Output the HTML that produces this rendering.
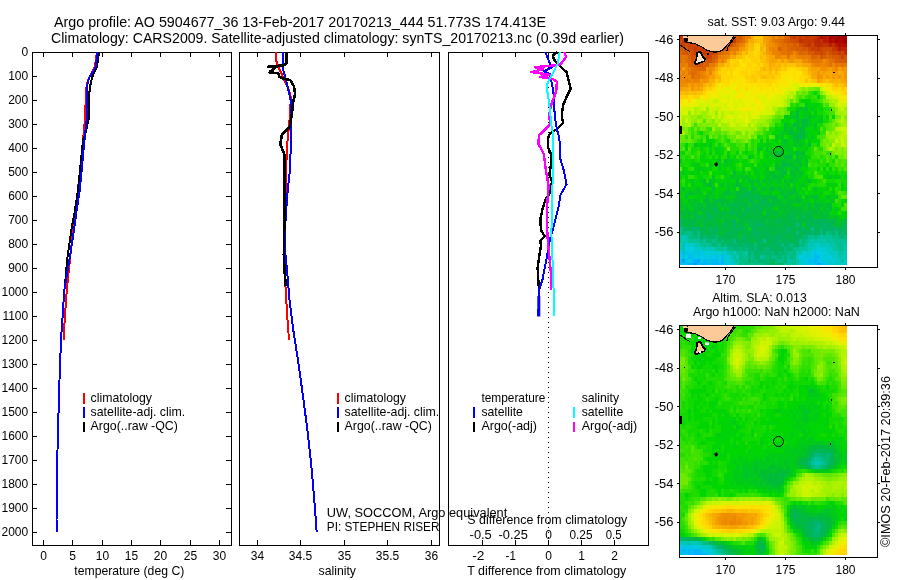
<!DOCTYPE html>
<html><head><meta charset="utf-8"><title>Argo profile AO 5904677_36</title>
<style>
html,body{margin:0;padding:0;background:#fff;}
svg{display:block;font-family:'Liberation Sans', Arial, Helvetica, sans-serif;}
text{fill:#000;}
</style></head><body>
<svg width="900" height="580" viewBox="0 0 900 580">
<rect x="0" y="0" width="900" height="580" fill="#fff"/>
<text x="54" y="26.8" font-size="14.2" text-anchor="start" textLength="492" lengthAdjust="spacingAndGlyphs">Argo profile: AO 5904677_36 13-Feb-2017 20170213_444 51.773S 174.413E</text>
<text x="51" y="43" font-size="14.2" text-anchor="start" textLength="573" lengthAdjust="spacingAndGlyphs">Climatology: CARS2009. Satellite-adjusted climatology: synTS_20170213.nc (0.39d earlier)</text>
<rect x="32.5" y="52.5" width="199" height="493" fill="none" stroke="#000" stroke-width="1"/>
<line x1="33" y1="52.5" x2="37" y2="52.5" stroke="#000" stroke-width="1"/>
<line x1="226" y1="52.5" x2="231" y2="52.5" stroke="#000" stroke-width="1"/>
<text x="28.2" y="56.3" font-size="12" text-anchor="end">0</text>
<line x1="33" y1="76.5" x2="37" y2="76.5" stroke="#000" stroke-width="1"/>
<line x1="226" y1="76.5" x2="231" y2="76.5" stroke="#000" stroke-width="1"/>
<text x="28.2" y="80.3" font-size="12" text-anchor="end">100</text>
<line x1="33" y1="100.5" x2="37" y2="100.5" stroke="#000" stroke-width="1"/>
<line x1="226" y1="100.5" x2="231" y2="100.5" stroke="#000" stroke-width="1"/>
<text x="28.2" y="104.3" font-size="12" text-anchor="end">200</text>
<line x1="33" y1="124.5" x2="37" y2="124.5" stroke="#000" stroke-width="1"/>
<line x1="226" y1="124.5" x2="231" y2="124.5" stroke="#000" stroke-width="1"/>
<text x="28.2" y="128.3" font-size="12" text-anchor="end">300</text>
<line x1="33" y1="148.5" x2="37" y2="148.5" stroke="#000" stroke-width="1"/>
<line x1="226" y1="148.5" x2="231" y2="148.5" stroke="#000" stroke-width="1"/>
<text x="28.2" y="152.3" font-size="12" text-anchor="end">400</text>
<line x1="33" y1="172.5" x2="37" y2="172.5" stroke="#000" stroke-width="1"/>
<line x1="226" y1="172.5" x2="231" y2="172.5" stroke="#000" stroke-width="1"/>
<text x="28.2" y="176.3" font-size="12" text-anchor="end">500</text>
<line x1="33" y1="196.5" x2="37" y2="196.5" stroke="#000" stroke-width="1"/>
<line x1="226" y1="196.5" x2="231" y2="196.5" stroke="#000" stroke-width="1"/>
<text x="28.2" y="200.3" font-size="12" text-anchor="end">600</text>
<line x1="33" y1="220.5" x2="37" y2="220.5" stroke="#000" stroke-width="1"/>
<line x1="226" y1="220.5" x2="231" y2="220.5" stroke="#000" stroke-width="1"/>
<text x="28.2" y="224.3" font-size="12" text-anchor="end">700</text>
<line x1="33" y1="244.5" x2="37" y2="244.5" stroke="#000" stroke-width="1"/>
<line x1="226" y1="244.5" x2="231" y2="244.5" stroke="#000" stroke-width="1"/>
<text x="28.2" y="248.3" font-size="12" text-anchor="end">800</text>
<line x1="33" y1="268.5" x2="37" y2="268.5" stroke="#000" stroke-width="1"/>
<line x1="226" y1="268.5" x2="231" y2="268.5" stroke="#000" stroke-width="1"/>
<text x="28.2" y="272.3" font-size="12" text-anchor="end">900</text>
<line x1="33" y1="292.5" x2="37" y2="292.5" stroke="#000" stroke-width="1"/>
<line x1="226" y1="292.5" x2="231" y2="292.5" stroke="#000" stroke-width="1"/>
<text x="28.2" y="296.3" font-size="12" text-anchor="end">1000</text>
<line x1="33" y1="316.5" x2="37" y2="316.5" stroke="#000" stroke-width="1"/>
<line x1="226" y1="316.5" x2="231" y2="316.5" stroke="#000" stroke-width="1"/>
<text x="28.2" y="320.3" font-size="12" text-anchor="end">1100</text>
<line x1="33" y1="340.5" x2="37" y2="340.5" stroke="#000" stroke-width="1"/>
<line x1="226" y1="340.5" x2="231" y2="340.5" stroke="#000" stroke-width="1"/>
<text x="28.2" y="344.3" font-size="12" text-anchor="end">1200</text>
<line x1="33" y1="364.5" x2="37" y2="364.5" stroke="#000" stroke-width="1"/>
<line x1="226" y1="364.5" x2="231" y2="364.5" stroke="#000" stroke-width="1"/>
<text x="28.2" y="368.3" font-size="12" text-anchor="end">1300</text>
<line x1="33" y1="388.5" x2="37" y2="388.5" stroke="#000" stroke-width="1"/>
<line x1="226" y1="388.5" x2="231" y2="388.5" stroke="#000" stroke-width="1"/>
<text x="28.2" y="392.3" font-size="12" text-anchor="end">1400</text>
<line x1="33" y1="412.5" x2="37" y2="412.5" stroke="#000" stroke-width="1"/>
<line x1="226" y1="412.5" x2="231" y2="412.5" stroke="#000" stroke-width="1"/>
<text x="28.2" y="416.3" font-size="12" text-anchor="end">1500</text>
<line x1="33" y1="436.5" x2="37" y2="436.5" stroke="#000" stroke-width="1"/>
<line x1="226" y1="436.5" x2="231" y2="436.5" stroke="#000" stroke-width="1"/>
<text x="28.2" y="440.3" font-size="12" text-anchor="end">1600</text>
<line x1="33" y1="460.5" x2="37" y2="460.5" stroke="#000" stroke-width="1"/>
<line x1="226" y1="460.5" x2="231" y2="460.5" stroke="#000" stroke-width="1"/>
<text x="28.2" y="464.3" font-size="12" text-anchor="end">1700</text>
<line x1="33" y1="484.5" x2="37" y2="484.5" stroke="#000" stroke-width="1"/>
<line x1="226" y1="484.5" x2="231" y2="484.5" stroke="#000" stroke-width="1"/>
<text x="28.2" y="488.3" font-size="12" text-anchor="end">1800</text>
<line x1="33" y1="508.5" x2="37" y2="508.5" stroke="#000" stroke-width="1"/>
<line x1="226" y1="508.5" x2="231" y2="508.5" stroke="#000" stroke-width="1"/>
<text x="28.2" y="512.3" font-size="12" text-anchor="end">1900</text>
<line x1="33" y1="532.5" x2="37" y2="532.5" stroke="#000" stroke-width="1"/>
<line x1="226" y1="532.5" x2="231" y2="532.5" stroke="#000" stroke-width="1"/>
<text x="28.2" y="536.3" font-size="12" text-anchor="end">2000</text>
<line x1="43.5" y1="545" x2="43.5" y2="540" stroke="#000" stroke-width="1"/>
<line x1="43.5" y1="53" x2="43.5" y2="57" stroke="#000" stroke-width="1"/>
<text x="43.5" y="560.3" font-size="12" text-anchor="middle">0</text>
<line x1="72.5" y1="545" x2="72.5" y2="540" stroke="#000" stroke-width="1"/>
<line x1="72.5" y1="53" x2="72.5" y2="57" stroke="#000" stroke-width="1"/>
<text x="72.5" y="560.3" font-size="12" text-anchor="middle">5</text>
<line x1="102.5" y1="545" x2="102.5" y2="540" stroke="#000" stroke-width="1"/>
<line x1="102.5" y1="53" x2="102.5" y2="57" stroke="#000" stroke-width="1"/>
<text x="102.5" y="560.3" font-size="12" text-anchor="middle">10</text>
<line x1="131.5" y1="545" x2="131.5" y2="540" stroke="#000" stroke-width="1"/>
<line x1="131.5" y1="53" x2="131.5" y2="57" stroke="#000" stroke-width="1"/>
<text x="131.5" y="560.3" font-size="12" text-anchor="middle">15</text>
<line x1="160.5" y1="545" x2="160.5" y2="540" stroke="#000" stroke-width="1"/>
<line x1="160.5" y1="53" x2="160.5" y2="57" stroke="#000" stroke-width="1"/>
<text x="160.5" y="560.3" font-size="12" text-anchor="middle">20</text>
<line x1="190.5" y1="545" x2="190.5" y2="540" stroke="#000" stroke-width="1"/>
<line x1="190.5" y1="53" x2="190.5" y2="57" stroke="#000" stroke-width="1"/>
<text x="190.5" y="560.3" font-size="12" text-anchor="middle">25</text>
<line x1="219.5" y1="545" x2="219.5" y2="540" stroke="#000" stroke-width="1"/>
<line x1="219.5" y1="53" x2="219.5" y2="57" stroke="#000" stroke-width="1"/>
<text x="219.5" y="560.3" font-size="12" text-anchor="middle">30</text>
<text x="74.3" y="574.8" font-size="12.2" text-anchor="start" textLength="110" lengthAdjust="spacingAndGlyphs">temperature (deg C)</text>
<rect x="239.5" y="52.5" width="200" height="493" fill="none" stroke="#000" stroke-width="1"/>
<line x1="257.5" y1="545" x2="257.5" y2="540" stroke="#000" stroke-width="1"/>
<line x1="257.5" y1="53" x2="257.5" y2="57" stroke="#000" stroke-width="1"/>
<text x="257.5" y="560.3" font-size="12" text-anchor="middle">34</text>
<line x1="300.5" y1="545" x2="300.5" y2="540" stroke="#000" stroke-width="1"/>
<line x1="300.5" y1="53" x2="300.5" y2="57" stroke="#000" stroke-width="1"/>
<text x="300.5" y="560.3" font-size="12" text-anchor="middle">34.5</text>
<line x1="344.5" y1="545" x2="344.5" y2="540" stroke="#000" stroke-width="1"/>
<line x1="344.5" y1="53" x2="344.5" y2="57" stroke="#000" stroke-width="1"/>
<text x="344.5" y="560.3" font-size="12" text-anchor="middle">35</text>
<line x1="387.5" y1="545" x2="387.5" y2="540" stroke="#000" stroke-width="1"/>
<line x1="387.5" y1="53" x2="387.5" y2="57" stroke="#000" stroke-width="1"/>
<text x="387.5" y="560.3" font-size="12" text-anchor="middle">35.5</text>
<line x1="431.5" y1="545" x2="431.5" y2="540" stroke="#000" stroke-width="1"/>
<line x1="431.5" y1="53" x2="431.5" y2="57" stroke="#000" stroke-width="1"/>
<text x="431.5" y="560.3" font-size="12" text-anchor="middle">36</text>
<text x="337.3" y="574.8" font-size="12.2" text-anchor="middle" textLength="37.4" lengthAdjust="spacingAndGlyphs">salinity</text>
<rect x="448.5" y="52.5" width="200" height="493" fill="none" stroke="#000" stroke-width="1"/>
<line x1="482.5" y1="545" x2="482.5" y2="540" stroke="#000" stroke-width="1"/>
<line x1="482.5" y1="53" x2="482.5" y2="57" stroke="#000" stroke-width="1"/>
<line x1="515.5" y1="545" x2="515.5" y2="540" stroke="#000" stroke-width="1"/>
<line x1="515.5" y1="53" x2="515.5" y2="57" stroke="#000" stroke-width="1"/>
<line x1="548.5" y1="545" x2="548.5" y2="540" stroke="#000" stroke-width="1"/>
<line x1="548.5" y1="53" x2="548.5" y2="57" stroke="#000" stroke-width="1"/>
<line x1="581.5" y1="545" x2="581.5" y2="540" stroke="#000" stroke-width="1"/>
<line x1="581.5" y1="53" x2="581.5" y2="57" stroke="#000" stroke-width="1"/>
<line x1="614.5" y1="545" x2="614.5" y2="540" stroke="#000" stroke-width="1"/>
<line x1="614.5" y1="53" x2="614.5" y2="57" stroke="#000" stroke-width="1"/>
<text x="472.3" y="559.8" font-size="12" text-anchor="start" textLength="12.2" lengthAdjust="spacingAndGlyphs">-2</text>
<text x="505.6" y="559.8" font-size="12" text-anchor="start" textLength="10.2" lengthAdjust="spacingAndGlyphs">-1</text>
<text x="548.5" y="559.8" font-size="12" text-anchor="middle">0</text>
<text x="581.5" y="559.8" font-size="12" text-anchor="middle">1</text>
<text x="614.5" y="559.8" font-size="12" text-anchor="middle">2</text>
<text x="469.6" y="538.5" font-size="12" text-anchor="start" textLength="22.2" lengthAdjust="spacingAndGlyphs">-0.5</text>
<text x="498.6" y="538.5" font-size="12" text-anchor="start" textLength="29.2" lengthAdjust="spacingAndGlyphs">-0.25</text>
<text x="548.5" y="538.5" font-size="12" text-anchor="middle">0</text>
<text x="569.5" y="538.5" font-size="12" text-anchor="start" textLength="23" lengthAdjust="spacingAndGlyphs">0.25</text>
<text x="605.8" y="538.5" font-size="12" text-anchor="start" textLength="15.8" lengthAdjust="spacingAndGlyphs">0.5</text>
<text x="467.3" y="574.8" font-size="12.2" text-anchor="start" textLength="159" lengthAdjust="spacingAndGlyphs">T difference from climatology</text>
<text x="467.3" y="524.4" font-size="12.2" text-anchor="start" textLength="160" lengthAdjust="spacingAndGlyphs">S difference from climatology</text>
<line x1="548.5" y1="52" x2="548.5" y2="545" stroke="#000" stroke-width="1" stroke-dasharray="1 4"/>
<polyline points="97.0,52.0 95.5,62.0 94.5,67.0 90.0,76.0 87.5,82.0 86.0,90.0 85.5,105.0 85.0,119.0 82.5,146.0 79.0,180.0 75.5,212.0 72.0,240.0 69.9,260.0 66.8,290.0 65.0,315.0 63.5,340.0" fill="none" stroke="#f00" stroke-width="2" stroke-linejoin="round" stroke-linecap="butt" shape-rendering="crispEdges"/>
<polyline points="99.0,52.0 98.0,60.0 97.0,67.0 94.0,73.0 92.0,77.6 90.5,84.5 89.0,95.0 88.6,119.0 86.0,132.0 83.0,140.0 81.0,160.0 78.0,190.0 75.0,210.0 71.7,228.0 67.1,260.0 65.0,285.0" fill="none" stroke="#000" stroke-width="2" stroke-linejoin="round" stroke-linecap="butt" shape-rendering="crispEdges"/>
<polyline points="97.5,52.0 96.5,60.0 95.5,67.0 93.0,72.0 89.0,77.6 87.5,84.0 86.7,100.0 86.7,119.0 84.5,140.0 82.6,160.0 79.8,190.0 76.7,210.0 74.3,228.0 69.4,260.0 64.3,290.0 62.7,315.0 61.0,340.0 59.5,380.0 58.3,420.0 57.5,450.0 57.0,480.0 57.0,500.0 56.5,520.0 56.5,532.0" fill="none" stroke="#00f" stroke-width="2" stroke-linejoin="round" stroke-linecap="butt" shape-rendering="crispEdges"/>
<polyline points="275.8,52.0 275.8,58.6 277.1,63.8 279.2,69.0 281.4,73.3 284.4,80.2 287.9,87.1 290.4,95.0 290.9,98.3 289.3,123.0 287.6,139.8 286.5,160.0 286.0,174.5 285.6,217.6 284.5,240.0 283.8,250.0 284.5,270.0 286.0,295.0 287.5,320.0 289.0,340.0" fill="none" stroke="#f00" stroke-width="2" stroke-linejoin="round" stroke-linecap="butt" shape-rendering="crispEdges"/>
<polyline points="282.7,52.0 282.7,64.7 283.6,71.6 285.3,76.7 287.0,84.5 289.2,93.1 290.6,100.0 291.0,130.0 290.4,160.0 289.5,174.5 287.6,191.7 285.6,217.6 285.0,240.0 285.5,255.0 287.0,270.0 289.5,300.0 293.3,330.0 298.7,365.0 303.5,400.0 307.4,430.0 311.3,465.0 314.3,500.0 316.7,532.0" fill="none" stroke="#00f" stroke-width="2" stroke-linejoin="round" stroke-linecap="butt" shape-rendering="crispEdges"/>
<polyline points="286.6,52.0 286.6,62.9 284.8,65.1 268.5,66.8 277.5,66.0 270.6,71.1 269.8,72.4 278.4,73.3 279.2,76.7 282.7,78.4 287.0,79.3 290.4,80.2 293.9,86.2 294.8,91.4 294.9,95.0 293.2,101.7 292.1,111.8 289.9,126.4 282.0,134.2 280.3,144.3 284.3,154.4 284.8,160.0 284.5,174.5 284.5,191.7 284.5,217.6 284.0,240.0 283.8,255.0 284.5,270.0 285.8,286.0" fill="none" stroke="#000" stroke-width="2.6" stroke-linejoin="round" stroke-linecap="butt" shape-rendering="crispEdges"/>
<polyline points="557.6,52.0 552.8,55.5 554.1,59.7 557.6,63.8 561.7,67.9 566.6,72.0 568.0,77.6 570.7,88.6 566.6,96.9 563.1,105.2 561.7,116.2 563.1,123.0 556.9,129.1 550.0,133.3 547.9,138.8 547.9,147.0 551.4,155.3 550.7,166.4 549.3,174.7 552.1,181.6 550.0,192.6 545.2,200.0 542.4,209.7 540.3,219.3 541.0,230.3 544.5,235.9 540.3,241.4 541.0,245.5 539.0,258.0 537.6,267.6 538.3,280.0 539.0,290.2" fill="none" stroke="#000" stroke-width="2.4" stroke-linejoin="round" stroke-linecap="butt" shape-rendering="crispEdges"/>
<polyline points="545.2,52.0 550.0,63.8 552.0,67.2 543.8,71.4 550.0,74.0 551.4,81.7 553.4,91.4 554.1,105.0 554.8,116.0 556.9,130.0 558.3,133.3 560.3,145.7 559.7,156.7 563.8,170.5 566.6,184.3 560.3,195.3 559.0,205.0 553.4,227.6 550.0,238.6 547.2,255.2 542.4,280.0 539.0,290.2 538.3,316.4" fill="none" stroke="#00f" stroke-width="2" stroke-linejoin="round" stroke-linecap="butt" shape-rendering="crispEdges"/>
<polyline points="564.5,52.0 565.9,56.9 561.0,63.8 556.9,65.2 534.8,67.2 543.0,69.3 531.4,72.0 550.0,74.8 539.7,76.9 552.8,79.0 556.9,81.7 556.2,91.4 552.0,102.4 549.3,113.4 550.0,124.5 539.0,135.3 538.3,143.6 543.8,154.0 545.9,170.5 548.6,185.7 547.2,205.0 547.0,227.6 547.9,241.4 551.1,275.0 551.1,289.5" fill="none" stroke="#f0f" stroke-width="2.4" stroke-linejoin="round" stroke-linecap="butt" shape-rendering="crispEdges"/>
<polyline points="559.7,52.0 557.6,63.8 552.8,73.4 548.0,81.7 546.6,87.2 548.0,95.5 550.0,110.7 551.4,125.0 553.4,136.0 553.0,170.0 552.0,200.0 551.4,234.5 553.4,280.0 553.9,316.4" fill="none" stroke="#0ff" stroke-width="2" stroke-linejoin="round" stroke-linecap="butt" shape-rendering="crispEdges"/>
<line x1="538.8" y1="296" x2="538.8" y2="316.5" stroke="#00f" stroke-width="3"/>
<rect x="83" y="393" width="2" height="11" fill="#f00"/>
<text x="90.6" y="401.6" font-size="12.2" text-anchor="start" textLength="61.4" lengthAdjust="spacingAndGlyphs">climatology</text>
<rect x="83" y="407" width="2" height="11" fill="#00f"/>
<text x="90.6" y="415.9" font-size="12.2" text-anchor="start" textLength="94.6" lengthAdjust="spacingAndGlyphs">satellite-adj. clim.</text>
<rect x="83" y="422" width="2" height="10" fill="#000"/>
<text x="90.6" y="430.2" font-size="12.2" text-anchor="start" textLength="87.2" lengthAdjust="spacingAndGlyphs">Argo(..raw -QC)</text>
<rect x="337" y="393" width="2" height="11" fill="#f00"/>
<text x="344.6" y="401.6" font-size="12.2" text-anchor="start" textLength="61.4" lengthAdjust="spacingAndGlyphs">climatology</text>
<rect x="337" y="407" width="2" height="11" fill="#00f"/>
<text x="344.6" y="415.9" font-size="12.2" text-anchor="start" textLength="94.6" lengthAdjust="spacingAndGlyphs">satellite-adj. clim.</text>
<rect x="337" y="422" width="2" height="10" fill="#000"/>
<text x="344.6" y="430.2" font-size="12.2" text-anchor="start" textLength="87.2" lengthAdjust="spacingAndGlyphs">Argo(..raw -QC)</text>
<text x="481.4" y="401.6" font-size="12.2" text-anchor="start" textLength="64" lengthAdjust="spacingAndGlyphs">temperature</text>
<rect x="473" y="407" width="2" height="11" fill="#00f"/>
<text x="481.4" y="415.9" font-size="12.2" text-anchor="start" textLength="41.5" lengthAdjust="spacingAndGlyphs">satellite</text>
<rect x="473" y="422" width="2" height="10" fill="#000"/>
<text x="481.4" y="430.2" font-size="12.2" text-anchor="start" textLength="55.6" lengthAdjust="spacingAndGlyphs">Argo(-adj)</text>
<text x="581.7" y="401.6" font-size="12.2" text-anchor="start" textLength="37.3" lengthAdjust="spacingAndGlyphs">salinity</text>
<rect x="573" y="407" width="2" height="11" fill="#0ff"/>
<text x="581.7" y="415.9" font-size="12.2" text-anchor="start" textLength="41.5" lengthAdjust="spacingAndGlyphs">satellite</text>
<rect x="573" y="422" width="2" height="10" fill="#f0f"/>
<text x="581.7" y="430.2" font-size="12.2" text-anchor="start" textLength="55.6" lengthAdjust="spacingAndGlyphs">Argo(-adj)</text>
<text x="326.8" y="516.5" font-size="12" text-anchor="start" textLength="180.5" lengthAdjust="spacingAndGlyphs">UW, SOCCOM, Argo equivalent</text>
<text x="326.8" y="531" font-size="12" text-anchor="start" textLength="112.6" lengthAdjust="spacingAndGlyphs">PI: STEPHEN RISER</text>
<path fill="#c23000" d="M679 35h3v4h-3zM700 39h3v4h-3zM799 39h3v4h-3zM820 39h3v4h-3zM700 43h3v4h-3zM814 43h3v4h-3zM826 43h3v4h-3zM832 43h3v4h-3zM835 47h3v4h-3z"/>
<path fill="#ca4100" d="M682 35h3v4h-3zM691 35h3v4h-3zM709 35h3v4h-3zM733 35h3v4h-3zM790 35h3v4h-3zM802 35h3v4h-3zM685 39h3v4h-3zM691 39h3v4h-3zM703 39h3v4h-3zM715 39h3v4h-3zM724 39h3v4h-3zM727 39h3v4h-3zM679 43h3v4h-3zM682 43h3v4h-3zM688 43h3v4h-3zM691 43h3v4h-3zM694 43h3v4h-3zM697 43h3v4h-3zM703 43h3v4h-3zM712 43h3v4h-3zM718 43h3v4h-3zM814 47h3v4h-3zM694 51h3v4h-3zM706 51h3v4h-3zM709 51h3v4h-3zM712 51h3v4h-3zM841 55h3v4h-3z"/>
<path fill="#c83c00" d="M685 35h3v4h-3zM694 35h3v4h-3zM697 35h3v4h-3zM712 35h3v4h-3zM718 35h3v4h-3zM721 35h3v4h-3zM730 35h3v4h-3zM811 35h3v4h-3zM682 39h3v4h-3zM697 39h3v4h-3zM733 39h3v4h-3zM805 39h3v4h-3zM805 43h3v4h-3zM700 47h3v4h-3zM712 47h3v4h-3zM811 47h3v4h-3zM838 51h3v4h-3zM706 55h3v4h-3z"/>
<path fill="#c63800" d="M688 35h3v4h-3zM706 35h3v4h-3zM715 35h3v4h-3zM727 35h3v4h-3zM793 35h3v4h-3zM799 35h3v4h-3zM808 35h3v4h-3zM814 35h3v4h-3zM802 39h3v4h-3zM808 39h3v4h-3zM811 39h3v4h-3zM709 43h3v4h-3zM823 43h3v4h-3zM694 47h3v4h-3zM706 47h3v4h-3zM817 47h3v4h-3zM832 47h3v4h-3zM703 51h3v4h-3z"/>
<path fill="#ce4b00" d="M700 35h3v4h-3zM724 35h3v4h-3zM679 39h3v4h-3zM694 39h3v4h-3zM718 39h3v4h-3zM724 43h3v4h-3zM709 47h3v4h-3zM718 47h3v4h-3zM808 47h3v4h-3zM823 47h3v4h-3zM826 47h3v4h-3zM829 47h3v4h-3zM691 51h3v4h-3zM814 51h3v4h-3zM817 51h3v4h-3z"/>
<path fill="#c43400" d="M703 35h3v4h-3zM805 35h3v4h-3zM688 39h3v4h-3zM721 39h3v4h-3zM730 39h3v4h-3zM808 43h3v4h-3zM703 47h3v4h-3z"/>
<path fill="#d85f00" d="M736 35h3v4h-3zM784 39h3v4h-3zM727 47h3v4h-3zM778 47h3v4h-3zM799 47h3v4h-3zM826 51h3v4h-3zM688 55h3v4h-3zM715 55h3v4h-3zM823 55h3v4h-3zM712 59h3v4h-3zM835 59h3v4h-3zM838 59h3v4h-3zM706 63h3v4h-3z"/>
<path fill="#d25500" d="M739 35h3v4h-3zM685 47h3v4h-3zM721 47h3v4h-3zM802 47h3v4h-3zM685 51h3v4h-3zM700 55h3v4h-3zM703 55h3v4h-3zM820 55h3v4h-3zM838 55h3v4h-3zM844 55h3v4h-3zM706 59h3v4h-3zM844 59h3v4h-3zM700 63h3v4h-3z"/>
<path fill="#e16e00" d="M742 35h3v4h-3zM742 39h3v4h-3zM781 43h3v4h-3zM784 43h3v4h-3zM781 47h3v4h-3zM721 51h3v4h-3zM787 51h3v4h-3zM679 55h3v4h-3zM817 55h3v4h-3zM679 59h3v4h-3zM685 59h3v4h-3zM715 59h3v4h-3zM832 59h3v4h-3zM691 67h3v4h-3zM694 71h3v4h-3z"/>
<path fill="#eb8200" d="M745 35h3v4h-3zM748 35h3v4h-3zM775 43h3v4h-3zM772 47h3v4h-3zM775 47h3v4h-3zM733 51h3v4h-3zM772 51h3v4h-3zM775 51h3v4h-3zM721 55h3v4h-3zM796 55h3v4h-3zM721 59h3v4h-3zM808 59h3v4h-3zM685 63h3v4h-3zM814 63h3v4h-3zM685 67h3v4h-3zM700 71h3v4h-3zM709 71h3v4h-3zM685 75h3v4h-3zM703 75h3v4h-3zM688 79h3v4h-3zM697 79h3v4h-3z"/>
<path fill="#f8aa00" d="M751 35h3v4h-3zM748 39h3v4h-3zM751 39h3v4h-3zM730 55h3v4h-3zM775 59h3v4h-3zM769 63h3v4h-3zM802 63h3v4h-3zM715 67h3v4h-3zM811 71h3v4h-3zM826 71h3v4h-3zM829 71h3v4h-3zM811 75h3v4h-3zM814 75h3v4h-3zM823 75h3v4h-3zM829 75h3v4h-3zM841 79h3v4h-3zM700 87h3v4h-3z"/>
<path fill="#ffcd00" d="M754 35h3v4h-3zM748 51h3v4h-3zM751 51h3v4h-3zM748 55h3v4h-3zM751 55h3v4h-3zM754 59h3v4h-3zM733 63h3v4h-3zM736 63h3v4h-3zM757 63h3v4h-3zM727 67h3v4h-3zM781 67h3v4h-3zM718 71h3v4h-3zM763 71h3v4h-3zM802 71h3v4h-3zM745 75h3v4h-3zM754 75h3v4h-3zM715 79h3v4h-3zM766 79h3v4h-3zM709 87h3v4h-3zM679 95h3v4h-3zM685 95h3v4h-3z"/>
<path fill="#fec800" d="M757 35h3v4h-3zM760 35h3v4h-3zM742 55h3v4h-3zM784 67h3v4h-3zM802 67h3v4h-3zM805 67h3v4h-3zM757 71h3v4h-3zM760 71h3v4h-3zM766 71h3v4h-3zM805 71h3v4h-3zM751 75h3v4h-3zM769 75h3v4h-3zM808 75h3v4h-3zM754 79h3v4h-3zM811 79h3v4h-3zM712 83h3v4h-3zM832 83h3v4h-3zM838 83h3v4h-3zM841 87h3v4h-3z"/>
<path fill="#f59b00" d="M763 35h3v4h-3zM766 39h3v4h-3zM742 47h3v4h-3zM766 47h3v4h-3zM736 51h3v4h-3zM781 59h3v4h-3zM682 67h3v4h-3zM832 71h3v4h-3zM835 71h3v4h-3zM826 75h3v4h-3zM832 75h3v4h-3zM700 79h3v4h-3zM694 83h3v4h-3zM700 83h3v4h-3zM679 87h3v4h-3z"/>
<path fill="#f39600" d="M766 35h3v4h-3zM766 43h3v4h-3zM739 47h3v4h-3zM769 51h3v4h-3zM724 59h3v4h-3zM826 67h3v4h-3zM844 67h3v4h-3zM706 71h3v4h-3zM817 71h3v4h-3zM844 71h3v4h-3zM820 75h3v4h-3zM838 75h3v4h-3zM844 75h3v4h-3zM706 79h3v4h-3zM697 83h3v4h-3zM691 87h3v4h-3z"/>
<path fill="#f19100" d="M769 35h3v4h-3zM769 43h3v4h-3zM730 51h3v4h-3zM781 55h3v4h-3zM784 55h3v4h-3zM790 55h3v4h-3zM793 55h3v4h-3zM718 59h3v4h-3zM790 59h3v4h-3zM706 67h3v4h-3zM712 67h3v4h-3zM820 67h3v4h-3zM832 67h3v4h-3zM841 67h3v4h-3zM817 75h3v4h-3zM703 79h3v4h-3zM685 83h3v4h-3zM691 83h3v4h-3z"/>
<path fill="#e77a00" d="M772 35h3v4h-3zM772 39h3v4h-3zM733 47h3v4h-3zM736 47h3v4h-3zM727 51h3v4h-3zM802 55h3v4h-3zM808 55h3v4h-3zM682 59h3v4h-3zM820 59h3v4h-3zM682 63h3v4h-3zM709 63h3v4h-3zM712 63h3v4h-3zM838 63h3v4h-3zM679 67h3v4h-3zM688 67h3v4h-3zM679 75h3v4h-3z"/>
<path fill="#ef8c00" d="M775 35h3v4h-3zM769 39h3v4h-3zM772 43h3v4h-3zM727 55h3v4h-3zM802 59h3v4h-3zM805 59h3v4h-3zM823 59h3v4h-3zM715 63h3v4h-3zM811 63h3v4h-3zM823 67h3v4h-3zM679 71h3v4h-3zM685 71h3v4h-3zM688 75h3v4h-3zM706 75h3v4h-3zM679 83h3v4h-3zM682 83h3v4h-3z"/>
<path fill="#e57600" d="M778 35h3v4h-3zM778 43h3v4h-3zM730 47h3v4h-3zM682 55h3v4h-3zM787 55h3v4h-3zM811 59h3v4h-3zM814 59h3v4h-3zM817 59h3v4h-3zM835 63h3v4h-3zM844 63h3v4h-3zM688 71h3v4h-3zM697 71h3v4h-3zM694 75h3v4h-3zM697 75h3v4h-3z"/>
<path fill="#e97e00" d="M781 35h3v4h-3zM739 43h3v4h-3zM778 51h3v4h-3zM718 55h3v4h-3zM799 55h3v4h-3zM805 55h3v4h-3zM826 59h3v4h-3zM679 63h3v4h-3zM817 63h3v4h-3zM826 63h3v4h-3zM682 71h3v4h-3zM700 75h3v4h-3zM685 79h3v4h-3zM694 79h3v4h-3z"/>
<path fill="#de6900" d="M784 35h3v4h-3zM781 39h3v4h-3zM790 43h3v4h-3zM787 47h3v4h-3zM802 51h3v4h-3zM805 51h3v4h-3zM826 55h3v4h-3zM688 59h3v4h-3zM694 67h3v4h-3zM697 67h3v4h-3zM691 71h3v4h-3zM691 75h3v4h-3z"/>
<path fill="#db6400" d="M787 35h3v4h-3zM739 39h3v4h-3zM733 43h3v4h-3zM787 43h3v4h-3zM796 43h3v4h-3zM790 47h3v4h-3zM793 47h3v4h-3zM679 51h3v4h-3zM718 51h3v4h-3zM799 51h3v4h-3zM811 55h3v4h-3zM814 55h3v4h-3zM829 55h3v4h-3zM694 59h3v4h-3zM697 59h3v4h-3zM688 63h3v4h-3zM691 63h3v4h-3zM703 63h3v4h-3zM700 67h3v4h-3zM703 67h3v4h-3z"/>
<path fill="#cc4600" d="M796 35h3v4h-3zM706 39h3v4h-3zM709 39h3v4h-3zM712 39h3v4h-3zM796 39h3v4h-3zM706 43h3v4h-3zM715 43h3v4h-3zM721 43h3v4h-3zM727 43h3v4h-3zM802 43h3v4h-3zM811 43h3v4h-3zM688 47h3v4h-3zM691 47h3v4h-3zM697 47h3v4h-3zM820 47h3v4h-3zM697 51h3v4h-3zM700 51h3v4h-3zM820 51h3v4h-3zM832 51h3v4h-3zM835 51h3v4h-3zM841 51h3v4h-3zM697 55h3v4h-3zM709 55h3v4h-3z"/>
<path fill="#bc2300" d="M817 35h3v4h-3zM817 39h3v4h-3zM841 47h3v4h-3zM844 47h3v4h-3z"/>
<path fill="#b10c00" d="M820 35h3v4h-3zM832 39h3v4h-3zM838 43h3v4h-3zM844 43h3v4h-3z"/>
<path fill="#b61400" d="M823 35h3v4h-3zM841 43h3v4h-3z"/>
<path fill="#b81900" d="M826 35h3v4h-3zM823 39h3v4h-3zM835 43h3v4h-3zM838 47h3v4h-3z"/>
<path fill="#a80300" d="M829 35h3v4h-3zM844 35h3v4h-3z"/>
<path fill="#ae0900" d="M832 35h3v4h-3zM829 39h3v4h-3zM838 39h3v4h-3z"/>
<path fill="#ab0600" d="M835 35h3v4h-3zM841 39h3v4h-3z"/>
<path fill="#a50000" d="M838 35h3v4h-3zM841 35h3v4h-3zM835 39h3v4h-3zM844 39h3v4h-3z"/>
<path fill="#d55a00" d="M736 39h3v4h-3zM787 39h3v4h-3zM793 43h3v4h-3zM679 47h3v4h-3zM682 47h3v4h-3zM796 47h3v4h-3zM805 47h3v4h-3zM682 51h3v4h-3zM688 51h3v4h-3zM808 51h3v4h-3zM811 51h3v4h-3zM712 55h3v4h-3zM832 55h3v4h-3zM835 55h3v4h-3zM700 59h3v4h-3zM703 59h3v4h-3zM841 59h3v4h-3zM694 63h3v4h-3z"/>
<path fill="#ed8700" d="M745 39h3v4h-3zM742 43h3v4h-3zM769 47h3v4h-3zM793 51h3v4h-3zM724 55h3v4h-3zM775 55h3v4h-3zM778 55h3v4h-3zM820 63h3v4h-3zM823 63h3v4h-3zM832 63h3v4h-3zM709 67h3v4h-3zM835 67h3v4h-3zM703 71h3v4h-3zM682 75h3v4h-3zM679 79h3v4h-3zM682 79h3v4h-3zM691 79h3v4h-3z"/>
<path fill="#fbb900" d="M754 39h3v4h-3zM748 43h3v4h-3zM751 43h3v4h-3zM760 43h3v4h-3zM760 55h3v4h-3zM727 59h3v4h-3zM775 63h3v4h-3zM784 63h3v4h-3zM715 71h3v4h-3zM808 71h3v4h-3zM718 75h3v4h-3zM763 75h3v4h-3zM823 79h3v4h-3zM835 83h3v4h-3zM679 91h3v4h-3zM694 91h3v4h-3z"/>
<path fill="#fdc300" d="M757 39h3v4h-3zM748 47h3v4h-3zM763 47h3v4h-3zM742 51h3v4h-3zM760 51h3v4h-3zM763 55h3v4h-3zM760 59h3v4h-3zM724 63h3v4h-3zM763 63h3v4h-3zM781 63h3v4h-3zM787 63h3v4h-3zM790 63h3v4h-3zM793 63h3v4h-3zM766 67h3v4h-3zM772 67h3v4h-3zM760 75h3v4h-3zM766 75h3v4h-3zM772 75h3v4h-3zM805 79h3v4h-3zM826 79h3v4h-3zM703 87h3v4h-3zM697 91h3v4h-3zM700 91h3v4h-3z"/>
<path fill="#fcbe00" d="M760 39h3v4h-3zM751 47h3v4h-3zM736 55h3v4h-3zM739 55h3v4h-3zM763 59h3v4h-3zM727 63h3v4h-3zM766 63h3v4h-3zM718 67h3v4h-3zM760 67h3v4h-3zM778 67h3v4h-3zM769 71h3v4h-3zM775 71h3v4h-3zM718 79h3v4h-3zM814 79h3v4h-3zM706 83h3v4h-3zM841 83h3v4h-3zM682 91h3v4h-3zM688 91h3v4h-3zM691 91h3v4h-3z"/>
<path fill="#f7a500" d="M763 39h3v4h-3zM745 43h3v4h-3zM739 51h3v4h-3zM733 55h3v4h-3zM769 55h3v4h-3zM772 55h3v4h-3zM769 59h3v4h-3zM796 59h3v4h-3zM799 59h3v4h-3zM721 63h3v4h-3zM805 63h3v4h-3zM808 63h3v4h-3zM817 67h3v4h-3zM838 67h3v4h-3zM712 71h3v4h-3zM814 71h3v4h-3zM820 71h3v4h-3zM841 71h3v4h-3zM835 75h3v4h-3zM841 75h3v4h-3zM682 87h3v4h-3zM685 87h3v4h-3zM694 87h3v4h-3z"/>
<path fill="#e37200" d="M775 39h3v4h-3zM778 39h3v4h-3zM736 43h3v4h-3zM784 47h3v4h-3zM724 51h3v4h-3zM781 51h3v4h-3zM784 51h3v4h-3zM790 51h3v4h-3zM796 51h3v4h-3zM685 55h3v4h-3zM829 59h3v4h-3zM829 63h3v4h-3zM841 63h3v4h-3z"/>
<path fill="#d05000" d="M790 39h3v4h-3zM793 39h3v4h-3zM685 43h3v4h-3zM730 43h3v4h-3zM799 43h3v4h-3zM715 47h3v4h-3zM724 47h3v4h-3zM715 51h3v4h-3zM823 51h3v4h-3zM829 51h3v4h-3zM691 55h3v4h-3zM694 55h3v4h-3zM691 59h3v4h-3zM709 59h3v4h-3zM697 63h3v4h-3z"/>
<path fill="#be2800" d="M814 39h3v4h-3zM817 43h3v4h-3z"/>
<path fill="#ba1e00" d="M826 39h3v4h-3zM829 43h3v4h-3z"/>
<path fill="#ffd500" d="M754 43h3v4h-3zM754 47h3v4h-3zM754 55h3v4h-3zM742 59h3v4h-3zM757 59h3v4h-3zM730 63h3v4h-3zM724 67h3v4h-3zM745 67h3v4h-3zM757 67h3v4h-3zM796 67h3v4h-3zM721 71h3v4h-3zM724 71h3v4h-3zM721 75h3v4h-3zM727 75h3v4h-3zM730 75h3v4h-3zM775 75h3v4h-3zM805 75h3v4h-3zM721 79h3v4h-3zM727 79h3v4h-3zM760 79h3v4h-3zM763 79h3v4h-3zM772 79h3v4h-3zM715 83h3v4h-3zM769 83h3v4h-3zM832 87h3v4h-3zM844 87h3v4h-3zM703 91h3v4h-3z"/>
<path fill="#ffd900" d="M757 43h3v4h-3zM745 55h3v4h-3zM730 59h3v4h-3zM745 59h3v4h-3zM745 63h3v4h-3zM751 63h3v4h-3zM754 63h3v4h-3zM760 63h3v4h-3zM733 67h3v4h-3zM748 67h3v4h-3zM751 67h3v4h-3zM787 67h3v4h-3zM739 71h3v4h-3zM748 71h3v4h-3zM724 75h3v4h-3zM799 75h3v4h-3zM802 75h3v4h-3zM724 79h3v4h-3zM745 79h3v4h-3zM757 79h3v4h-3zM775 79h3v4h-3zM808 79h3v4h-3zM757 83h3v4h-3zM766 83h3v4h-3zM820 83h3v4h-3zM826 83h3v4h-3zM712 87h3v4h-3zM745 87h3v4h-3zM835 87h3v4h-3zM838 87h3v4h-3zM688 95h3v4h-3zM691 95h3v4h-3zM688 99h3v4h-3z"/>
<path fill="#f9af00" d="M763 43h3v4h-3zM745 47h3v4h-3zM760 47h3v4h-3zM784 59h3v4h-3zM718 63h3v4h-3zM796 63h3v4h-3zM769 67h3v4h-3zM808 67h3v4h-3zM838 71h3v4h-3zM709 79h3v4h-3zM712 79h3v4h-3zM820 79h3v4h-3zM832 79h3v4h-3zM835 79h3v4h-3zM703 83h3v4h-3zM844 83h3v4h-3zM688 87h3v4h-3z"/>
<path fill="#c02c00" d="M820 43h3v4h-3zM844 51h3v4h-3z"/>
<path fill="#ffdd00" d="M757 47h3v4h-3zM754 51h3v4h-3zM748 59h3v4h-3zM739 63h3v4h-3zM739 67h3v4h-3zM742 67h3v4h-3zM790 67h3v4h-3zM793 67h3v4h-3zM781 71h3v4h-3zM784 71h3v4h-3zM793 71h3v4h-3zM733 75h3v4h-3zM739 75h3v4h-3zM742 75h3v4h-3zM793 75h3v4h-3zM733 79h3v4h-3zM799 79h3v4h-3zM802 79h3v4h-3zM724 83h3v4h-3zM727 83h3v4h-3zM739 83h3v4h-3zM751 83h3v4h-3zM760 83h3v4h-3zM763 83h3v4h-3zM775 83h3v4h-3zM829 83h3v4h-3zM736 87h3v4h-3zM760 87h3v4h-3zM772 87h3v4h-3zM841 91h3v4h-3zM679 99h3v4h-3z"/>
<path fill="#fab400" d="M745 51h3v4h-3zM763 51h3v4h-3zM766 55h3v4h-3zM766 59h3v4h-3zM778 59h3v4h-3zM772 63h3v4h-3zM778 63h3v4h-3zM799 63h3v4h-3zM763 67h3v4h-3zM775 67h3v4h-3zM715 75h3v4h-3zM829 79h3v4h-3zM838 79h3v4h-3zM709 83h3v4h-3zM685 91h3v4h-3z"/>
<path fill="#ffd100" d="M757 51h3v4h-3zM757 55h3v4h-3zM733 59h3v4h-3zM736 59h3v4h-3zM751 59h3v4h-3zM748 63h3v4h-3zM721 67h3v4h-3zM730 67h3v4h-3zM754 67h3v4h-3zM799 67h3v4h-3zM730 71h3v4h-3zM742 71h3v4h-3zM745 71h3v4h-3zM751 71h3v4h-3zM754 71h3v4h-3zM772 71h3v4h-3zM778 71h3v4h-3zM748 75h3v4h-3zM757 75h3v4h-3zM778 75h3v4h-3zM748 79h3v4h-3zM751 79h3v4h-3zM769 79h3v4h-3zM706 87h3v4h-3zM844 91h3v4h-3zM682 95h3v4h-3zM694 95h3v4h-3zM697 95h3v4h-3z"/>
<path fill="#f6a000" d="M766 51h3v4h-3zM772 59h3v4h-3zM787 59h3v4h-3zM793 59h3v4h-3zM811 67h3v4h-3zM814 67h3v4h-3zM829 67h3v4h-3zM823 71h3v4h-3zM709 75h3v4h-3zM712 75h3v4h-3zM817 79h3v4h-3zM844 79h3v4h-3zM688 83h3v4h-3zM697 87h3v4h-3z"/>
<path fill="#fbe400" d="M739 59h3v4h-3zM742 63h3v4h-3zM733 71h3v4h-3zM787 71h3v4h-3zM790 71h3v4h-3zM799 71h3v4h-3zM787 75h3v4h-3zM796 75h3v4h-3zM742 79h3v4h-3zM781 79h3v4h-3zM793 79h3v4h-3zM748 83h3v4h-3zM754 83h3v4h-3zM778 83h3v4h-3zM784 83h3v4h-3zM748 87h3v4h-3zM703 95h3v4h-3zM739 95h3v4h-3z"/>
<path fill="#ffe100" d="M736 67h3v4h-3zM727 71h3v4h-3zM736 71h3v4h-3zM736 75h3v4h-3zM781 75h3v4h-3zM730 79h3v4h-3zM739 79h3v4h-3zM778 79h3v4h-3zM784 79h3v4h-3zM721 83h3v4h-3zM745 83h3v4h-3zM715 87h3v4h-3zM829 87h3v4h-3zM706 91h3v4h-3zM835 91h3v4h-3zM706 95h3v4h-3z"/>
<path fill="#f7e700" d="M796 71h3v4h-3zM784 75h3v4h-3zM790 75h3v4h-3zM736 79h3v4h-3zM796 79h3v4h-3zM736 83h3v4h-3zM742 83h3v4h-3zM802 83h3v4h-3zM823 83h3v4h-3zM721 87h3v4h-3zM751 87h3v4h-3zM763 87h3v4h-3zM766 87h3v4h-3zM778 87h3v4h-3zM709 91h3v4h-3zM715 91h3v4h-3zM754 91h3v4h-3zM766 91h3v4h-3zM838 91h3v4h-3zM754 95h3v4h-3zM838 95h3v4h-3zM754 99h3v4h-3zM682 103h3v4h-3zM757 107h3v4h-3z"/>
<path fill="#ebf000" d="M787 79h3v4h-3zM805 83h3v4h-3zM811 83h3v4h-3zM718 87h3v4h-3zM724 87h3v4h-3zM730 87h3v4h-3zM784 87h3v4h-3zM718 91h3v4h-3zM727 91h3v4h-3zM772 91h3v4h-3zM712 95h3v4h-3zM730 95h3v4h-3zM745 95h3v4h-3zM694 99h3v4h-3zM721 99h3v4h-3zM724 99h3v4h-3zM730 99h3v4h-3zM745 99h3v4h-3zM748 99h3v4h-3zM679 103h3v4h-3zM730 103h3v4h-3zM745 103h3v4h-3zM748 103h3v4h-3zM754 103h3v4h-3zM730 107h3v4h-3zM739 107h3v4h-3zM751 107h3v4h-3zM760 107h3v4h-3zM754 111h3v4h-3zM745 119h3v4h-3z"/>
<path fill="#efed00" d="M790 79h3v4h-3zM718 83h3v4h-3zM787 83h3v4h-3zM790 83h3v4h-3zM799 83h3v4h-3zM742 87h3v4h-3zM775 87h3v4h-3zM781 87h3v4h-3zM745 91h3v4h-3zM748 91h3v4h-3zM763 91h3v4h-3zM781 91h3v4h-3zM832 91h3v4h-3zM700 95h3v4h-3zM751 95h3v4h-3zM769 95h3v4h-3zM844 95h3v4h-3zM685 99h3v4h-3zM691 99h3v4h-3zM751 99h3v4h-3zM685 103h3v4h-3zM691 103h3v4h-3zM757 103h3v4h-3zM760 103h3v4h-3zM763 103h3v4h-3zM742 107h3v4h-3z"/>
<path fill="#f3ea00" d="M730 83h3v4h-3zM733 83h3v4h-3zM772 83h3v4h-3zM781 83h3v4h-3zM808 83h3v4h-3zM817 83h3v4h-3zM733 87h3v4h-3zM739 87h3v4h-3zM754 87h3v4h-3zM757 87h3v4h-3zM769 87h3v4h-3zM826 87h3v4h-3zM712 91h3v4h-3zM724 91h3v4h-3zM736 91h3v4h-3zM739 91h3v4h-3zM742 91h3v4h-3zM751 91h3v4h-3zM757 91h3v4h-3zM760 91h3v4h-3zM769 91h3v4h-3zM775 91h3v4h-3zM778 91h3v4h-3zM715 95h3v4h-3zM736 95h3v4h-3zM742 95h3v4h-3zM748 95h3v4h-3zM766 95h3v4h-3zM841 95h3v4h-3zM682 99h3v4h-3zM757 99h3v4h-3zM841 99h3v4h-3zM745 107h3v4h-3zM748 107h3v4h-3z"/>
<path fill="#d6f300" d="M793 83h3v4h-3zM796 83h3v4h-3zM787 87h3v4h-3zM784 91h3v4h-3zM826 91h3v4h-3zM763 95h3v4h-3zM718 99h3v4h-3zM739 99h3v4h-3zM778 99h3v4h-3zM703 103h3v4h-3zM709 103h3v4h-3zM718 103h3v4h-3zM736 103h3v4h-3zM742 103h3v4h-3zM769 103h3v4h-3zM724 107h3v4h-3zM682 111h3v4h-3zM685 111h3v4h-3zM718 111h3v4h-3zM739 111h3v4h-3zM760 111h3v4h-3zM763 111h3v4h-3zM766 111h3v4h-3zM742 115h3v4h-3zM730 123h3v4h-3z"/>
<path fill="#e4f100" d="M814 83h3v4h-3zM790 87h3v4h-3zM793 87h3v4h-3zM721 91h3v4h-3zM730 91h3v4h-3zM829 91h3v4h-3zM709 95h3v4h-3zM721 95h3v4h-3zM724 95h3v4h-3zM733 95h3v4h-3zM760 95h3v4h-3zM772 95h3v4h-3zM700 99h3v4h-3zM703 99h3v4h-3zM736 99h3v4h-3zM742 99h3v4h-3zM760 99h3v4h-3zM766 99h3v4h-3zM688 103h3v4h-3zM694 103h3v4h-3zM727 103h3v4h-3zM739 103h3v4h-3zM679 107h3v4h-3zM736 107h3v4h-3zM754 107h3v4h-3zM763 107h3v4h-3zM757 111h3v4h-3zM730 115h3v4h-3zM739 115h3v4h-3zM745 115h3v4h-3zM751 115h3v4h-3z"/>
<path fill="#ddf200" d="M727 87h3v4h-3zM823 87h3v4h-3zM733 91h3v4h-3zM718 95h3v4h-3zM757 95h3v4h-3zM775 95h3v4h-3zM778 95h3v4h-3zM835 95h3v4h-3zM697 99h3v4h-3zM706 99h3v4h-3zM709 99h3v4h-3zM727 99h3v4h-3zM733 99h3v4h-3zM763 99h3v4h-3zM769 99h3v4h-3zM772 99h3v4h-3zM775 99h3v4h-3zM838 99h3v4h-3zM844 99h3v4h-3zM697 103h3v4h-3zM712 103h3v4h-3zM715 103h3v4h-3zM721 103h3v4h-3zM733 103h3v4h-3zM751 103h3v4h-3zM766 103h3v4h-3zM778 103h3v4h-3zM838 103h3v4h-3zM721 107h3v4h-3zM727 107h3v4h-3zM733 107h3v4h-3zM769 107h3v4h-3zM742 111h3v4h-3zM745 111h3v4h-3zM751 111h3v4h-3zM727 115h3v4h-3zM754 115h3v4h-3z"/>
<path fill="#c8f500" d="M796 87h3v4h-3zM820 87h3v4h-3zM784 95h3v4h-3zM781 99h3v4h-3zM700 103h3v4h-3zM781 103h3v4h-3zM841 103h3v4h-3zM844 103h3v4h-3zM700 107h3v4h-3zM841 107h3v4h-3zM679 111h3v4h-3zM691 111h3v4h-3zM709 111h3v4h-3zM724 111h3v4h-3zM727 111h3v4h-3zM733 111h3v4h-3zM772 111h3v4h-3zM718 115h3v4h-3zM748 115h3v4h-3zM724 119h3v4h-3zM739 119h3v4h-3zM733 123h3v4h-3zM742 123h3v4h-3zM751 123h3v4h-3zM841 127h3v4h-3zM844 127h3v4h-3zM844 131h3v4h-3zM835 139h3v4h-3zM841 139h3v4h-3zM841 143h3v4h-3z"/>
<path fill="#a0f100" d="M799 87h3v4h-3zM829 99h3v4h-3zM844 107h3v4h-3zM700 111h3v4h-3zM841 111h3v4h-3zM694 115h3v4h-3zM703 115h3v4h-3zM706 115h3v4h-3zM769 115h3v4h-3zM706 119h3v4h-3zM718 119h3v4h-3zM763 119h3v4h-3zM838 119h3v4h-3zM682 123h3v4h-3zM685 123h3v4h-3zM721 123h3v4h-3zM724 123h3v4h-3zM748 123h3v4h-3zM841 123h3v4h-3zM712 127h3v4h-3zM721 127h3v4h-3zM730 127h3v4h-3zM751 127h3v4h-3zM682 131h3v4h-3zM748 131h3v4h-3zM826 131h3v4h-3zM832 131h3v4h-3zM838 131h3v4h-3zM748 135h3v4h-3zM829 135h3v4h-3zM832 135h3v4h-3zM835 135h3v4h-3zM835 143h3v4h-3zM838 143h3v4h-3zM832 147h3v4h-3z"/>
<path fill="#88ee00" d="M802 87h3v4h-3zM820 91h3v4h-3zM793 99h3v4h-3zM826 99h3v4h-3zM778 107h3v4h-3zM781 107h3v4h-3zM835 107h3v4h-3zM775 111h3v4h-3zM781 111h3v4h-3zM700 115h3v4h-3zM844 115h3v4h-3zM694 119h3v4h-3zM766 119h3v4h-3zM835 119h3v4h-3zM703 123h3v4h-3zM709 123h3v4h-3zM712 123h3v4h-3zM715 123h3v4h-3zM760 123h3v4h-3zM838 123h3v4h-3zM685 127h3v4h-3zM733 131h3v4h-3zM835 131h3v4h-3zM739 135h3v4h-3zM742 135h3v4h-3zM826 135h3v4h-3zM745 139h3v4h-3zM829 139h3v4h-3zM832 139h3v4h-3zM826 143h3v4h-3zM826 147h3v4h-3zM835 151h3v4h-3zM838 151h3v4h-3zM844 151h3v4h-3zM844 155h3v4h-3z"/>
<path fill="#96f000" d="M805 87h3v4h-3zM793 95h3v4h-3zM787 99h3v4h-3zM787 103h3v4h-3zM829 103h3v4h-3zM832 103h3v4h-3zM706 107h3v4h-3zM688 111h3v4h-3zM703 111h3v4h-3zM715 111h3v4h-3zM835 111h3v4h-3zM691 115h3v4h-3zM682 119h3v4h-3zM691 119h3v4h-3zM700 119h3v4h-3zM709 119h3v4h-3zM844 119h3v4h-3zM757 123h3v4h-3zM763 123h3v4h-3zM766 123h3v4h-3zM724 127h3v4h-3zM727 127h3v4h-3zM679 131h3v4h-3zM730 131h3v4h-3zM751 131h3v4h-3zM736 135h3v4h-3zM838 147h3v4h-3zM844 147h3v4h-3z"/>
<path fill="#7aec00" d="M808 87h3v4h-3zM811 87h3v4h-3zM799 91h3v4h-3zM823 99h3v4h-3zM778 111h3v4h-3zM697 115h3v4h-3zM772 115h3v4h-3zM838 115h3v4h-3zM712 119h3v4h-3zM769 119h3v4h-3zM691 123h3v4h-3zM697 123h3v4h-3zM700 123h3v4h-3zM706 123h3v4h-3zM832 123h3v4h-3zM757 127h3v4h-3zM685 131h3v4h-3zM727 131h3v4h-3zM739 131h3v4h-3zM745 131h3v4h-3zM829 131h3v4h-3zM745 135h3v4h-3zM754 135h3v4h-3zM823 139h3v4h-3zM727 147h3v4h-3zM835 147h3v4h-3zM841 147h3v4h-3zM841 151h3v4h-3z"/>
<path fill="#6cea00" d="M814 87h3v4h-3zM796 91h3v4h-3zM805 91h3v4h-3zM784 107h3v4h-3zM832 107h3v4h-3zM784 111h3v4h-3zM835 115h3v4h-3zM682 127h3v4h-3zM694 127h3v4h-3zM700 127h3v4h-3zM703 127h3v4h-3zM715 127h3v4h-3zM718 127h3v4h-3zM760 127h3v4h-3zM766 127h3v4h-3zM832 127h3v4h-3zM712 131h3v4h-3zM721 131h3v4h-3zM736 131h3v4h-3zM754 131h3v4h-3zM679 135h3v4h-3zM682 135h3v4h-3zM688 135h3v4h-3zM709 135h3v4h-3zM730 135h3v4h-3zM733 135h3v4h-3zM679 139h3v4h-3zM688 139h3v4h-3zM733 139h3v4h-3zM742 139h3v4h-3zM826 139h3v4h-3zM823 143h3v4h-3zM829 143h3v4h-3zM832 151h3v4h-3zM838 155h3v4h-3zM841 155h3v4h-3zM679 167h3v4h-3z"/>
<path fill="#5ee800" d="M817 87h3v4h-3zM802 91h3v4h-3zM796 95h3v4h-3zM802 95h3v4h-3zM823 95h3v4h-3zM790 99h3v4h-3zM796 99h3v4h-3zM787 111h3v4h-3zM775 115h3v4h-3zM781 115h3v4h-3zM832 119h3v4h-3zM769 123h3v4h-3zM829 123h3v4h-3zM835 123h3v4h-3zM829 127h3v4h-3zM688 131h3v4h-3zM709 131h3v4h-3zM724 131h3v4h-3zM760 131h3v4h-3zM715 135h3v4h-3zM727 135h3v4h-3zM751 135h3v4h-3zM769 135h3v4h-3zM682 139h3v4h-3zM685 139h3v4h-3zM739 139h3v4h-3zM820 143h3v4h-3zM814 147h3v4h-3zM823 147h3v4h-3zM835 159h3v4h-3zM841 163h3v4h-3zM841 195h3v4h-3zM844 195h3v4h-3z"/>
<path fill="#cff400" d="M787 91h3v4h-3zM727 95h3v4h-3zM781 95h3v4h-3zM832 95h3v4h-3zM712 99h3v4h-3zM706 103h3v4h-3zM724 103h3v4h-3zM772 103h3v4h-3zM775 103h3v4h-3zM682 107h3v4h-3zM685 107h3v4h-3zM688 107h3v4h-3zM691 107h3v4h-3zM703 107h3v4h-3zM709 107h3v4h-3zM712 107h3v4h-3zM766 107h3v4h-3zM736 111h3v4h-3zM748 111h3v4h-3zM769 111h3v4h-3zM679 115h3v4h-3zM712 115h3v4h-3zM724 115h3v4h-3zM733 115h3v4h-3zM736 115h3v4h-3zM757 115h3v4h-3zM679 119h3v4h-3zM685 119h3v4h-3zM730 119h3v4h-3zM736 119h3v4h-3zM742 119h3v4h-3zM748 119h3v4h-3zM745 123h3v4h-3z"/>
<path fill="#b4f300" d="M790 91h3v4h-3zM823 91h3v4h-3zM826 95h3v4h-3zM784 99h3v4h-3zM832 99h3v4h-3zM784 103h3v4h-3zM697 107h3v4h-3zM772 107h3v4h-3zM838 107h3v4h-3zM721 111h3v4h-3zM844 111h3v4h-3zM685 115h3v4h-3zM721 115h3v4h-3zM760 115h3v4h-3zM763 115h3v4h-3zM841 115h3v4h-3zM715 119h3v4h-3zM751 119h3v4h-3zM841 119h3v4h-3zM679 123h3v4h-3zM688 123h3v4h-3zM736 123h3v4h-3zM739 127h3v4h-3zM835 127h3v4h-3zM742 131h3v4h-3zM841 131h3v4h-3zM838 135h3v4h-3zM844 135h3v4h-3zM844 143h3v4h-3zM829 147h3v4h-3z"/>
<path fill="#bef400" d="M793 91h3v4h-3zM790 95h3v4h-3zM829 95h3v4h-3zM715 99h3v4h-3zM835 103h3v4h-3zM715 107h3v4h-3zM718 107h3v4h-3zM697 111h3v4h-3zM712 111h3v4h-3zM730 111h3v4h-3zM721 119h3v4h-3zM727 119h3v4h-3zM733 119h3v4h-3zM754 119h3v4h-3zM718 123h3v4h-3zM739 123h3v4h-3zM838 127h3v4h-3zM841 135h3v4h-3zM832 143h3v4h-3z"/>
<path fill="#40e300" d="M808 91h3v4h-3zM799 95h3v4h-3zM814 95h3v4h-3zM820 95h3v4h-3zM826 103h3v4h-3zM829 111h3v4h-3zM832 111h3v4h-3zM775 119h3v4h-3zM778 119h3v4h-3zM829 119h3v4h-3zM694 123h3v4h-3zM823 123h3v4h-3zM697 127h3v4h-3zM706 127h3v4h-3zM763 127h3v4h-3zM706 131h3v4h-3zM703 135h3v4h-3zM712 135h3v4h-3zM817 135h3v4h-3zM820 135h3v4h-3zM694 139h3v4h-3zM679 143h3v4h-3zM736 143h3v4h-3zM739 143h3v4h-3zM679 147h3v4h-3zM739 147h3v4h-3zM742 147h3v4h-3zM748 147h3v4h-3zM685 151h3v4h-3zM697 151h3v4h-3zM739 151h3v4h-3zM814 151h3v4h-3zM817 151h3v4h-3zM820 151h3v4h-3zM817 155h3v4h-3zM751 159h3v4h-3zM820 159h3v4h-3zM838 159h3v4h-3zM808 163h3v4h-3zM838 163h3v4h-3zM844 163h3v4h-3zM745 167h3v4h-3zM838 167h3v4h-3zM709 171h3v4h-3zM814 175h3v4h-3zM823 179h3v4h-3zM841 191h3v4h-3zM835 199h3v4h-3zM841 207h3v4h-3zM844 207h3v4h-3z"/>
<path fill="#20dd00" d="M811 91h3v4h-3zM808 95h3v4h-3zM811 99h3v4h-3zM814 99h3v4h-3zM790 103h3v4h-3zM787 107h3v4h-3zM823 107h3v4h-3zM826 107h3v4h-3zM823 111h3v4h-3zM823 115h3v4h-3zM778 123h3v4h-3zM772 127h3v4h-3zM823 127h3v4h-3zM697 131h3v4h-3zM766 131h3v4h-3zM769 131h3v4h-3zM691 135h3v4h-3zM760 135h3v4h-3zM697 139h3v4h-3zM715 139h3v4h-3zM751 139h3v4h-3zM721 143h3v4h-3zM730 143h3v4h-3zM733 143h3v4h-3zM751 143h3v4h-3zM811 143h3v4h-3zM814 143h3v4h-3zM697 147h3v4h-3zM706 147h3v4h-3zM724 147h3v4h-3zM730 147h3v4h-3zM733 147h3v4h-3zM736 147h3v4h-3zM751 147h3v4h-3zM793 147h3v4h-3zM811 147h3v4h-3zM820 147h3v4h-3zM694 151h3v4h-3zM706 151h3v4h-3zM712 151h3v4h-3zM730 151h3v4h-3zM733 151h3v4h-3zM811 151h3v4h-3zM679 155h3v4h-3zM688 155h3v4h-3zM694 155h3v4h-3zM709 155h3v4h-3zM715 155h3v4h-3zM721 155h3v4h-3zM724 155h3v4h-3zM754 155h3v4h-3zM820 155h3v4h-3zM682 159h3v4h-3zM697 159h3v4h-3zM721 159h3v4h-3zM748 159h3v4h-3zM754 159h3v4h-3zM808 159h3v4h-3zM811 159h3v4h-3zM814 159h3v4h-3zM823 159h3v4h-3zM685 163h3v4h-3zM736 163h3v4h-3zM811 163h3v4h-3zM817 163h3v4h-3zM820 163h3v4h-3zM823 163h3v4h-3zM688 167h3v4h-3zM739 167h3v4h-3zM772 167h3v4h-3zM811 167h3v4h-3zM814 167h3v4h-3zM808 171h3v4h-3zM817 171h3v4h-3zM838 171h3v4h-3zM709 175h3v4h-3zM706 179h3v4h-3zM820 179h3v4h-3zM835 179h3v4h-3zM838 179h3v4h-3zM682 183h3v4h-3zM688 183h3v4h-3zM811 183h3v4h-3zM817 183h3v4h-3zM820 183h3v4h-3zM823 183h3v4h-3zM736 187h3v4h-3zM808 187h3v4h-3zM829 187h3v4h-3zM838 187h3v4h-3zM835 191h3v4h-3zM838 199h3v4h-3zM838 203h3v4h-3zM838 211h3v4h-3z"/>
<path fill="#00d700" d="M814 91h3v4h-3zM817 95h3v4h-3zM808 99h3v4h-3zM811 103h3v4h-3zM808 107h3v4h-3zM814 107h3v4h-3zM799 111h3v4h-3zM832 115h3v4h-3zM784 119h3v4h-3zM793 119h3v4h-3zM814 119h3v4h-3zM778 127h3v4h-3zM781 127h3v4h-3zM793 127h3v4h-3zM808 127h3v4h-3zM811 127h3v4h-3zM817 127h3v4h-3zM700 131h3v4h-3zM772 131h3v4h-3zM775 131h3v4h-3zM811 131h3v4h-3zM814 131h3v4h-3zM706 135h3v4h-3zM787 135h3v4h-3zM808 135h3v4h-3zM814 135h3v4h-3zM706 139h3v4h-3zM709 139h3v4h-3zM712 139h3v4h-3zM772 139h3v4h-3zM811 139h3v4h-3zM814 139h3v4h-3zM817 139h3v4h-3zM697 143h3v4h-3zM700 143h3v4h-3zM706 143h3v4h-3zM757 143h3v4h-3zM772 143h3v4h-3zM775 143h3v4h-3zM805 143h3v4h-3zM817 143h3v4h-3zM709 147h3v4h-3zM769 147h3v4h-3zM682 151h3v4h-3zM703 151h3v4h-3zM721 151h3v4h-3zM745 151h3v4h-3zM757 151h3v4h-3zM763 151h3v4h-3zM703 155h3v4h-3zM712 155h3v4h-3zM733 155h3v4h-3zM763 155h3v4h-3zM808 155h3v4h-3zM691 159h3v4h-3zM700 159h3v4h-3zM703 159h3v4h-3zM706 159h3v4h-3zM709 159h3v4h-3zM712 159h3v4h-3zM742 159h3v4h-3zM763 159h3v4h-3zM766 159h3v4h-3zM772 159h3v4h-3zM712 163h3v4h-3zM733 163h3v4h-3zM742 163h3v4h-3zM748 163h3v4h-3zM760 163h3v4h-3zM826 163h3v4h-3zM685 167h3v4h-3zM721 167h3v4h-3zM724 167h3v4h-3zM751 167h3v4h-3zM763 167h3v4h-3zM802 167h3v4h-3zM817 167h3v4h-3zM685 171h3v4h-3zM688 171h3v4h-3zM694 171h3v4h-3zM703 171h3v4h-3zM706 171h3v4h-3zM712 171h3v4h-3zM715 171h3v4h-3zM718 171h3v4h-3zM727 171h3v4h-3zM760 171h3v4h-3zM826 171h3v4h-3zM835 171h3v4h-3zM685 175h3v4h-3zM697 175h3v4h-3zM754 175h3v4h-3zM760 175h3v4h-3zM763 175h3v4h-3zM787 175h3v4h-3zM802 175h3v4h-3zM823 175h3v4h-3zM832 175h3v4h-3zM844 175h3v4h-3zM688 179h3v4h-3zM694 179h3v4h-3zM730 179h3v4h-3zM781 179h3v4h-3zM811 179h3v4h-3zM814 179h3v4h-3zM679 183h3v4h-3zM685 183h3v4h-3zM697 183h3v4h-3zM700 183h3v4h-3zM685 187h3v4h-3zM706 187h3v4h-3zM715 187h3v4h-3zM805 187h3v4h-3zM820 187h3v4h-3zM832 187h3v4h-3zM844 187h3v4h-3zM715 191h3v4h-3zM772 191h3v4h-3zM799 191h3v4h-3zM817 191h3v4h-3zM829 191h3v4h-3zM682 195h3v4h-3zM688 195h3v4h-3zM820 195h3v4h-3zM823 195h3v4h-3zM700 199h3v4h-3zM811 199h3v4h-3zM841 199h3v4h-3zM832 207h3v4h-3zM838 207h3v4h-3zM841 211h3v4h-3z"/>
<path fill="#30e000" d="M817 91h3v4h-3zM805 95h3v4h-3zM811 95h3v4h-3zM817 99h3v4h-3zM793 103h3v4h-3zM799 103h3v4h-3zM802 103h3v4h-3zM829 107h3v4h-3zM826 111h3v4h-3zM691 127h3v4h-3zM709 127h3v4h-3zM691 131h3v4h-3zM703 131h3v4h-3zM763 131h3v4h-3zM820 131h3v4h-3zM823 131h3v4h-3zM685 135h3v4h-3zM700 135h3v4h-3zM718 135h3v4h-3zM724 135h3v4h-3zM763 135h3v4h-3zM718 139h3v4h-3zM724 139h3v4h-3zM754 139h3v4h-3zM757 139h3v4h-3zM763 139h3v4h-3zM682 143h3v4h-3zM688 143h3v4h-3zM691 143h3v4h-3zM715 143h3v4h-3zM727 143h3v4h-3zM754 143h3v4h-3zM754 147h3v4h-3zM817 147h3v4h-3zM688 151h3v4h-3zM724 151h3v4h-3zM754 151h3v4h-3zM760 151h3v4h-3zM826 151h3v4h-3zM829 151h3v4h-3zM682 155h3v4h-3zM697 155h3v4h-3zM736 155h3v4h-3zM742 155h3v4h-3zM745 155h3v4h-3zM760 155h3v4h-3zM811 155h3v4h-3zM814 155h3v4h-3zM823 155h3v4h-3zM829 155h3v4h-3zM829 159h3v4h-3zM706 163h3v4h-3zM739 163h3v4h-3zM754 163h3v4h-3zM814 163h3v4h-3zM829 163h3v4h-3zM832 163h3v4h-3zM691 167h3v4h-3zM748 167h3v4h-3zM769 167h3v4h-3zM820 167h3v4h-3zM826 167h3v4h-3zM832 167h3v4h-3zM841 167h3v4h-3zM688 175h3v4h-3zM691 175h3v4h-3zM721 175h3v4h-3zM682 179h3v4h-3zM715 183h3v4h-3zM838 183h3v4h-3zM835 187h3v4h-3zM844 191h3v4h-3zM838 195h3v4h-3z"/>
<path fill="#aaf200" d="M787 95h3v4h-3zM835 99h3v4h-3zM694 107h3v4h-3zM775 107h3v4h-3zM694 111h3v4h-3zM706 111h3v4h-3zM838 111h3v4h-3zM682 115h3v4h-3zM688 115h3v4h-3zM709 115h3v4h-3zM715 115h3v4h-3zM766 115h3v4h-3zM688 119h3v4h-3zM697 119h3v4h-3zM757 119h3v4h-3zM760 119h3v4h-3zM727 123h3v4h-3zM754 123h3v4h-3zM844 123h3v4h-3zM679 127h3v4h-3zM733 127h3v4h-3zM736 127h3v4h-3zM742 127h3v4h-3zM745 127h3v4h-3zM748 127h3v4h-3zM754 127h3v4h-3zM838 139h3v4h-3zM844 139h3v4h-3z"/>
<path fill="#10da00" d="M799 99h3v4h-3zM796 103h3v4h-3zM820 103h3v4h-3zM790 107h3v4h-3zM793 107h3v4h-3zM817 107h3v4h-3zM811 111h3v4h-3zM817 111h3v4h-3zM820 111h3v4h-3zM790 119h3v4h-3zM823 119h3v4h-3zM826 119h3v4h-3zM775 123h3v4h-3zM781 123h3v4h-3zM817 123h3v4h-3zM820 123h3v4h-3zM769 127h3v4h-3zM757 135h3v4h-3zM766 135h3v4h-3zM784 135h3v4h-3zM700 139h3v4h-3zM727 139h3v4h-3zM769 139h3v4h-3zM778 139h3v4h-3zM805 139h3v4h-3zM712 143h3v4h-3zM745 143h3v4h-3zM691 147h3v4h-3zM694 147h3v4h-3zM703 147h3v4h-3zM712 147h3v4h-3zM745 147h3v4h-3zM763 147h3v4h-3zM808 147h3v4h-3zM679 151h3v4h-3zM691 151h3v4h-3zM700 151h3v4h-3zM742 151h3v4h-3zM748 151h3v4h-3zM751 151h3v4h-3zM805 151h3v4h-3zM808 151h3v4h-3zM685 155h3v4h-3zM706 155h3v4h-3zM730 155h3v4h-3zM739 155h3v4h-3zM757 155h3v4h-3zM793 155h3v4h-3zM835 155h3v4h-3zM685 159h3v4h-3zM688 159h3v4h-3zM694 159h3v4h-3zM739 159h3v4h-3zM757 159h3v4h-3zM817 159h3v4h-3zM832 159h3v4h-3zM679 163h3v4h-3zM682 163h3v4h-3zM688 163h3v4h-3zM700 163h3v4h-3zM703 163h3v4h-3zM772 163h3v4h-3zM712 167h3v4h-3zM715 167h3v4h-3zM727 167h3v4h-3zM736 167h3v4h-3zM808 167h3v4h-3zM835 167h3v4h-3zM700 171h3v4h-3zM730 171h3v4h-3zM745 171h3v4h-3zM751 171h3v4h-3zM787 171h3v4h-3zM805 171h3v4h-3zM811 171h3v4h-3zM820 171h3v4h-3zM823 171h3v4h-3zM829 171h3v4h-3zM832 171h3v4h-3zM841 171h3v4h-3zM844 171h3v4h-3zM682 175h3v4h-3zM694 175h3v4h-3zM703 175h3v4h-3zM706 175h3v4h-3zM715 175h3v4h-3zM718 175h3v4h-3zM808 175h3v4h-3zM811 175h3v4h-3zM841 175h3v4h-3zM679 179h3v4h-3zM739 179h3v4h-3zM817 179h3v4h-3zM826 179h3v4h-3zM829 179h3v4h-3zM832 179h3v4h-3zM841 179h3v4h-3zM844 179h3v4h-3zM790 183h3v4h-3zM808 183h3v4h-3zM814 183h3v4h-3zM844 183h3v4h-3zM802 187h3v4h-3zM703 191h3v4h-3zM805 191h3v4h-3zM823 191h3v4h-3zM826 191h3v4h-3zM802 195h3v4h-3zM832 203h3v4h-3zM835 203h3v4h-3z"/>
<path fill="#00d20b" d="M802 99h3v4h-3zM805 99h3v4h-3zM808 103h3v4h-3zM814 103h3v4h-3zM817 103h3v4h-3zM820 107h3v4h-3zM793 111h3v4h-3zM799 115h3v4h-3zM817 115h3v4h-3zM826 115h3v4h-3zM781 119h3v4h-3zM787 119h3v4h-3zM811 119h3v4h-3zM790 123h3v4h-3zM811 123h3v4h-3zM775 127h3v4h-3zM805 127h3v4h-3zM778 131h3v4h-3zM808 131h3v4h-3zM760 139h3v4h-3zM766 139h3v4h-3zM790 139h3v4h-3zM685 143h3v4h-3zM718 143h3v4h-3zM760 143h3v4h-3zM763 143h3v4h-3zM778 143h3v4h-3zM790 143h3v4h-3zM685 147h3v4h-3zM700 147h3v4h-3zM718 147h3v4h-3zM721 147h3v4h-3zM772 147h3v4h-3zM775 147h3v4h-3zM778 147h3v4h-3zM796 147h3v4h-3zM799 147h3v4h-3zM802 147h3v4h-3zM715 151h3v4h-3zM718 151h3v4h-3zM727 151h3v4h-3zM736 151h3v4h-3zM772 151h3v4h-3zM784 151h3v4h-3zM700 155h3v4h-3zM718 155h3v4h-3zM751 155h3v4h-3zM769 155h3v4h-3zM727 159h3v4h-3zM733 159h3v4h-3zM736 159h3v4h-3zM745 159h3v4h-3zM760 159h3v4h-3zM802 159h3v4h-3zM691 163h3v4h-3zM715 163h3v4h-3zM721 163h3v4h-3zM745 163h3v4h-3zM751 163h3v4h-3zM757 163h3v4h-3zM766 163h3v4h-3zM769 163h3v4h-3zM802 163h3v4h-3zM682 167h3v4h-3zM694 167h3v4h-3zM706 167h3v4h-3zM709 167h3v4h-3zM730 167h3v4h-3zM742 167h3v4h-3zM757 167h3v4h-3zM760 167h3v4h-3zM787 167h3v4h-3zM799 167h3v4h-3zM805 167h3v4h-3zM823 167h3v4h-3zM829 167h3v4h-3zM679 171h3v4h-3zM721 171h3v4h-3zM736 171h3v4h-3zM739 171h3v4h-3zM679 175h3v4h-3zM700 175h3v4h-3zM724 175h3v4h-3zM727 175h3v4h-3zM751 175h3v4h-3zM784 175h3v4h-3zM685 179h3v4h-3zM697 179h3v4h-3zM715 179h3v4h-3zM718 179h3v4h-3zM721 179h3v4h-3zM724 179h3v4h-3zM733 179h3v4h-3zM745 179h3v4h-3zM760 179h3v4h-3zM799 179h3v4h-3zM802 179h3v4h-3zM694 183h3v4h-3zM724 183h3v4h-3zM748 183h3v4h-3zM754 183h3v4h-3zM763 183h3v4h-3zM796 183h3v4h-3zM805 183h3v4h-3zM826 183h3v4h-3zM829 183h3v4h-3zM832 183h3v4h-3zM835 183h3v4h-3zM841 183h3v4h-3zM679 187h3v4h-3zM691 187h3v4h-3zM700 187h3v4h-3zM703 187h3v4h-3zM709 187h3v4h-3zM718 187h3v4h-3zM721 187h3v4h-3zM724 187h3v4h-3zM730 187h3v4h-3zM748 187h3v4h-3zM757 187h3v4h-3zM796 187h3v4h-3zM811 187h3v4h-3zM817 187h3v4h-3zM823 187h3v4h-3zM841 187h3v4h-3zM682 191h3v4h-3zM763 191h3v4h-3zM775 191h3v4h-3zM808 191h3v4h-3zM811 191h3v4h-3zM679 195h3v4h-3zM691 195h3v4h-3zM694 195h3v4h-3zM715 195h3v4h-3zM778 195h3v4h-3zM682 199h3v4h-3zM685 199h3v4h-3zM826 199h3v4h-3zM844 199h3v4h-3zM841 203h3v4h-3zM775 207h3v4h-3zM763 211h3v4h-3zM829 211h3v4h-3zM832 211h3v4h-3zM835 211h3v4h-3zM844 211h3v4h-3zM841 215h3v4h-3zM844 215h3v4h-3zM748 227h3v4h-3z"/>
<path fill="#50e600" d="M820 99h3v4h-3zM823 103h3v4h-3zM778 115h3v4h-3zM829 115h3v4h-3zM703 119h3v4h-3zM772 119h3v4h-3zM772 123h3v4h-3zM826 123h3v4h-3zM688 127h3v4h-3zM820 127h3v4h-3zM826 127h3v4h-3zM694 131h3v4h-3zM715 131h3v4h-3zM718 131h3v4h-3zM757 131h3v4h-3zM694 135h3v4h-3zM697 135h3v4h-3zM721 135h3v4h-3zM772 135h3v4h-3zM823 135h3v4h-3zM691 139h3v4h-3zM703 139h3v4h-3zM721 139h3v4h-3zM730 139h3v4h-3zM736 139h3v4h-3zM748 139h3v4h-3zM820 139h3v4h-3zM724 143h3v4h-3zM742 143h3v4h-3zM748 143h3v4h-3zM682 147h3v4h-3zM688 147h3v4h-3zM823 151h3v4h-3zM691 155h3v4h-3zM826 155h3v4h-3zM832 155h3v4h-3zM826 159h3v4h-3zM841 159h3v4h-3zM844 159h3v4h-3zM835 163h3v4h-3zM844 167h3v4h-3zM814 171h3v4h-3zM817 175h3v4h-3zM820 175h3v4h-3zM838 191h3v4h-3zM844 203h3v4h-3z"/>
<path fill="#00cc16" d="M805 103h3v4h-3zM796 107h3v4h-3zM802 111h3v4h-3zM805 111h3v4h-3zM808 111h3v4h-3zM814 111h3v4h-3zM784 115h3v4h-3zM787 115h3v4h-3zM802 115h3v4h-3zM811 115h3v4h-3zM814 115h3v4h-3zM820 115h3v4h-3zM817 119h3v4h-3zM787 123h3v4h-3zM799 123h3v4h-3zM787 127h3v4h-3zM784 131h3v4h-3zM805 131h3v4h-3zM817 131h3v4h-3zM781 135h3v4h-3zM790 135h3v4h-3zM805 135h3v4h-3zM775 139h3v4h-3zM787 139h3v4h-3zM799 139h3v4h-3zM802 139h3v4h-3zM808 139h3v4h-3zM703 143h3v4h-3zM766 143h3v4h-3zM769 143h3v4h-3zM787 143h3v4h-3zM802 143h3v4h-3zM715 147h3v4h-3zM760 147h3v4h-3zM781 147h3v4h-3zM784 147h3v4h-3zM805 147h3v4h-3zM709 151h3v4h-3zM766 151h3v4h-3zM787 151h3v4h-3zM727 155h3v4h-3zM775 155h3v4h-3zM781 155h3v4h-3zM805 155h3v4h-3zM715 159h3v4h-3zM769 159h3v4h-3zM775 159h3v4h-3zM778 159h3v4h-3zM694 163h3v4h-3zM697 163h3v4h-3zM718 163h3v4h-3zM724 163h3v4h-3zM727 163h3v4h-3zM730 163h3v4h-3zM778 163h3v4h-3zM796 163h3v4h-3zM697 167h3v4h-3zM700 167h3v4h-3zM703 167h3v4h-3zM718 167h3v4h-3zM733 167h3v4h-3zM691 171h3v4h-3zM697 171h3v4h-3zM724 171h3v4h-3zM742 171h3v4h-3zM748 171h3v4h-3zM754 171h3v4h-3zM757 171h3v4h-3zM766 171h3v4h-3zM775 171h3v4h-3zM796 171h3v4h-3zM802 171h3v4h-3zM748 175h3v4h-3zM757 175h3v4h-3zM799 175h3v4h-3zM805 175h3v4h-3zM826 175h3v4h-3zM835 175h3v4h-3zM838 175h3v4h-3zM700 179h3v4h-3zM766 179h3v4h-3zM772 179h3v4h-3zM787 179h3v4h-3zM796 179h3v4h-3zM805 179h3v4h-3zM712 183h3v4h-3zM718 183h3v4h-3zM730 183h3v4h-3zM742 183h3v4h-3zM745 183h3v4h-3zM772 183h3v4h-3zM775 183h3v4h-3zM778 183h3v4h-3zM781 183h3v4h-3zM799 183h3v4h-3zM688 187h3v4h-3zM694 187h3v4h-3zM766 187h3v4h-3zM775 187h3v4h-3zM787 187h3v4h-3zM799 187h3v4h-3zM826 187h3v4h-3zM679 191h3v4h-3zM706 191h3v4h-3zM718 191h3v4h-3zM766 191h3v4h-3zM778 191h3v4h-3zM802 191h3v4h-3zM814 191h3v4h-3zM820 191h3v4h-3zM832 191h3v4h-3zM700 195h3v4h-3zM703 195h3v4h-3zM709 195h3v4h-3zM718 195h3v4h-3zM727 195h3v4h-3zM790 195h3v4h-3zM793 195h3v4h-3zM808 195h3v4h-3zM829 195h3v4h-3zM832 195h3v4h-3zM784 199h3v4h-3zM802 199h3v4h-3zM808 199h3v4h-3zM817 199h3v4h-3zM823 199h3v4h-3zM829 199h3v4h-3zM685 203h3v4h-3zM688 203h3v4h-3zM718 203h3v4h-3zM793 203h3v4h-3zM796 203h3v4h-3zM799 203h3v4h-3zM811 203h3v4h-3zM823 203h3v4h-3zM691 207h3v4h-3zM721 207h3v4h-3zM820 207h3v4h-3zM700 211h3v4h-3zM814 215h3v4h-3zM838 215h3v4h-3zM721 219h3v4h-3zM802 223h3v4h-3z"/>
<path fill="#00c721" d="M799 107h3v4h-3zM802 107h3v4h-3zM811 107h3v4h-3zM790 111h3v4h-3zM790 115h3v4h-3zM793 115h3v4h-3zM805 115h3v4h-3zM799 119h3v4h-3zM808 119h3v4h-3zM820 119h3v4h-3zM808 123h3v4h-3zM814 127h3v4h-3zM775 135h3v4h-3zM778 135h3v4h-3zM811 135h3v4h-3zM781 139h3v4h-3zM793 139h3v4h-3zM694 143h3v4h-3zM709 143h3v4h-3zM781 143h3v4h-3zM784 143h3v4h-3zM793 143h3v4h-3zM796 143h3v4h-3zM757 147h3v4h-3zM787 147h3v4h-3zM790 147h3v4h-3zM769 151h3v4h-3zM790 151h3v4h-3zM793 151h3v4h-3zM799 151h3v4h-3zM748 155h3v4h-3zM766 155h3v4h-3zM772 155h3v4h-3zM778 155h3v4h-3zM799 155h3v4h-3zM802 155h3v4h-3zM679 159h3v4h-3zM730 159h3v4h-3zM787 159h3v4h-3zM790 159h3v4h-3zM793 159h3v4h-3zM799 159h3v4h-3zM709 163h3v4h-3zM763 163h3v4h-3zM793 163h3v4h-3zM805 163h3v4h-3zM754 167h3v4h-3zM784 167h3v4h-3zM790 167h3v4h-3zM682 171h3v4h-3zM763 171h3v4h-3zM778 171h3v4h-3zM712 175h3v4h-3zM733 175h3v4h-3zM736 175h3v4h-3zM739 175h3v4h-3zM742 175h3v4h-3zM769 175h3v4h-3zM790 175h3v4h-3zM796 175h3v4h-3zM829 175h3v4h-3zM691 179h3v4h-3zM712 179h3v4h-3zM727 179h3v4h-3zM742 179h3v4h-3zM754 179h3v4h-3zM775 179h3v4h-3zM793 179h3v4h-3zM691 183h3v4h-3zM703 183h3v4h-3zM727 183h3v4h-3zM733 183h3v4h-3zM757 183h3v4h-3zM760 183h3v4h-3zM766 183h3v4h-3zM769 183h3v4h-3zM784 183h3v4h-3zM793 183h3v4h-3zM733 187h3v4h-3zM760 187h3v4h-3zM781 187h3v4h-3zM790 187h3v4h-3zM685 191h3v4h-3zM694 191h3v4h-3zM697 191h3v4h-3zM700 191h3v4h-3zM712 191h3v4h-3zM721 191h3v4h-3zM730 191h3v4h-3zM733 191h3v4h-3zM760 191h3v4h-3zM784 191h3v4h-3zM796 191h3v4h-3zM697 195h3v4h-3zM712 195h3v4h-3zM724 195h3v4h-3zM730 195h3v4h-3zM733 195h3v4h-3zM781 195h3v4h-3zM787 195h3v4h-3zM799 195h3v4h-3zM817 195h3v4h-3zM835 195h3v4h-3zM691 199h3v4h-3zM697 199h3v4h-3zM709 199h3v4h-3zM730 199h3v4h-3zM754 199h3v4h-3zM769 199h3v4h-3zM781 199h3v4h-3zM805 199h3v4h-3zM820 199h3v4h-3zM832 199h3v4h-3zM682 203h3v4h-3zM694 203h3v4h-3zM703 203h3v4h-3zM724 203h3v4h-3zM748 203h3v4h-3zM805 203h3v4h-3zM679 207h3v4h-3zM682 207h3v4h-3zM688 207h3v4h-3zM727 207h3v4h-3zM742 207h3v4h-3zM772 207h3v4h-3zM802 207h3v4h-3zM805 207h3v4h-3zM826 207h3v4h-3zM835 207h3v4h-3zM697 211h3v4h-3zM778 211h3v4h-3zM823 211h3v4h-3zM679 215h3v4h-3zM691 215h3v4h-3zM796 215h3v4h-3zM829 215h3v4h-3zM832 215h3v4h-3zM736 219h3v4h-3zM766 219h3v4h-3zM838 219h3v4h-3zM700 223h3v4h-3zM745 223h3v4h-3zM739 235h3v4h-3z"/>
<path fill="#00c12c" d="M805 107h3v4h-3zM808 115h3v4h-3zM796 119h3v4h-3zM784 123h3v4h-3zM796 123h3v4h-3zM805 123h3v4h-3zM814 123h3v4h-3zM796 127h3v4h-3zM781 131h3v4h-3zM787 131h3v4h-3zM793 131h3v4h-3zM796 131h3v4h-3zM784 139h3v4h-3zM799 143h3v4h-3zM766 147h3v4h-3zM781 151h3v4h-3zM796 155h3v4h-3zM718 159h3v4h-3zM724 159h3v4h-3zM781 159h3v4h-3zM784 159h3v4h-3zM805 159h3v4h-3zM775 163h3v4h-3zM766 167h3v4h-3zM775 167h3v4h-3zM781 167h3v4h-3zM793 167h3v4h-3zM769 171h3v4h-3zM772 171h3v4h-3zM799 171h3v4h-3zM730 175h3v4h-3zM745 175h3v4h-3zM778 175h3v4h-3zM781 175h3v4h-3zM793 175h3v4h-3zM703 179h3v4h-3zM709 179h3v4h-3zM751 179h3v4h-3zM757 179h3v4h-3zM784 179h3v4h-3zM706 183h3v4h-3zM721 183h3v4h-3zM739 183h3v4h-3zM787 183h3v4h-3zM802 183h3v4h-3zM697 187h3v4h-3zM727 187h3v4h-3zM739 187h3v4h-3zM745 187h3v4h-3zM784 187h3v4h-3zM814 187h3v4h-3zM688 191h3v4h-3zM691 191h3v4h-3zM709 191h3v4h-3zM742 191h3v4h-3zM754 191h3v4h-3zM769 191h3v4h-3zM790 191h3v4h-3zM721 195h3v4h-3zM760 195h3v4h-3zM805 195h3v4h-3zM811 195h3v4h-3zM826 195h3v4h-3zM679 199h3v4h-3zM688 199h3v4h-3zM694 199h3v4h-3zM712 199h3v4h-3zM727 199h3v4h-3zM742 199h3v4h-3zM745 199h3v4h-3zM793 199h3v4h-3zM814 199h3v4h-3zM679 203h3v4h-3zM700 203h3v4h-3zM775 203h3v4h-3zM778 203h3v4h-3zM784 203h3v4h-3zM790 203h3v4h-3zM820 203h3v4h-3zM829 203h3v4h-3zM703 207h3v4h-3zM718 207h3v4h-3zM724 207h3v4h-3zM763 207h3v4h-3zM766 207h3v4h-3zM781 207h3v4h-3zM787 207h3v4h-3zM796 207h3v4h-3zM811 207h3v4h-3zM814 207h3v4h-3zM823 207h3v4h-3zM685 211h3v4h-3zM691 211h3v4h-3zM712 211h3v4h-3zM727 211h3v4h-3zM781 211h3v4h-3zM784 211h3v4h-3zM802 211h3v4h-3zM811 211h3v4h-3zM817 211h3v4h-3zM685 215h3v4h-3zM703 215h3v4h-3zM724 215h3v4h-3zM730 215h3v4h-3zM733 215h3v4h-3zM769 215h3v4h-3zM772 215h3v4h-3zM775 215h3v4h-3zM817 215h3v4h-3zM820 215h3v4h-3zM835 215h3v4h-3zM697 219h3v4h-3zM700 219h3v4h-3zM715 219h3v4h-3zM835 219h3v4h-3zM841 219h3v4h-3zM694 223h3v4h-3zM718 223h3v4h-3zM835 223h3v4h-3zM838 223h3v4h-3zM706 227h3v4h-3zM721 231h3v4h-3z"/>
<path fill="#00b949" d="M796 111h3v4h-3zM802 131h3v4h-3zM790 155h3v4h-3zM781 163h3v4h-3zM778 167h3v4h-3zM796 167h3v4h-3zM787 191h3v4h-3zM793 191h3v4h-3zM685 195h3v4h-3zM739 195h3v4h-3zM748 195h3v4h-3zM784 195h3v4h-3zM715 199h3v4h-3zM739 199h3v4h-3zM748 199h3v4h-3zM697 203h3v4h-3zM721 203h3v4h-3zM730 203h3v4h-3zM733 203h3v4h-3zM739 203h3v4h-3zM745 203h3v4h-3zM751 203h3v4h-3zM757 203h3v4h-3zM763 203h3v4h-3zM769 203h3v4h-3zM730 207h3v4h-3zM739 207h3v4h-3zM751 207h3v4h-3zM682 211h3v4h-3zM694 211h3v4h-3zM706 211h3v4h-3zM709 211h3v4h-3zM724 211h3v4h-3zM736 211h3v4h-3zM742 211h3v4h-3zM751 211h3v4h-3zM754 211h3v4h-3zM757 211h3v4h-3zM790 211h3v4h-3zM808 211h3v4h-3zM694 215h3v4h-3zM721 215h3v4h-3zM736 215h3v4h-3zM682 219h3v4h-3zM685 219h3v4h-3zM709 219h3v4h-3zM751 219h3v4h-3zM757 219h3v4h-3zM787 219h3v4h-3zM790 219h3v4h-3zM799 219h3v4h-3zM826 219h3v4h-3zM829 219h3v4h-3zM688 223h3v4h-3zM703 223h3v4h-3zM715 223h3v4h-3zM721 223h3v4h-3zM742 223h3v4h-3zM751 223h3v4h-3zM763 223h3v4h-3zM766 223h3v4h-3zM778 223h3v4h-3zM805 223h3v4h-3zM814 223h3v4h-3zM832 223h3v4h-3zM841 223h3v4h-3zM724 227h3v4h-3zM733 227h3v4h-3zM745 227h3v4h-3zM760 227h3v4h-3zM778 227h3v4h-3zM781 227h3v4h-3zM799 227h3v4h-3zM805 227h3v4h-3zM808 227h3v4h-3zM817 227h3v4h-3zM715 231h3v4h-3zM718 231h3v4h-3zM724 231h3v4h-3zM733 231h3v4h-3zM736 231h3v4h-3zM742 231h3v4h-3zM766 231h3v4h-3zM769 231h3v4h-3zM775 231h3v4h-3zM781 231h3v4h-3zM799 231h3v4h-3zM718 235h3v4h-3zM733 235h3v4h-3zM790 235h3v4h-3zM754 239h3v4h-3zM781 239h3v4h-3zM793 239h3v4h-3zM766 243h3v4h-3zM775 247h3v4h-3z"/>
<path fill="#00bc37" d="M796 115h3v4h-3zM805 119h3v4h-3zM784 127h3v4h-3zM802 127h3v4h-3zM799 131h3v4h-3zM796 135h3v4h-3zM796 139h3v4h-3zM808 143h3v4h-3zM775 151h3v4h-3zM802 151h3v4h-3zM784 155h3v4h-3zM787 155h3v4h-3zM796 159h3v4h-3zM787 163h3v4h-3zM790 163h3v4h-3zM799 163h3v4h-3zM790 171h3v4h-3zM793 171h3v4h-3zM766 175h3v4h-3zM772 175h3v4h-3zM775 175h3v4h-3zM736 179h3v4h-3zM748 179h3v4h-3zM763 179h3v4h-3zM769 179h3v4h-3zM778 179h3v4h-3zM808 179h3v4h-3zM709 183h3v4h-3zM736 183h3v4h-3zM751 183h3v4h-3zM682 187h3v4h-3zM712 187h3v4h-3zM751 187h3v4h-3zM763 187h3v4h-3zM769 187h3v4h-3zM778 187h3v4h-3zM724 191h3v4h-3zM751 191h3v4h-3zM757 191h3v4h-3zM781 191h3v4h-3zM736 195h3v4h-3zM751 195h3v4h-3zM766 195h3v4h-3zM775 195h3v4h-3zM796 195h3v4h-3zM814 195h3v4h-3zM703 199h3v4h-3zM724 199h3v4h-3zM733 199h3v4h-3zM736 199h3v4h-3zM757 199h3v4h-3zM775 199h3v4h-3zM778 199h3v4h-3zM790 199h3v4h-3zM796 199h3v4h-3zM691 203h3v4h-3zM709 203h3v4h-3zM712 203h3v4h-3zM715 203h3v4h-3zM772 203h3v4h-3zM781 203h3v4h-3zM802 203h3v4h-3zM814 203h3v4h-3zM694 207h3v4h-3zM697 207h3v4h-3zM706 207h3v4h-3zM736 207h3v4h-3zM757 207h3v4h-3zM769 207h3v4h-3zM778 207h3v4h-3zM784 207h3v4h-3zM808 207h3v4h-3zM817 207h3v4h-3zM718 211h3v4h-3zM739 211h3v4h-3zM748 211h3v4h-3zM760 211h3v4h-3zM769 211h3v4h-3zM793 211h3v4h-3zM682 215h3v4h-3zM688 215h3v4h-3zM715 215h3v4h-3zM718 215h3v4h-3zM727 215h3v4h-3zM739 215h3v4h-3zM745 215h3v4h-3zM754 215h3v4h-3zM760 215h3v4h-3zM778 215h3v4h-3zM826 215h3v4h-3zM718 219h3v4h-3zM772 219h3v4h-3zM805 219h3v4h-3zM682 223h3v4h-3zM706 223h3v4h-3zM712 223h3v4h-3zM727 223h3v4h-3zM775 223h3v4h-3zM721 227h3v4h-3zM727 227h3v4h-3zM763 227h3v4h-3zM739 231h3v4h-3zM745 231h3v4h-3zM751 239h3v4h-3z"/>
<path fill="#00ba40" d="M802 119h3v4h-3zM793 123h3v4h-3zM802 123h3v4h-3zM790 127h3v4h-3zM799 127h3v4h-3zM790 131h3v4h-3zM793 135h3v4h-3zM802 135h3v4h-3zM778 151h3v4h-3zM796 151h3v4h-3zM784 163h3v4h-3zM733 171h3v4h-3zM781 171h3v4h-3zM784 171h3v4h-3zM790 179h3v4h-3zM742 187h3v4h-3zM772 187h3v4h-3zM793 187h3v4h-3zM727 191h3v4h-3zM736 191h3v4h-3zM739 191h3v4h-3zM706 195h3v4h-3zM742 195h3v4h-3zM763 195h3v4h-3zM769 195h3v4h-3zM772 195h3v4h-3zM706 199h3v4h-3zM718 199h3v4h-3zM721 199h3v4h-3zM766 199h3v4h-3zM772 199h3v4h-3zM787 199h3v4h-3zM799 199h3v4h-3zM706 203h3v4h-3zM736 203h3v4h-3zM742 203h3v4h-3zM760 203h3v4h-3zM787 203h3v4h-3zM808 203h3v4h-3zM817 203h3v4h-3zM826 203h3v4h-3zM685 207h3v4h-3zM700 207h3v4h-3zM709 207h3v4h-3zM733 207h3v4h-3zM790 207h3v4h-3zM793 207h3v4h-3zM799 207h3v4h-3zM829 207h3v4h-3zM679 211h3v4h-3zM688 211h3v4h-3zM721 211h3v4h-3zM772 211h3v4h-3zM775 211h3v4h-3zM787 211h3v4h-3zM796 211h3v4h-3zM799 211h3v4h-3zM814 211h3v4h-3zM820 211h3v4h-3zM826 211h3v4h-3zM742 215h3v4h-3zM748 215h3v4h-3zM751 215h3v4h-3zM757 215h3v4h-3zM763 215h3v4h-3zM766 215h3v4h-3zM781 215h3v4h-3zM784 215h3v4h-3zM787 215h3v4h-3zM799 215h3v4h-3zM805 215h3v4h-3zM808 215h3v4h-3zM823 215h3v4h-3zM688 219h3v4h-3zM691 219h3v4h-3zM706 219h3v4h-3zM712 219h3v4h-3zM724 219h3v4h-3zM730 219h3v4h-3zM739 219h3v4h-3zM742 219h3v4h-3zM745 219h3v4h-3zM760 219h3v4h-3zM781 219h3v4h-3zM784 219h3v4h-3zM796 219h3v4h-3zM802 219h3v4h-3zM844 219h3v4h-3zM685 223h3v4h-3zM697 223h3v4h-3zM709 223h3v4h-3zM730 223h3v4h-3zM736 223h3v4h-3zM739 223h3v4h-3zM769 223h3v4h-3zM772 223h3v4h-3zM781 223h3v4h-3zM787 223h3v4h-3zM790 223h3v4h-3zM700 227h3v4h-3zM718 227h3v4h-3zM757 227h3v4h-3zM769 227h3v4h-3zM775 227h3v4h-3zM793 227h3v4h-3zM706 231h3v4h-3zM748 231h3v4h-3zM772 231h3v4h-3zM793 231h3v4h-3zM727 235h3v4h-3zM751 235h3v4h-3zM760 235h3v4h-3zM787 235h3v4h-3zM724 239h3v4h-3zM769 239h3v4h-3z"/>
<path fill="#00b752" d="M799 135h3v4h-3zM754 187h3v4h-3zM748 191h3v4h-3zM745 195h3v4h-3zM757 195h3v4h-3zM751 199h3v4h-3zM760 199h3v4h-3zM727 203h3v4h-3zM754 203h3v4h-3zM766 203h3v4h-3zM712 207h3v4h-3zM715 207h3v4h-3zM748 207h3v4h-3zM754 207h3v4h-3zM703 211h3v4h-3zM733 211h3v4h-3zM745 211h3v4h-3zM766 211h3v4h-3zM805 211h3v4h-3zM697 215h3v4h-3zM700 215h3v4h-3zM712 215h3v4h-3zM793 215h3v4h-3zM811 215h3v4h-3zM694 219h3v4h-3zM703 219h3v4h-3zM727 219h3v4h-3zM748 219h3v4h-3zM754 219h3v4h-3zM769 219h3v4h-3zM775 219h3v4h-3zM793 219h3v4h-3zM811 219h3v4h-3zM823 219h3v4h-3zM724 223h3v4h-3zM748 223h3v4h-3zM760 223h3v4h-3zM784 223h3v4h-3zM793 223h3v4h-3zM799 223h3v4h-3zM811 223h3v4h-3zM817 223h3v4h-3zM844 223h3v4h-3zM715 227h3v4h-3zM739 227h3v4h-3zM742 227h3v4h-3zM754 227h3v4h-3zM784 227h3v4h-3zM796 227h3v4h-3zM703 231h3v4h-3zM727 231h3v4h-3zM760 231h3v4h-3zM787 231h3v4h-3zM802 231h3v4h-3zM709 235h3v4h-3zM721 235h3v4h-3zM736 235h3v4h-3zM745 235h3v4h-3zM748 235h3v4h-3zM766 235h3v4h-3zM769 235h3v4h-3zM772 235h3v4h-3zM781 235h3v4h-3zM784 235h3v4h-3zM793 235h3v4h-3zM799 235h3v4h-3zM742 239h3v4h-3zM745 239h3v4h-3zM760 239h3v4h-3zM775 239h3v4h-3zM790 239h3v4h-3zM739 243h3v4h-3zM757 243h3v4h-3zM763 243h3v4h-3zM772 243h3v4h-3zM760 247h3v4h-3z"/>
<path fill="#00b65b" d="M745 191h3v4h-3zM754 195h3v4h-3zM763 199h3v4h-3zM745 207h3v4h-3zM715 211h3v4h-3zM730 211h3v4h-3zM706 215h3v4h-3zM709 215h3v4h-3zM790 215h3v4h-3zM679 219h3v4h-3zM763 219h3v4h-3zM778 219h3v4h-3zM808 219h3v4h-3zM814 219h3v4h-3zM817 219h3v4h-3zM832 219h3v4h-3zM691 223h3v4h-3zM808 223h3v4h-3zM820 223h3v4h-3zM826 223h3v4h-3zM688 227h3v4h-3zM691 227h3v4h-3zM703 227h3v4h-3zM712 227h3v4h-3zM730 227h3v4h-3zM736 227h3v4h-3zM766 227h3v4h-3zM772 227h3v4h-3zM790 227h3v4h-3zM823 227h3v4h-3zM829 227h3v4h-3zM838 227h3v4h-3zM841 227h3v4h-3zM844 227h3v4h-3zM700 231h3v4h-3zM709 231h3v4h-3zM712 231h3v4h-3zM730 231h3v4h-3zM751 231h3v4h-3zM757 231h3v4h-3zM763 231h3v4h-3zM778 231h3v4h-3zM784 231h3v4h-3zM790 231h3v4h-3zM844 231h3v4h-3zM724 235h3v4h-3zM730 235h3v4h-3zM754 235h3v4h-3zM757 235h3v4h-3zM763 235h3v4h-3zM778 235h3v4h-3zM718 239h3v4h-3zM730 239h3v4h-3zM736 239h3v4h-3zM748 239h3v4h-3zM784 239h3v4h-3zM787 239h3v4h-3zM796 239h3v4h-3zM721 243h3v4h-3zM751 243h3v4h-3zM769 243h3v4h-3zM772 259h3v4h-3zM769 263h3v2h-3zM772 263h3v2h-3z"/>
<path fill="#00b464" d="M760 207h3v4h-3zM733 219h3v4h-3zM820 219h3v4h-3zM733 223h3v4h-3zM754 223h3v4h-3zM757 223h3v4h-3zM829 223h3v4h-3zM685 227h3v4h-3zM751 227h3v4h-3zM814 227h3v4h-3zM826 227h3v4h-3zM832 227h3v4h-3zM694 231h3v4h-3zM754 231h3v4h-3zM805 231h3v4h-3zM808 231h3v4h-3zM814 231h3v4h-3zM817 231h3v4h-3zM823 231h3v4h-3zM838 231h3v4h-3zM700 235h3v4h-3zM712 235h3v4h-3zM796 235h3v4h-3zM739 239h3v4h-3zM757 239h3v4h-3zM766 239h3v4h-3zM772 239h3v4h-3zM748 243h3v4h-3zM760 243h3v4h-3zM775 243h3v4h-3zM778 243h3v4h-3zM784 243h3v4h-3zM793 243h3v4h-3zM796 243h3v4h-3zM757 247h3v4h-3zM772 247h3v4h-3zM778 247h3v4h-3zM781 247h3v4h-3zM754 251h3v4h-3zM775 251h3v4h-3zM778 263h3v2h-3z"/>
<path fill="#00b66c" d="M802 215h3v4h-3zM679 223h3v4h-3zM823 223h3v4h-3zM682 227h3v4h-3zM694 227h3v4h-3zM697 227h3v4h-3zM709 227h3v4h-3zM787 227h3v4h-3zM802 227h3v4h-3zM835 227h3v4h-3zM811 231h3v4h-3zM832 231h3v4h-3zM706 235h3v4h-3zM742 235h3v4h-3zM775 235h3v4h-3zM841 235h3v4h-3zM727 239h3v4h-3zM778 239h3v4h-3zM712 243h3v4h-3zM727 243h3v4h-3zM730 243h3v4h-3zM733 243h3v4h-3zM736 243h3v4h-3zM742 243h3v4h-3zM745 243h3v4h-3zM787 243h3v4h-3zM742 247h3v4h-3zM748 247h3v4h-3zM751 247h3v4h-3zM763 247h3v4h-3zM769 247h3v4h-3zM787 247h3v4h-3zM790 247h3v4h-3zM748 251h3v4h-3zM757 251h3v4h-3zM760 251h3v4h-3zM766 251h3v4h-3zM781 251h3v4h-3zM754 255h3v4h-3zM757 255h3v4h-3zM769 255h3v4h-3zM778 255h3v4h-3zM748 259h3v4h-3zM757 259h3v4h-3zM760 259h3v4h-3zM769 259h3v4h-3zM766 263h3v2h-3zM781 263h3v2h-3z"/>
<path fill="#00bb7c" d="M796 223h3v4h-3zM691 231h3v4h-3zM796 231h3v4h-3zM820 231h3v4h-3zM691 235h3v4h-3zM814 235h3v4h-3zM838 235h3v4h-3zM715 239h3v4h-3zM721 239h3v4h-3zM733 239h3v4h-3zM724 243h3v4h-3zM754 243h3v4h-3zM781 243h3v4h-3zM799 243h3v4h-3zM802 243h3v4h-3zM727 247h3v4h-3zM739 247h3v4h-3zM745 247h3v4h-3zM784 247h3v4h-3zM751 251h3v4h-3zM793 251h3v4h-3zM739 255h3v4h-3zM766 255h3v4h-3zM775 255h3v4h-3zM784 255h3v4h-3zM790 255h3v4h-3zM751 259h3v4h-3zM775 259h3v4h-3zM784 259h3v4h-3zM739 263h3v2h-3zM745 263h3v2h-3zM763 263h3v2h-3zM775 263h3v2h-3z"/>
<path fill="#00be84" d="M679 227h3v4h-3zM811 227h3v4h-3zM685 231h3v4h-3zM697 231h3v4h-3zM826 231h3v4h-3zM835 231h3v4h-3zM697 235h3v4h-3zM832 235h3v4h-3zM835 235h3v4h-3zM844 235h3v4h-3zM700 239h3v4h-3zM712 239h3v4h-3zM763 239h3v4h-3zM805 239h3v4h-3zM790 243h3v4h-3zM838 243h3v4h-3zM730 247h3v4h-3zM793 247h3v4h-3zM739 251h3v4h-3zM787 251h3v4h-3zM763 255h3v4h-3zM772 255h3v4h-3zM781 255h3v4h-3zM793 255h3v4h-3zM742 259h3v4h-3zM754 259h3v4h-3zM781 259h3v4h-3zM754 263h3v2h-3zM757 263h3v2h-3zM760 263h3v2h-3z"/>
<path fill="#00b974" d="M820 227h3v4h-3zM682 231h3v4h-3zM829 231h3v4h-3zM841 231h3v4h-3zM694 235h3v4h-3zM703 235h3v4h-3zM715 235h3v4h-3zM802 235h3v4h-3zM805 235h3v4h-3zM706 239h3v4h-3zM709 239h3v4h-3zM802 239h3v4h-3zM715 243h3v4h-3zM733 247h3v4h-3zM736 247h3v4h-3zM754 247h3v4h-3zM766 247h3v4h-3zM763 251h3v4h-3zM769 251h3v4h-3zM772 251h3v4h-3zM778 251h3v4h-3zM784 251h3v4h-3zM748 255h3v4h-3zM763 259h3v4h-3zM766 259h3v4h-3z"/>
<path fill="#00c08c" d="M679 231h3v4h-3zM688 231h3v4h-3zM688 235h3v4h-3zM808 235h3v4h-3zM817 235h3v4h-3zM823 235h3v4h-3zM799 239h3v4h-3zM835 239h3v4h-3zM844 239h3v4h-3zM703 243h3v4h-3zM709 243h3v4h-3zM796 247h3v4h-3zM838 247h3v4h-3zM790 251h3v4h-3zM745 255h3v4h-3zM751 255h3v4h-3zM739 259h3v4h-3zM745 259h3v4h-3zM778 259h3v4h-3zM748 263h3v2h-3zM793 263h3v2h-3z"/>
<path fill="#00c5a7" d="M679 235h3v4h-3zM685 235h3v4h-3zM814 239h3v4h-3zM820 239h3v4h-3zM844 243h3v4h-3zM724 247h3v4h-3zM832 247h3v4h-3zM844 247h3v4h-3zM745 251h3v4h-3zM796 251h3v4h-3zM799 251h3v4h-3zM841 251h3v4h-3zM796 259h3v4h-3z"/>
<path fill="#00c8b9" d="M682 235h3v4h-3zM682 239h3v4h-3zM697 243h3v4h-3zM808 243h3v4h-3zM823 243h3v4h-3zM709 247h3v4h-3zM808 247h3v4h-3zM733 251h3v4h-3zM829 251h3v4h-3zM844 251h3v4h-3zM730 255h3v4h-3zM736 255h3v4h-3zM841 255h3v4h-3zM844 255h3v4h-3zM736 263h3v2h-3zM838 263h3v2h-3z"/>
<path fill="#00c295" d="M811 235h3v4h-3zM826 235h3v4h-3zM688 239h3v4h-3zM691 239h3v4h-3zM697 239h3v4h-3zM703 239h3v4h-3zM838 239h3v4h-3zM718 243h3v4h-3zM835 243h3v4h-3zM715 247h3v4h-3zM721 247h3v4h-3zM841 247h3v4h-3zM736 251h3v4h-3zM742 251h3v4h-3zM742 255h3v4h-3zM787 259h3v4h-3zM793 259h3v4h-3zM742 263h3v2h-3zM751 263h3v2h-3zM784 263h3v2h-3z"/>
<path fill="#00c6b0" d="M820 235h3v4h-3zM685 239h3v4h-3zM811 239h3v4h-3zM817 239h3v4h-3zM823 239h3v4h-3zM694 243h3v4h-3zM811 243h3v4h-3zM820 243h3v4h-3zM829 243h3v4h-3zM832 243h3v4h-3zM682 247h3v4h-3zM703 247h3v4h-3zM727 251h3v4h-3zM838 255h3v4h-3zM733 259h3v4h-3z"/>
<path fill="#00c39e" d="M829 235h3v4h-3zM679 239h3v4h-3zM694 239h3v4h-3zM808 239h3v4h-3zM826 239h3v4h-3zM829 239h3v4h-3zM832 239h3v4h-3zM841 239h3v4h-3zM682 243h3v4h-3zM700 243h3v4h-3zM706 243h3v4h-3zM805 243h3v4h-3zM841 243h3v4h-3zM718 247h3v4h-3zM799 247h3v4h-3zM802 247h3v4h-3zM805 247h3v4h-3zM835 247h3v4h-3zM730 251h3v4h-3zM838 251h3v4h-3zM733 255h3v4h-3zM760 255h3v4h-3zM787 255h3v4h-3zM736 259h3v4h-3zM790 259h3v4h-3zM841 259h3v4h-3zM787 263h3v2h-3zM790 263h3v2h-3z"/>
<path fill="#00c9c1" d="M679 243h3v4h-3zM814 243h3v4h-3zM826 243h3v4h-3zM679 247h3v4h-3zM706 247h3v4h-3zM712 247h3v4h-3zM811 247h3v4h-3zM826 247h3v4h-3zM829 247h3v4h-3zM832 251h3v4h-3zM835 251h3v4h-3zM796 255h3v4h-3zM832 255h3v4h-3zM835 255h3v4h-3zM733 263h3v2h-3zM796 263h3v2h-3zM835 263h3v2h-3z"/>
<path fill="#00c7e7" d="M685 243h3v4h-3zM688 251h3v4h-3zM691 251h3v4h-3zM700 251h3v4h-3zM697 255h3v4h-3zM700 255h3v4h-3zM703 255h3v4h-3zM709 255h3v4h-3zM712 255h3v4h-3zM802 255h3v4h-3zM808 255h3v4h-3zM700 259h3v4h-3zM718 259h3v4h-3zM805 259h3v4h-3zM817 259h3v4h-3zM820 259h3v4h-3zM823 259h3v4h-3zM682 263h3v2h-3zM805 263h3v2h-3zM808 263h3v2h-3zM811 263h3v2h-3z"/>
<path fill="#00cac9" d="M688 243h3v4h-3zM691 243h3v4h-3zM694 247h3v4h-3zM697 247h3v4h-3zM700 247h3v4h-3zM814 247h3v4h-3zM685 251h3v4h-3zM694 251h3v4h-3zM721 251h3v4h-3zM724 251h3v4h-3zM805 251h3v4h-3zM808 251h3v4h-3zM805 255h3v4h-3zM730 259h3v4h-3zM799 259h3v4h-3zM835 259h3v4h-3zM838 259h3v4h-3zM802 263h3v2h-3zM829 263h3v2h-3zM844 263h3v2h-3z"/>
<path fill="#00cbd1" d="M817 243h3v4h-3zM823 247h3v4h-3zM709 251h3v4h-3zM712 251h3v4h-3zM715 251h3v4h-3zM802 251h3v4h-3zM724 255h3v4h-3zM811 255h3v4h-3zM823 255h3v4h-3zM724 259h3v4h-3zM802 259h3v4h-3zM829 259h3v4h-3zM844 259h3v4h-3zM799 263h3v2h-3zM832 263h3v2h-3z"/>
<path fill="#00cde1" d="M685 247h3v4h-3zM688 247h3v4h-3zM691 247h3v4h-3zM679 251h3v4h-3zM811 251h3v4h-3zM817 251h3v4h-3zM679 255h3v4h-3zM685 255h3v4h-3zM694 255h3v4h-3zM727 255h3v4h-3zM799 255h3v4h-3zM820 255h3v4h-3zM829 255h3v4h-3zM688 259h3v4h-3zM727 263h3v2h-3z"/>
<path fill="#00ccd9" d="M817 247h3v4h-3zM820 247h3v4h-3zM703 251h3v4h-3zM706 251h3v4h-3zM718 251h3v4h-3zM820 251h3v4h-3zM823 251h3v4h-3zM826 251h3v4h-3zM706 255h3v4h-3zM718 255h3v4h-3zM826 255h3v4h-3zM727 259h3v4h-3zM826 259h3v4h-3zM832 259h3v4h-3zM730 263h3v2h-3zM823 263h3v2h-3zM841 263h3v2h-3z"/>
<path fill="#00bbf3" d="M682 251h3v4h-3zM688 255h3v4h-3zM721 255h3v4h-3zM814 255h3v4h-3zM817 255h3v4h-3zM703 259h3v4h-3zM712 259h3v4h-3zM715 259h3v4h-3zM718 263h3v2h-3zM820 263h3v2h-3z"/>
<path fill="#00c1ed" d="M697 251h3v4h-3zM814 251h3v4h-3zM682 255h3v4h-3zM691 255h3v4h-3zM715 255h3v4h-3zM679 259h3v4h-3zM685 259h3v4h-3zM691 259h3v4h-3zM706 259h3v4h-3zM709 259h3v4h-3zM808 259h3v4h-3zM811 259h3v4h-3zM679 263h3v2h-3zM697 263h3v2h-3zM709 263h3v2h-3zM724 263h3v2h-3zM814 263h3v2h-3zM826 263h3v2h-3z"/>
<path fill="#00a4fd" d="M682 259h3v4h-3zM697 259h3v4h-3zM817 263h3v2h-3z"/>
<path fill="#00afff" d="M694 259h3v4h-3zM688 263h3v2h-3zM691 263h3v2h-3zM703 263h3v2h-3zM715 263h3v2h-3zM721 263h3v2h-3z"/>
<path fill="#00b5f9" d="M721 259h3v4h-3zM814 259h3v4h-3zM685 263h3v2h-3zM700 263h3v2h-3zM706 263h3v2h-3zM712 263h3v2h-3z"/>
<path fill="#0099fb" d="M694 263h3v2h-3z"/>
<polygon points="687,35 687,36 686.5,40 686.5,42.3 688,42.3 690.5,43 694,43.3 696,44 698,45.5 700,46 702,47 704,48.5 706,49.5 707.5,50.5 710,51 713,52 716,52 719,51.5 722,50.5 724.5,48 727,45 729.5,42.5 731.5,40 733,37.5 734,36 735,35" fill="#fcc999"/>
<polyline points="687,36 686.5,40 686.5,42.3 688,42.3 690.5,43 694,43.3 696,44 698,45.5 700,46 702,47 704,48.5 706,49.5 707.5,50.5 710,51 713,52 716,52 719,51.5 722,50.5 724.5,48 727,45 729.5,42.5 731.5,40 733,37.5 734,36" fill="none" stroke="#000" stroke-width="1.2" shape-rendering="crispEdges"/>
<rect x="683" y="36" width="4" height="2" fill="#fcc999"/>
<path d="M684 38h4v3l-1.5 1.5h-2l-0.5 -1.5z" fill="#000"/>
<polyline points="679.5,45 683,47 686,49.5 689,51 690.5,51.5" fill="none" stroke="#000" stroke-width="1.2" shape-rendering="crispEdges"/>
<polyline points="735.5,37 731,42.5 728,47 726.8,51" fill="none" stroke="#000" stroke-width="1.2" shape-rendering="crispEdges"/>
<polygon points="697,52.5 700,52 701.5,53.5 703,57 705,59 704.5,61 701,62.5 698,63.5 695.5,64.5 694.5,63 696,60 697,56" fill="#fde6cc" stroke="#000" stroke-width="1.6" shape-rendering="crispEdges"/>
<rect x="707" y="53" width="2" height="2" fill="#000"/>
<path d="M714 164l3 -2l1 3l-2 2z" fill="#000"/>
<rect x="833" y="72" width="2" height="1" fill="#000"/>
<rect x="831" y="109" width="1" height="2" fill="#000"/>
<rect x="830" y="153" width="1" height="2" fill="#003"/>
<rect x="684" y="77" width="1" height="1" fill="#000"/>
<rect x="680" y="126" width="2" height="8" fill="#000"/>
<circle cx="778.5" cy="151.5" r="5" fill="none" stroke="#000" stroke-width="1"/>
<rect x="679.5" y="35.5" width="198" height="232" fill="none" stroke="#000" stroke-width="1"/>
<line x1="725.5" y1="33" x2="725.5" y2="35" stroke="#000" stroke-width="1"/>
<line x1="725.5" y1="268" x2="725.5" y2="270" stroke="#000" stroke-width="1"/>
<text x="725.5" y="284" font-size="12" text-anchor="middle">170</text>
<line x1="785.5" y1="33" x2="785.5" y2="35" stroke="#000" stroke-width="1"/>
<line x1="785.5" y1="268" x2="785.5" y2="270" stroke="#000" stroke-width="1"/>
<text x="785.5" y="284" font-size="12" text-anchor="middle">175</text>
<line x1="845.5" y1="33" x2="845.5" y2="35" stroke="#000" stroke-width="1"/>
<line x1="845.5" y1="268" x2="845.5" y2="270" stroke="#000" stroke-width="1"/>
<text x="845.5" y="284" font-size="12" text-anchor="middle">180</text>
<line x1="677" y1="39.5" x2="679" y2="39.5" stroke="#000" stroke-width="1"/>
<line x1="878" y1="39.5" x2="880" y2="39.5" stroke="#000" stroke-width="1"/>
<text x="654.8" y="43.8" font-size="12" text-anchor="start" textLength="18.6" lengthAdjust="spacingAndGlyphs">-46</text>
<line x1="677" y1="78.5" x2="679" y2="78.5" stroke="#000" stroke-width="1"/>
<line x1="878" y1="78.5" x2="880" y2="78.5" stroke="#000" stroke-width="1"/>
<text x="654.8" y="82.3" font-size="12" text-anchor="start" textLength="18.6" lengthAdjust="spacingAndGlyphs">-48</text>
<line x1="677" y1="116.5" x2="679" y2="116.5" stroke="#000" stroke-width="1"/>
<line x1="878" y1="116.5" x2="880" y2="116.5" stroke="#000" stroke-width="1"/>
<text x="654.8" y="120.8" font-size="12" text-anchor="start" textLength="18.6" lengthAdjust="spacingAndGlyphs">-50</text>
<line x1="677" y1="155.5" x2="679" y2="155.5" stroke="#000" stroke-width="1"/>
<line x1="878" y1="155.5" x2="880" y2="155.5" stroke="#000" stroke-width="1"/>
<text x="654.8" y="159.3" font-size="12" text-anchor="start" textLength="18.6" lengthAdjust="spacingAndGlyphs">-52</text>
<line x1="677" y1="193.5" x2="679" y2="193.5" stroke="#000" stroke-width="1"/>
<line x1="878" y1="193.5" x2="880" y2="193.5" stroke="#000" stroke-width="1"/>
<text x="654.8" y="197.8" font-size="12" text-anchor="start" textLength="18.6" lengthAdjust="spacingAndGlyphs">-54</text>
<line x1="677" y1="232.5" x2="679" y2="232.5" stroke="#000" stroke-width="1"/>
<line x1="878" y1="232.5" x2="880" y2="232.5" stroke="#000" stroke-width="1"/>
<text x="654.8" y="236.3" font-size="12" text-anchor="start" textLength="18.6" lengthAdjust="spacingAndGlyphs">-56</text>
<path fill="#00d20b" d="M679 325h3v4h-3zM679 329h3v4h-3zM691 329h3v4h-3zM688 333h3v4h-3zM703 333h3v4h-3zM697 337h3v4h-3zM703 337h3v4h-3zM706 337h3v4h-3zM709 337h3v4h-3zM712 337h3v4h-3zM700 341h3v4h-3zM703 345h3v4h-3zM712 345h3v4h-3zM700 349h3v4h-3zM781 349h3v4h-3zM700 353h3v4h-3zM781 353h3v4h-3zM697 357h3v4h-3zM700 357h3v4h-3zM700 361h3v4h-3zM703 385h3v4h-3zM799 385h3v4h-3zM808 385h3v4h-3zM811 385h3v4h-3zM814 385h3v4h-3zM700 389h3v4h-3zM817 389h3v4h-3zM697 393h3v4h-3zM706 393h3v4h-3zM820 393h3v4h-3zM805 397h3v4h-3zM808 397h3v4h-3zM811 397h3v4h-3zM814 397h3v4h-3zM817 397h3v4h-3zM820 397h3v4h-3zM712 401h3v4h-3zM802 401h3v4h-3zM805 401h3v4h-3zM808 401h3v4h-3zM778 405h3v4h-3zM793 405h3v4h-3zM805 405h3v4h-3zM811 405h3v4h-3zM826 405h3v4h-3zM688 409h3v4h-3zM694 409h3v4h-3zM721 409h3v4h-3zM781 409h3v4h-3zM784 409h3v4h-3zM793 409h3v4h-3zM799 409h3v4h-3zM811 409h3v4h-3zM814 409h3v4h-3zM817 409h3v4h-3zM823 409h3v4h-3zM703 413h3v4h-3zM724 413h3v4h-3zM769 413h3v4h-3zM781 413h3v4h-3zM796 413h3v4h-3zM799 413h3v4h-3zM808 413h3v4h-3zM811 413h3v4h-3zM826 413h3v4h-3zM688 417h3v4h-3zM727 417h3v4h-3zM730 417h3v4h-3zM733 417h3v4h-3zM739 417h3v4h-3zM790 417h3v4h-3zM796 417h3v4h-3zM811 417h3v4h-3zM817 417h3v4h-3zM826 417h3v4h-3zM718 421h3v4h-3zM721 421h3v4h-3zM727 421h3v4h-3zM730 421h3v4h-3zM754 421h3v4h-3zM769 421h3v4h-3zM772 421h3v4h-3zM775 421h3v4h-3zM784 421h3v4h-3zM790 421h3v4h-3zM799 421h3v4h-3zM808 421h3v4h-3zM811 421h3v4h-3zM814 421h3v4h-3zM820 421h3v4h-3zM826 421h3v4h-3zM724 425h3v4h-3zM730 425h3v4h-3zM739 425h3v4h-3zM766 425h3v4h-3zM796 425h3v4h-3zM802 425h3v4h-3zM805 425h3v4h-3zM808 425h3v4h-3zM820 425h3v4h-3zM721 429h3v4h-3zM727 429h3v4h-3zM730 429h3v4h-3zM733 429h3v4h-3zM751 429h3v4h-3zM790 429h3v4h-3zM796 429h3v4h-3zM799 429h3v4h-3zM805 429h3v4h-3zM814 429h3v4h-3zM823 429h3v4h-3zM829 429h3v4h-3zM697 433h3v4h-3zM715 433h3v4h-3zM721 433h3v4h-3zM727 433h3v4h-3zM730 433h3v4h-3zM739 433h3v4h-3zM751 433h3v4h-3zM763 433h3v4h-3zM769 433h3v4h-3zM784 433h3v4h-3zM796 433h3v4h-3zM802 433h3v4h-3zM811 433h3v4h-3zM814 433h3v4h-3zM721 437h3v4h-3zM724 437h3v4h-3zM727 437h3v4h-3zM784 437h3v4h-3zM787 437h3v4h-3zM790 437h3v4h-3zM796 437h3v4h-3zM805 437h3v4h-3zM838 437h3v4h-3zM841 437h3v4h-3zM733 441h3v4h-3zM766 441h3v4h-3zM778 441h3v4h-3zM787 441h3v4h-3zM790 441h3v4h-3zM835 441h3v4h-3zM838 441h3v4h-3zM844 441h3v4h-3zM715 445h3v4h-3zM718 445h3v4h-3zM733 445h3v4h-3zM736 445h3v4h-3zM742 445h3v4h-3zM760 445h3v4h-3zM769 445h3v4h-3zM775 445h3v4h-3zM784 445h3v4h-3zM790 445h3v4h-3zM841 445h3v4h-3zM724 449h3v4h-3zM748 449h3v4h-3zM751 449h3v4h-3zM772 449h3v4h-3zM778 449h3v4h-3zM841 449h3v4h-3zM718 453h3v4h-3zM721 453h3v4h-3zM724 453h3v4h-3zM739 453h3v4h-3zM748 453h3v4h-3zM754 453h3v4h-3zM757 453h3v4h-3zM763 453h3v4h-3zM766 453h3v4h-3zM724 457h3v4h-3zM730 457h3v4h-3zM733 457h3v4h-3zM736 457h3v4h-3zM742 457h3v4h-3zM751 457h3v4h-3zM757 457h3v4h-3zM763 457h3v4h-3zM775 457h3v4h-3zM730 461h3v4h-3zM736 461h3v4h-3zM739 461h3v4h-3zM841 461h3v4h-3zM727 465h3v4h-3zM730 465h3v4h-3zM739 465h3v4h-3zM706 469h3v4h-3zM730 469h3v4h-3zM739 469h3v4h-3zM793 469h3v4h-3zM811 469h3v4h-3zM706 473h3v4h-3zM727 473h3v4h-3zM730 473h3v4h-3zM793 473h3v4h-3zM724 477h3v4h-3zM727 477h3v4h-3zM730 477h3v4h-3zM706 481h3v4h-3zM709 481h3v4h-3zM733 481h3v4h-3zM745 481h3v4h-3zM697 485h3v4h-3zM724 485h3v4h-3zM730 485h3v4h-3zM733 485h3v4h-3zM736 485h3v4h-3zM739 485h3v4h-3zM742 485h3v4h-3zM748 485h3v4h-3zM751 485h3v4h-3zM781 485h3v4h-3zM703 489h3v4h-3zM766 489h3v4h-3zM772 489h3v4h-3zM775 489h3v4h-3zM781 489h3v4h-3zM829 501h3v4h-3zM805 505h3v4h-3zM808 505h3v4h-3zM829 505h3v4h-3zM835 505h3v4h-3zM787 509h3v4h-3zM817 509h3v4h-3zM835 509h3v4h-3zM838 509h3v4h-3zM844 509h3v4h-3zM841 513h3v4h-3zM844 513h3v4h-3zM838 517h3v4h-3zM844 517h3v4h-3zM835 521h3v4h-3zM790 525h3v4h-3zM832 525h3v4h-3zM793 529h3v4h-3zM829 529h3v4h-3zM682 533h3v4h-3zM703 537h3v4h-3zM763 537h3v4h-3zM823 537h3v4h-3zM727 541h3v4h-3zM754 541h3v4h-3zM808 541h3v4h-3zM739 545h3v4h-3zM745 545h3v4h-3zM748 545h3v4h-3zM811 545h3v4h-3zM814 545h3v4h-3zM745 549h3v4h-3zM751 549h3v4h-3zM766 549h3v4h-3zM745 553h3v2h-3z"/>
<path fill="#00d700" d="M682 325h3v4h-3zM688 325h3v4h-3zM691 325h3v4h-3zM697 325h3v4h-3zM700 325h3v4h-3zM703 325h3v4h-3zM706 325h3v4h-3zM712 325h3v4h-3zM718 325h3v4h-3zM727 325h3v4h-3zM682 329h3v4h-3zM685 329h3v4h-3zM694 329h3v4h-3zM697 329h3v4h-3zM703 329h3v4h-3zM706 329h3v4h-3zM709 329h3v4h-3zM724 329h3v4h-3zM691 333h3v4h-3zM697 333h3v4h-3zM700 333h3v4h-3zM706 333h3v4h-3zM709 333h3v4h-3zM712 333h3v4h-3zM715 333h3v4h-3zM724 333h3v4h-3zM688 337h3v4h-3zM694 337h3v4h-3zM700 337h3v4h-3zM715 337h3v4h-3zM721 337h3v4h-3zM691 341h3v4h-3zM694 341h3v4h-3zM697 341h3v4h-3zM703 341h3v4h-3zM706 341h3v4h-3zM712 341h3v4h-3zM697 345h3v4h-3zM700 345h3v4h-3zM706 345h3v4h-3zM709 345h3v4h-3zM715 345h3v4h-3zM691 349h3v4h-3zM694 349h3v4h-3zM697 349h3v4h-3zM706 349h3v4h-3zM715 349h3v4h-3zM784 349h3v4h-3zM694 353h3v4h-3zM703 353h3v4h-3zM712 353h3v4h-3zM715 353h3v4h-3zM718 353h3v4h-3zM694 357h3v4h-3zM703 357h3v4h-3zM706 357h3v4h-3zM709 357h3v4h-3zM712 357h3v4h-3zM778 357h3v4h-3zM781 357h3v4h-3zM694 361h3v4h-3zM703 361h3v4h-3zM709 361h3v4h-3zM781 361h3v4h-3zM691 365h3v4h-3zM697 365h3v4h-3zM700 365h3v4h-3zM712 365h3v4h-3zM715 365h3v4h-3zM715 369h3v4h-3zM784 369h3v4h-3zM712 373h3v4h-3zM778 373h3v4h-3zM787 373h3v4h-3zM694 377h3v4h-3zM805 377h3v4h-3zM697 381h3v4h-3zM709 381h3v4h-3zM760 381h3v4h-3zM772 381h3v4h-3zM790 381h3v4h-3zM811 381h3v4h-3zM760 385h3v4h-3zM766 385h3v4h-3zM787 385h3v4h-3zM790 385h3v4h-3zM793 385h3v4h-3zM802 385h3v4h-3zM826 385h3v4h-3zM691 389h3v4h-3zM694 389h3v4h-3zM697 389h3v4h-3zM703 389h3v4h-3zM712 389h3v4h-3zM784 389h3v4h-3zM790 389h3v4h-3zM799 389h3v4h-3zM802 389h3v4h-3zM805 389h3v4h-3zM691 393h3v4h-3zM763 393h3v4h-3zM775 393h3v4h-3zM781 393h3v4h-3zM787 393h3v4h-3zM799 393h3v4h-3zM802 393h3v4h-3zM805 393h3v4h-3zM823 393h3v4h-3zM697 397h3v4h-3zM700 397h3v4h-3zM715 397h3v4h-3zM763 397h3v4h-3zM793 397h3v4h-3zM799 397h3v4h-3zM823 397h3v4h-3zM826 397h3v4h-3zM694 401h3v4h-3zM697 401h3v4h-3zM703 401h3v4h-3zM709 401h3v4h-3zM715 401h3v4h-3zM778 401h3v4h-3zM781 401h3v4h-3zM787 401h3v4h-3zM790 401h3v4h-3zM793 401h3v4h-3zM796 401h3v4h-3zM799 401h3v4h-3zM814 401h3v4h-3zM820 401h3v4h-3zM694 405h3v4h-3zM700 405h3v4h-3zM709 405h3v4h-3zM712 405h3v4h-3zM781 405h3v4h-3zM787 405h3v4h-3zM790 405h3v4h-3zM796 405h3v4h-3zM820 405h3v4h-3zM697 409h3v4h-3zM706 409h3v4h-3zM712 409h3v4h-3zM715 409h3v4h-3zM718 409h3v4h-3zM724 409h3v4h-3zM760 409h3v4h-3zM766 409h3v4h-3zM769 409h3v4h-3zM772 409h3v4h-3zM787 409h3v4h-3zM820 409h3v4h-3zM826 409h3v4h-3zM688 413h3v4h-3zM694 413h3v4h-3zM697 413h3v4h-3zM700 413h3v4h-3zM706 413h3v4h-3zM709 413h3v4h-3zM718 413h3v4h-3zM727 413h3v4h-3zM736 413h3v4h-3zM766 413h3v4h-3zM772 413h3v4h-3zM784 413h3v4h-3zM790 413h3v4h-3zM820 413h3v4h-3zM829 413h3v4h-3zM694 417h3v4h-3zM697 417h3v4h-3zM700 417h3v4h-3zM712 417h3v4h-3zM718 417h3v4h-3zM721 417h3v4h-3zM724 417h3v4h-3zM745 417h3v4h-3zM760 417h3v4h-3zM763 417h3v4h-3zM769 417h3v4h-3zM772 417h3v4h-3zM775 417h3v4h-3zM778 417h3v4h-3zM781 417h3v4h-3zM784 417h3v4h-3zM787 417h3v4h-3zM820 417h3v4h-3zM823 417h3v4h-3zM682 421h3v4h-3zM700 421h3v4h-3zM703 421h3v4h-3zM706 421h3v4h-3zM712 421h3v4h-3zM724 421h3v4h-3zM736 421h3v4h-3zM742 421h3v4h-3zM760 421h3v4h-3zM763 421h3v4h-3zM766 421h3v4h-3zM778 421h3v4h-3zM781 421h3v4h-3zM787 421h3v4h-3zM793 421h3v4h-3zM817 421h3v4h-3zM823 421h3v4h-3zM697 425h3v4h-3zM700 425h3v4h-3zM703 425h3v4h-3zM706 425h3v4h-3zM712 425h3v4h-3zM721 425h3v4h-3zM727 425h3v4h-3zM742 425h3v4h-3zM775 425h3v4h-3zM778 425h3v4h-3zM781 425h3v4h-3zM784 425h3v4h-3zM787 425h3v4h-3zM790 425h3v4h-3zM811 425h3v4h-3zM814 425h3v4h-3zM817 425h3v4h-3zM823 425h3v4h-3zM826 425h3v4h-3zM832 425h3v4h-3zM706 429h3v4h-3zM724 429h3v4h-3zM736 429h3v4h-3zM766 429h3v4h-3zM772 429h3v4h-3zM775 429h3v4h-3zM778 429h3v4h-3zM781 429h3v4h-3zM784 429h3v4h-3zM787 429h3v4h-3zM793 429h3v4h-3zM811 429h3v4h-3zM817 429h3v4h-3zM820 429h3v4h-3zM826 429h3v4h-3zM832 429h3v4h-3zM724 433h3v4h-3zM733 433h3v4h-3zM742 433h3v4h-3zM766 433h3v4h-3zM772 433h3v4h-3zM775 433h3v4h-3zM778 433h3v4h-3zM781 433h3v4h-3zM787 433h3v4h-3zM793 433h3v4h-3zM808 433h3v4h-3zM817 433h3v4h-3zM826 433h3v4h-3zM829 433h3v4h-3zM835 433h3v4h-3zM706 437h3v4h-3zM709 437h3v4h-3zM712 437h3v4h-3zM715 437h3v4h-3zM718 437h3v4h-3zM733 437h3v4h-3zM736 437h3v4h-3zM739 437h3v4h-3zM760 437h3v4h-3zM763 437h3v4h-3zM766 437h3v4h-3zM769 437h3v4h-3zM772 437h3v4h-3zM781 437h3v4h-3zM793 437h3v4h-3zM814 437h3v4h-3zM817 437h3v4h-3zM820 437h3v4h-3zM823 437h3v4h-3zM826 437h3v4h-3zM829 437h3v4h-3zM832 437h3v4h-3zM835 437h3v4h-3zM700 441h3v4h-3zM703 441h3v4h-3zM715 441h3v4h-3zM718 441h3v4h-3zM721 441h3v4h-3zM724 441h3v4h-3zM727 441h3v4h-3zM739 441h3v4h-3zM742 441h3v4h-3zM748 441h3v4h-3zM751 441h3v4h-3zM754 441h3v4h-3zM763 441h3v4h-3zM775 441h3v4h-3zM781 441h3v4h-3zM793 441h3v4h-3zM841 441h3v4h-3zM712 445h3v4h-3zM724 445h3v4h-3zM727 445h3v4h-3zM730 445h3v4h-3zM739 445h3v4h-3zM745 445h3v4h-3zM751 445h3v4h-3zM754 445h3v4h-3zM757 445h3v4h-3zM766 445h3v4h-3zM772 445h3v4h-3zM844 445h3v4h-3zM712 449h3v4h-3zM718 449h3v4h-3zM727 449h3v4h-3zM730 449h3v4h-3zM733 449h3v4h-3zM736 449h3v4h-3zM739 449h3v4h-3zM742 449h3v4h-3zM754 449h3v4h-3zM757 449h3v4h-3zM760 449h3v4h-3zM763 449h3v4h-3zM769 449h3v4h-3zM775 449h3v4h-3zM781 449h3v4h-3zM712 453h3v4h-3zM730 453h3v4h-3zM733 453h3v4h-3zM736 453h3v4h-3zM742 453h3v4h-3zM745 453h3v4h-3zM751 453h3v4h-3zM760 453h3v4h-3zM706 457h3v4h-3zM709 457h3v4h-3zM712 457h3v4h-3zM715 457h3v4h-3zM718 457h3v4h-3zM721 457h3v4h-3zM748 457h3v4h-3zM709 461h3v4h-3zM715 461h3v4h-3zM727 461h3v4h-3zM703 465h3v4h-3zM706 465h3v4h-3zM709 465h3v4h-3zM712 465h3v4h-3zM715 465h3v4h-3zM733 465h3v4h-3zM838 465h3v4h-3zM703 469h3v4h-3zM709 469h3v4h-3zM727 469h3v4h-3zM829 469h3v4h-3zM709 473h3v4h-3zM724 473h3v4h-3zM706 477h3v4h-3zM712 477h3v4h-3zM715 477h3v4h-3zM787 477h3v4h-3zM703 481h3v4h-3zM712 481h3v4h-3zM715 481h3v4h-3zM724 481h3v4h-3zM727 481h3v4h-3zM784 481h3v4h-3zM712 485h3v4h-3zM715 485h3v4h-3zM718 485h3v4h-3zM721 485h3v4h-3zM727 485h3v4h-3zM700 489h3v4h-3zM718 489h3v4h-3zM739 489h3v4h-3zM745 489h3v4h-3zM757 489h3v4h-3zM760 489h3v4h-3zM685 493h3v4h-3zM700 493h3v4h-3zM703 493h3v4h-3zM718 493h3v4h-3zM730 493h3v4h-3zM769 493h3v4h-3zM775 493h3v4h-3zM778 493h3v4h-3zM793 501h3v4h-3zM799 501h3v4h-3zM832 501h3v4h-3zM787 505h3v4h-3zM817 505h3v4h-3zM820 505h3v4h-3zM841 505h3v4h-3zM838 513h3v4h-3zM679 529h3v4h-3zM799 533h3v4h-3zM829 533h3v4h-3zM802 541h3v4h-3zM751 545h3v4h-3zM805 545h3v4h-3zM808 545h3v4h-3zM748 553h3v2h-3zM766 553h3v2h-3z"/>
<path fill="#10da00" d="M685 325h3v4h-3zM709 325h3v4h-3zM715 325h3v4h-3zM721 325h3v4h-3zM724 325h3v4h-3zM688 329h3v4h-3zM700 329h3v4h-3zM712 329h3v4h-3zM715 329h3v4h-3zM718 329h3v4h-3zM721 329h3v4h-3zM679 333h3v4h-3zM682 333h3v4h-3zM685 333h3v4h-3zM694 333h3v4h-3zM685 337h3v4h-3zM718 337h3v4h-3zM688 341h3v4h-3zM709 341h3v4h-3zM715 341h3v4h-3zM718 341h3v4h-3zM721 341h3v4h-3zM691 345h3v4h-3zM694 345h3v4h-3zM718 345h3v4h-3zM721 345h3v4h-3zM703 349h3v4h-3zM709 349h3v4h-3zM712 349h3v4h-3zM718 349h3v4h-3zM721 349h3v4h-3zM778 349h3v4h-3zM706 353h3v4h-3zM709 353h3v4h-3zM778 353h3v4h-3zM784 353h3v4h-3zM691 357h3v4h-3zM715 357h3v4h-3zM784 357h3v4h-3zM697 361h3v4h-3zM706 361h3v4h-3zM712 361h3v4h-3zM715 361h3v4h-3zM718 361h3v4h-3zM778 361h3v4h-3zM694 365h3v4h-3zM703 365h3v4h-3zM706 365h3v4h-3zM709 365h3v4h-3zM718 365h3v4h-3zM721 365h3v4h-3zM778 365h3v4h-3zM781 365h3v4h-3zM787 365h3v4h-3zM697 369h3v4h-3zM703 369h3v4h-3zM706 369h3v4h-3zM709 369h3v4h-3zM778 369h3v4h-3zM781 369h3v4h-3zM691 373h3v4h-3zM697 373h3v4h-3zM700 373h3v4h-3zM703 373h3v4h-3zM709 373h3v4h-3zM718 373h3v4h-3zM781 373h3v4h-3zM790 373h3v4h-3zM697 377h3v4h-3zM700 377h3v4h-3zM703 377h3v4h-3zM757 377h3v4h-3zM766 377h3v4h-3zM769 377h3v4h-3zM772 377h3v4h-3zM775 377h3v4h-3zM781 377h3v4h-3zM787 377h3v4h-3zM790 377h3v4h-3zM799 377h3v4h-3zM802 377h3v4h-3zM811 377h3v4h-3zM700 381h3v4h-3zM706 381h3v4h-3zM712 381h3v4h-3zM724 381h3v4h-3zM763 381h3v4h-3zM766 381h3v4h-3zM769 381h3v4h-3zM775 381h3v4h-3zM781 381h3v4h-3zM784 381h3v4h-3zM787 381h3v4h-3zM793 381h3v4h-3zM796 381h3v4h-3zM799 381h3v4h-3zM802 381h3v4h-3zM805 381h3v4h-3zM808 381h3v4h-3zM694 385h3v4h-3zM697 385h3v4h-3zM700 385h3v4h-3zM706 385h3v4h-3zM709 385h3v4h-3zM712 385h3v4h-3zM751 385h3v4h-3zM757 385h3v4h-3zM769 385h3v4h-3zM772 385h3v4h-3zM778 385h3v4h-3zM796 385h3v4h-3zM817 385h3v4h-3zM820 385h3v4h-3zM688 389h3v4h-3zM706 389h3v4h-3zM709 389h3v4h-3zM718 389h3v4h-3zM724 389h3v4h-3zM751 389h3v4h-3zM754 389h3v4h-3zM757 389h3v4h-3zM766 389h3v4h-3zM769 389h3v4h-3zM772 389h3v4h-3zM775 389h3v4h-3zM781 389h3v4h-3zM787 389h3v4h-3zM793 389h3v4h-3zM796 389h3v4h-3zM820 389h3v4h-3zM823 389h3v4h-3zM826 389h3v4h-3zM829 389h3v4h-3zM832 389h3v4h-3zM694 393h3v4h-3zM700 393h3v4h-3zM703 393h3v4h-3zM709 393h3v4h-3zM715 393h3v4h-3zM718 393h3v4h-3zM730 393h3v4h-3zM733 393h3v4h-3zM736 393h3v4h-3zM742 393h3v4h-3zM751 393h3v4h-3zM766 393h3v4h-3zM769 393h3v4h-3zM772 393h3v4h-3zM778 393h3v4h-3zM784 393h3v4h-3zM793 393h3v4h-3zM826 393h3v4h-3zM688 397h3v4h-3zM691 397h3v4h-3zM694 397h3v4h-3zM703 397h3v4h-3zM709 397h3v4h-3zM712 397h3v4h-3zM718 397h3v4h-3zM733 397h3v4h-3zM739 397h3v4h-3zM766 397h3v4h-3zM778 397h3v4h-3zM784 397h3v4h-3zM787 397h3v4h-3zM796 397h3v4h-3zM802 397h3v4h-3zM682 401h3v4h-3zM688 401h3v4h-3zM691 401h3v4h-3zM700 401h3v4h-3zM706 401h3v4h-3zM721 401h3v4h-3zM724 401h3v4h-3zM727 401h3v4h-3zM730 401h3v4h-3zM760 401h3v4h-3zM766 401h3v4h-3zM769 401h3v4h-3zM775 401h3v4h-3zM784 401h3v4h-3zM817 401h3v4h-3zM823 401h3v4h-3zM826 401h3v4h-3zM829 401h3v4h-3zM682 405h3v4h-3zM688 405h3v4h-3zM691 405h3v4h-3zM697 405h3v4h-3zM703 405h3v4h-3zM706 405h3v4h-3zM715 405h3v4h-3zM718 405h3v4h-3zM721 405h3v4h-3zM724 405h3v4h-3zM727 405h3v4h-3zM733 405h3v4h-3zM739 405h3v4h-3zM748 405h3v4h-3zM751 405h3v4h-3zM766 405h3v4h-3zM769 405h3v4h-3zM772 405h3v4h-3zM775 405h3v4h-3zM784 405h3v4h-3zM823 405h3v4h-3zM829 405h3v4h-3zM685 409h3v4h-3zM691 409h3v4h-3zM700 409h3v4h-3zM703 409h3v4h-3zM709 409h3v4h-3zM727 409h3v4h-3zM733 409h3v4h-3zM763 409h3v4h-3zM829 409h3v4h-3zM679 413h3v4h-3zM682 413h3v4h-3zM685 413h3v4h-3zM691 413h3v4h-3zM712 413h3v4h-3zM715 413h3v4h-3zM721 413h3v4h-3zM730 413h3v4h-3zM745 413h3v4h-3zM748 413h3v4h-3zM754 413h3v4h-3zM760 413h3v4h-3zM763 413h3v4h-3zM775 413h3v4h-3zM778 413h3v4h-3zM823 413h3v4h-3zM682 417h3v4h-3zM685 417h3v4h-3zM691 417h3v4h-3zM703 417h3v4h-3zM706 417h3v4h-3zM709 417h3v4h-3zM715 417h3v4h-3zM736 417h3v4h-3zM748 417h3v4h-3zM751 417h3v4h-3zM757 417h3v4h-3zM766 417h3v4h-3zM829 417h3v4h-3zM832 417h3v4h-3zM835 417h3v4h-3zM838 417h3v4h-3zM841 417h3v4h-3zM679 421h3v4h-3zM685 421h3v4h-3zM688 421h3v4h-3zM691 421h3v4h-3zM694 421h3v4h-3zM697 421h3v4h-3zM715 421h3v4h-3zM739 421h3v4h-3zM745 421h3v4h-3zM748 421h3v4h-3zM757 421h3v4h-3zM829 421h3v4h-3zM832 421h3v4h-3zM838 421h3v4h-3zM682 425h3v4h-3zM691 425h3v4h-3zM694 425h3v4h-3zM709 425h3v4h-3zM715 425h3v4h-3zM718 425h3v4h-3zM733 425h3v4h-3zM745 425h3v4h-3zM751 425h3v4h-3zM754 425h3v4h-3zM757 425h3v4h-3zM760 425h3v4h-3zM772 425h3v4h-3zM838 425h3v4h-3zM841 425h3v4h-3zM688 429h3v4h-3zM691 429h3v4h-3zM694 429h3v4h-3zM697 429h3v4h-3zM703 429h3v4h-3zM712 429h3v4h-3zM715 429h3v4h-3zM718 429h3v4h-3zM739 429h3v4h-3zM742 429h3v4h-3zM745 429h3v4h-3zM754 429h3v4h-3zM757 429h3v4h-3zM760 429h3v4h-3zM763 429h3v4h-3zM769 429h3v4h-3zM835 429h3v4h-3zM844 429h3v4h-3zM679 433h3v4h-3zM688 433h3v4h-3zM694 433h3v4h-3zM700 433h3v4h-3zM712 433h3v4h-3zM736 433h3v4h-3zM745 433h3v4h-3zM748 433h3v4h-3zM757 433h3v4h-3zM760 433h3v4h-3zM799 433h3v4h-3zM820 433h3v4h-3zM823 433h3v4h-3zM832 433h3v4h-3zM838 433h3v4h-3zM841 433h3v4h-3zM844 433h3v4h-3zM682 437h3v4h-3zM694 437h3v4h-3zM697 437h3v4h-3zM700 437h3v4h-3zM703 437h3v4h-3zM730 437h3v4h-3zM742 437h3v4h-3zM745 437h3v4h-3zM748 437h3v4h-3zM751 437h3v4h-3zM754 437h3v4h-3zM757 437h3v4h-3zM775 437h3v4h-3zM778 437h3v4h-3zM844 437h3v4h-3zM697 441h3v4h-3zM706 441h3v4h-3zM709 441h3v4h-3zM712 441h3v4h-3zM730 441h3v4h-3zM736 441h3v4h-3zM757 441h3v4h-3zM769 441h3v4h-3zM772 441h3v4h-3zM784 441h3v4h-3zM697 445h3v4h-3zM706 445h3v4h-3zM709 445h3v4h-3zM721 445h3v4h-3zM748 445h3v4h-3zM763 445h3v4h-3zM703 449h3v4h-3zM706 449h3v4h-3zM709 449h3v4h-3zM715 449h3v4h-3zM721 449h3v4h-3zM745 449h3v4h-3zM709 453h3v4h-3zM727 453h3v4h-3zM703 457h3v4h-3zM727 457h3v4h-3zM712 461h3v4h-3zM721 461h3v4h-3zM724 461h3v4h-3zM700 465h3v4h-3zM718 465h3v4h-3zM721 465h3v4h-3zM724 465h3v4h-3zM841 465h3v4h-3zM844 465h3v4h-3zM697 469h3v4h-3zM700 469h3v4h-3zM712 469h3v4h-3zM715 469h3v4h-3zM721 469h3v4h-3zM796 469h3v4h-3zM808 469h3v4h-3zM832 469h3v4h-3zM697 473h3v4h-3zM700 473h3v4h-3zM703 473h3v4h-3zM712 473h3v4h-3zM715 473h3v4h-3zM709 477h3v4h-3zM718 477h3v4h-3zM694 481h3v4h-3zM697 481h3v4h-3zM700 481h3v4h-3zM718 481h3v4h-3zM721 481h3v4h-3zM694 485h3v4h-3zM700 485h3v4h-3zM703 485h3v4h-3zM706 485h3v4h-3zM709 485h3v4h-3zM697 489h3v4h-3zM706 489h3v4h-3zM715 489h3v4h-3zM724 489h3v4h-3zM727 489h3v4h-3zM733 489h3v4h-3zM736 489h3v4h-3zM742 489h3v4h-3zM751 489h3v4h-3zM688 493h3v4h-3zM724 493h3v4h-3zM727 493h3v4h-3zM733 493h3v4h-3zM763 493h3v4h-3zM766 493h3v4h-3zM772 493h3v4h-3zM781 493h3v4h-3zM685 497h3v4h-3zM679 501h3v4h-3zM790 501h3v4h-3zM796 501h3v4h-3zM805 501h3v4h-3zM811 501h3v4h-3zM826 501h3v4h-3zM838 505h3v4h-3zM844 505h3v4h-3zM841 509h3v4h-3zM682 513h3v4h-3zM787 517h3v4h-3zM841 517h3v4h-3zM787 521h3v4h-3zM835 525h3v4h-3zM682 529h3v4h-3zM685 533h3v4h-3zM796 533h3v4h-3zM730 541h3v4h-3zM820 541h3v4h-3zM766 545h3v4h-3zM802 545h3v4h-3zM805 549h3v4h-3zM808 549h3v4h-3zM814 549h3v4h-3z"/>
<path fill="#00cc16" d="M694 325h3v4h-3zM721 333h3v4h-3zM697 353h3v4h-3zM805 385h3v4h-3zM814 389h3v4h-3zM808 393h3v4h-3zM811 393h3v4h-3zM814 393h3v4h-3zM817 393h3v4h-3zM811 401h3v4h-3zM799 405h3v4h-3zM808 405h3v4h-3zM814 405h3v4h-3zM817 405h3v4h-3zM775 409h3v4h-3zM778 409h3v4h-3zM790 409h3v4h-3zM796 409h3v4h-3zM787 413h3v4h-3zM793 413h3v4h-3zM814 413h3v4h-3zM817 413h3v4h-3zM793 417h3v4h-3zM799 417h3v4h-3zM802 417h3v4h-3zM808 417h3v4h-3zM814 417h3v4h-3zM733 421h3v4h-3zM796 421h3v4h-3zM802 421h3v4h-3zM805 421h3v4h-3zM736 425h3v4h-3zM793 425h3v4h-3zM799 425h3v4h-3zM808 429h3v4h-3zM718 433h3v4h-3zM799 437h3v4h-3zM802 437h3v4h-3zM808 437h3v4h-3zM760 441h3v4h-3zM796 441h3v4h-3zM799 441h3v4h-3zM802 441h3v4h-3zM805 441h3v4h-3zM808 441h3v4h-3zM811 441h3v4h-3zM823 441h3v4h-3zM826 441h3v4h-3zM829 441h3v4h-3zM778 445h3v4h-3zM781 445h3v4h-3zM787 445h3v4h-3zM793 445h3v4h-3zM796 445h3v4h-3zM799 445h3v4h-3zM835 445h3v4h-3zM838 445h3v4h-3zM766 449h3v4h-3zM784 449h3v4h-3zM787 449h3v4h-3zM790 449h3v4h-3zM799 449h3v4h-3zM838 449h3v4h-3zM844 449h3v4h-3zM769 453h3v4h-3zM772 453h3v4h-3zM775 453h3v4h-3zM778 453h3v4h-3zM781 453h3v4h-3zM784 453h3v4h-3zM787 453h3v4h-3zM790 453h3v4h-3zM793 453h3v4h-3zM796 453h3v4h-3zM841 453h3v4h-3zM844 453h3v4h-3zM739 457h3v4h-3zM745 457h3v4h-3zM754 457h3v4h-3zM760 457h3v4h-3zM769 457h3v4h-3zM772 457h3v4h-3zM781 457h3v4h-3zM784 457h3v4h-3zM790 457h3v4h-3zM793 457h3v4h-3zM841 457h3v4h-3zM733 461h3v4h-3zM742 461h3v4h-3zM745 461h3v4h-3zM748 461h3v4h-3zM751 461h3v4h-3zM766 461h3v4h-3zM769 461h3v4h-3zM775 461h3v4h-3zM781 461h3v4h-3zM787 461h3v4h-3zM790 461h3v4h-3zM844 461h3v4h-3zM748 465h3v4h-3zM760 465h3v4h-3zM784 465h3v4h-3zM790 465h3v4h-3zM793 465h3v4h-3zM733 469h3v4h-3zM736 469h3v4h-3zM820 469h3v4h-3zM823 469h3v4h-3zM733 473h3v4h-3zM736 473h3v4h-3zM739 473h3v4h-3zM754 473h3v4h-3zM733 477h3v4h-3zM736 477h3v4h-3zM739 477h3v4h-3zM748 477h3v4h-3zM751 477h3v4h-3zM757 477h3v4h-3zM730 481h3v4h-3zM736 481h3v4h-3zM739 481h3v4h-3zM742 481h3v4h-3zM745 485h3v4h-3zM754 485h3v4h-3zM757 485h3v4h-3zM763 485h3v4h-3zM763 489h3v4h-3zM769 489h3v4h-3zM790 505h3v4h-3zM811 505h3v4h-3zM814 505h3v4h-3zM823 505h3v4h-3zM826 505h3v4h-3zM832 505h3v4h-3zM808 509h3v4h-3zM811 509h3v4h-3zM814 509h3v4h-3zM832 509h3v4h-3zM787 513h3v4h-3zM832 513h3v4h-3zM835 513h3v4h-3zM835 517h3v4h-3zM790 521h3v4h-3zM796 529h3v4h-3zM679 533h3v4h-3zM757 537h3v4h-3zM802 537h3v4h-3zM724 541h3v4h-3zM805 541h3v4h-3zM817 541h3v4h-3zM733 545h3v4h-3zM736 545h3v4h-3zM742 545h3v4h-3zM742 549h3v4h-3zM748 549h3v4h-3zM754 549h3v4h-3zM742 553h3v2h-3zM751 553h3v2h-3zM754 553h3v2h-3z"/>
<path fill="#20dd00" d="M730 325h3v4h-3zM733 325h3v4h-3zM739 325h3v4h-3zM742 325h3v4h-3zM727 329h3v4h-3zM730 329h3v4h-3zM745 329h3v4h-3zM718 333h3v4h-3zM727 333h3v4h-3zM679 337h3v4h-3zM682 337h3v4h-3zM691 337h3v4h-3zM724 337h3v4h-3zM679 341h3v4h-3zM685 341h3v4h-3zM724 341h3v4h-3zM679 345h3v4h-3zM724 345h3v4h-3zM688 349h3v4h-3zM691 353h3v4h-3zM787 353h3v4h-3zM688 357h3v4h-3zM718 357h3v4h-3zM721 357h3v4h-3zM688 361h3v4h-3zM691 361h3v4h-3zM721 361h3v4h-3zM775 361h3v4h-3zM784 361h3v4h-3zM775 365h3v4h-3zM694 369h3v4h-3zM700 369h3v4h-3zM712 369h3v4h-3zM718 369h3v4h-3zM721 369h3v4h-3zM772 369h3v4h-3zM775 369h3v4h-3zM787 369h3v4h-3zM802 369h3v4h-3zM808 369h3v4h-3zM688 373h3v4h-3zM694 373h3v4h-3zM715 373h3v4h-3zM721 373h3v4h-3zM754 373h3v4h-3zM757 373h3v4h-3zM766 373h3v4h-3zM775 373h3v4h-3zM784 373h3v4h-3zM799 373h3v4h-3zM802 373h3v4h-3zM805 373h3v4h-3zM808 373h3v4h-3zM691 377h3v4h-3zM706 377h3v4h-3zM709 377h3v4h-3zM712 377h3v4h-3zM715 377h3v4h-3zM718 377h3v4h-3zM721 377h3v4h-3zM754 377h3v4h-3zM763 377h3v4h-3zM778 377h3v4h-3zM793 377h3v4h-3zM808 377h3v4h-3zM829 377h3v4h-3zM691 381h3v4h-3zM694 381h3v4h-3zM703 381h3v4h-3zM715 381h3v4h-3zM721 381h3v4h-3zM745 381h3v4h-3zM748 381h3v4h-3zM754 381h3v4h-3zM757 381h3v4h-3zM778 381h3v4h-3zM814 381h3v4h-3zM826 381h3v4h-3zM832 381h3v4h-3zM685 385h3v4h-3zM688 385h3v4h-3zM691 385h3v4h-3zM715 385h3v4h-3zM718 385h3v4h-3zM721 385h3v4h-3zM736 385h3v4h-3zM742 385h3v4h-3zM754 385h3v4h-3zM763 385h3v4h-3zM775 385h3v4h-3zM781 385h3v4h-3zM784 385h3v4h-3zM823 385h3v4h-3zM829 385h3v4h-3zM832 385h3v4h-3zM835 385h3v4h-3zM721 389h3v4h-3zM727 389h3v4h-3zM730 389h3v4h-3zM736 389h3v4h-3zM739 389h3v4h-3zM745 389h3v4h-3zM748 389h3v4h-3zM760 389h3v4h-3zM763 389h3v4h-3zM778 389h3v4h-3zM835 389h3v4h-3zM685 393h3v4h-3zM688 393h3v4h-3zM712 393h3v4h-3zM721 393h3v4h-3zM727 393h3v4h-3zM739 393h3v4h-3zM745 393h3v4h-3zM754 393h3v4h-3zM757 393h3v4h-3zM760 393h3v4h-3zM790 393h3v4h-3zM796 393h3v4h-3zM829 393h3v4h-3zM685 397h3v4h-3zM706 397h3v4h-3zM721 397h3v4h-3zM730 397h3v4h-3zM736 397h3v4h-3zM745 397h3v4h-3zM760 397h3v4h-3zM769 397h3v4h-3zM772 397h3v4h-3zM775 397h3v4h-3zM781 397h3v4h-3zM829 397h3v4h-3zM685 401h3v4h-3zM733 401h3v4h-3zM736 401h3v4h-3zM754 401h3v4h-3zM763 401h3v4h-3zM772 401h3v4h-3zM685 405h3v4h-3zM730 405h3v4h-3zM736 405h3v4h-3zM742 405h3v4h-3zM745 405h3v4h-3zM757 405h3v4h-3zM760 405h3v4h-3zM763 405h3v4h-3zM679 409h3v4h-3zM682 409h3v4h-3zM739 409h3v4h-3zM745 409h3v4h-3zM751 409h3v4h-3zM754 409h3v4h-3zM757 409h3v4h-3zM832 409h3v4h-3zM733 413h3v4h-3zM739 413h3v4h-3zM742 413h3v4h-3zM751 413h3v4h-3zM832 413h3v4h-3zM835 413h3v4h-3zM838 413h3v4h-3zM679 417h3v4h-3zM742 417h3v4h-3zM754 417h3v4h-3zM709 421h3v4h-3zM751 421h3v4h-3zM835 421h3v4h-3zM841 421h3v4h-3zM679 425h3v4h-3zM685 425h3v4h-3zM688 425h3v4h-3zM748 425h3v4h-3zM763 425h3v4h-3zM769 425h3v4h-3zM829 425h3v4h-3zM835 425h3v4h-3zM844 425h3v4h-3zM679 429h3v4h-3zM685 429h3v4h-3zM700 429h3v4h-3zM709 429h3v4h-3zM748 429h3v4h-3zM838 429h3v4h-3zM841 429h3v4h-3zM682 433h3v4h-3zM691 433h3v4h-3zM703 433h3v4h-3zM706 433h3v4h-3zM709 433h3v4h-3zM685 437h3v4h-3zM688 437h3v4h-3zM685 441h3v4h-3zM691 441h3v4h-3zM694 441h3v4h-3zM745 441h3v4h-3zM700 445h3v4h-3zM703 445h3v4h-3zM679 453h3v4h-3zM682 453h3v4h-3zM703 453h3v4h-3zM706 453h3v4h-3zM715 453h3v4h-3zM700 461h3v4h-3zM706 461h3v4h-3zM718 461h3v4h-3zM694 469h3v4h-3zM718 469h3v4h-3zM724 469h3v4h-3zM799 469h3v4h-3zM805 469h3v4h-3zM835 469h3v4h-3zM841 469h3v4h-3zM694 473h3v4h-3zM721 473h3v4h-3zM694 477h3v4h-3zM697 477h3v4h-3zM700 477h3v4h-3zM703 477h3v4h-3zM721 477h3v4h-3zM790 477h3v4h-3zM691 481h3v4h-3zM691 489h3v4h-3zM694 489h3v4h-3zM709 489h3v4h-3zM712 489h3v4h-3zM721 489h3v4h-3zM730 489h3v4h-3zM748 489h3v4h-3zM754 489h3v4h-3zM679 493h3v4h-3zM682 493h3v4h-3zM691 493h3v4h-3zM694 493h3v4h-3zM697 493h3v4h-3zM706 493h3v4h-3zM709 493h3v4h-3zM712 493h3v4h-3zM721 493h3v4h-3zM760 493h3v4h-3zM679 497h3v4h-3zM682 497h3v4h-3zM688 497h3v4h-3zM682 501h3v4h-3zM802 501h3v4h-3zM820 501h3v4h-3zM823 501h3v4h-3zM835 501h3v4h-3zM838 501h3v4h-3zM682 505h3v4h-3zM685 505h3v4h-3zM679 509h3v4h-3zM679 513h3v4h-3zM679 517h3v4h-3zM679 521h3v4h-3zM838 521h3v4h-3zM679 525h3v4h-3zM682 525h3v4h-3zM832 529h3v4h-3zM688 533h3v4h-3zM706 537h3v4h-3zM799 537h3v4h-3zM826 537h3v4h-3zM733 541h3v4h-3zM736 541h3v4h-3zM745 541h3v4h-3zM748 541h3v4h-3zM751 541h3v4h-3zM766 541h3v4h-3zM799 541h3v4h-3zM817 545h3v4h-3zM802 549h3v4h-3zM808 553h3v2h-3z"/>
<path fill="#30e000" d="M736 325h3v4h-3zM745 325h3v4h-3zM748 325h3v4h-3zM751 325h3v4h-3zM733 329h3v4h-3zM742 329h3v4h-3zM748 329h3v4h-3zM742 333h3v4h-3zM745 333h3v4h-3zM727 337h3v4h-3zM682 341h3v4h-3zM682 345h3v4h-3zM685 345h3v4h-3zM688 345h3v4h-3zM781 345h3v4h-3zM724 349h3v4h-3zM775 349h3v4h-3zM688 353h3v4h-3zM721 353h3v4h-3zM724 353h3v4h-3zM724 357h3v4h-3zM775 357h3v4h-3zM808 357h3v4h-3zM724 361h3v4h-3zM787 361h3v4h-3zM802 361h3v4h-3zM808 361h3v4h-3zM724 365h3v4h-3zM772 365h3v4h-3zM784 365h3v4h-3zM802 365h3v4h-3zM805 365h3v4h-3zM808 365h3v4h-3zM688 369h3v4h-3zM691 369h3v4h-3zM724 369h3v4h-3zM760 369h3v4h-3zM799 369h3v4h-3zM805 369h3v4h-3zM706 373h3v4h-3zM724 373h3v4h-3zM748 373h3v4h-3zM751 373h3v4h-3zM763 373h3v4h-3zM769 373h3v4h-3zM772 373h3v4h-3zM793 373h3v4h-3zM829 373h3v4h-3zM751 377h3v4h-3zM760 377h3v4h-3zM784 377h3v4h-3zM796 377h3v4h-3zM826 377h3v4h-3zM832 377h3v4h-3zM679 381h3v4h-3zM688 381h3v4h-3zM718 381h3v4h-3zM751 381h3v4h-3zM829 381h3v4h-3zM835 381h3v4h-3zM679 385h3v4h-3zM724 385h3v4h-3zM730 385h3v4h-3zM733 385h3v4h-3zM748 385h3v4h-3zM682 389h3v4h-3zM685 389h3v4h-3zM715 389h3v4h-3zM733 389h3v4h-3zM742 389h3v4h-3zM679 393h3v4h-3zM724 393h3v4h-3zM748 393h3v4h-3zM679 397h3v4h-3zM682 397h3v4h-3zM724 397h3v4h-3zM727 397h3v4h-3zM742 397h3v4h-3zM748 397h3v4h-3zM757 397h3v4h-3zM790 397h3v4h-3zM832 397h3v4h-3zM679 401h3v4h-3zM718 401h3v4h-3zM742 401h3v4h-3zM745 401h3v4h-3zM748 401h3v4h-3zM751 401h3v4h-3zM757 401h3v4h-3zM835 401h3v4h-3zM679 405h3v4h-3zM754 405h3v4h-3zM832 405h3v4h-3zM730 409h3v4h-3zM736 409h3v4h-3zM742 409h3v4h-3zM757 413h3v4h-3zM844 417h3v4h-3zM844 421h3v4h-3zM682 429h3v4h-3zM685 433h3v4h-3zM754 433h3v4h-3zM679 437h3v4h-3zM691 437h3v4h-3zM679 441h3v4h-3zM682 441h3v4h-3zM688 441h3v4h-3zM679 445h3v4h-3zM682 445h3v4h-3zM688 445h3v4h-3zM694 445h3v4h-3zM685 449h3v4h-3zM688 449h3v4h-3zM700 449h3v4h-3zM688 453h3v4h-3zM700 453h3v4h-3zM685 457h3v4h-3zM694 461h3v4h-3zM703 461h3v4h-3zM694 465h3v4h-3zM697 465h3v4h-3zM802 469h3v4h-3zM838 469h3v4h-3zM691 473h3v4h-3zM718 473h3v4h-3zM691 477h3v4h-3zM691 485h3v4h-3zM784 485h3v4h-3zM682 489h3v4h-3zM685 489h3v4h-3zM688 489h3v4h-3zM784 489h3v4h-3zM715 493h3v4h-3zM736 493h3v4h-3zM739 493h3v4h-3zM742 493h3v4h-3zM745 493h3v4h-3zM748 493h3v4h-3zM754 493h3v4h-3zM757 493h3v4h-3zM691 497h3v4h-3zM697 497h3v4h-3zM784 497h3v4h-3zM685 501h3v4h-3zM691 501h3v4h-3zM787 501h3v4h-3zM808 501h3v4h-3zM814 501h3v4h-3zM817 501h3v4h-3zM841 501h3v4h-3zM679 505h3v4h-3zM784 505h3v4h-3zM682 509h3v4h-3zM685 509h3v4h-3zM784 513h3v4h-3zM682 521h3v4h-3zM841 521h3v4h-3zM844 521h3v4h-3zM685 529h3v4h-3zM790 529h3v4h-3zM712 537h3v4h-3zM754 537h3v4h-3zM796 537h3v4h-3zM739 541h3v4h-3zM811 549h3v4h-3zM802 553h3v2h-3zM805 553h3v2h-3zM811 553h3v2h-3zM814 553h3v2h-3z"/>
<path fill="#50e600" d="M754 325h3v4h-3zM739 329h3v4h-3zM751 329h3v4h-3zM736 333h3v4h-3zM745 337h3v4h-3zM748 337h3v4h-3zM727 345h3v4h-3zM784 345h3v4h-3zM682 349h3v4h-3zM772 349h3v4h-3zM802 349h3v4h-3zM805 349h3v4h-3zM679 353h3v4h-3zM682 353h3v4h-3zM775 353h3v4h-3zM802 353h3v4h-3zM805 353h3v4h-3zM808 353h3v4h-3zM811 353h3v4h-3zM685 357h3v4h-3zM823 357h3v4h-3zM826 357h3v4h-3zM829 357h3v4h-3zM832 357h3v4h-3zM685 361h3v4h-3zM832 361h3v4h-3zM727 365h3v4h-3zM748 365h3v4h-3zM754 365h3v4h-3zM769 365h3v4h-3zM811 365h3v4h-3zM826 365h3v4h-3zM829 365h3v4h-3zM685 369h3v4h-3zM763 369h3v4h-3zM793 369h3v4h-3zM796 369h3v4h-3zM811 369h3v4h-3zM826 369h3v4h-3zM679 373h3v4h-3zM685 373h3v4h-3zM727 373h3v4h-3zM745 373h3v4h-3zM826 373h3v4h-3zM685 377h3v4h-3zM727 377h3v4h-3zM742 377h3v4h-3zM823 377h3v4h-3zM835 377h3v4h-3zM682 381h3v4h-3zM736 381h3v4h-3zM739 381h3v4h-3zM817 381h3v4h-3zM682 385h3v4h-3zM841 389h3v4h-3zM844 389h3v4h-3zM838 393h3v4h-3zM835 397h3v4h-3zM838 405h3v4h-3zM844 405h3v4h-3zM838 409h3v4h-3zM691 445h3v4h-3zM691 449h3v4h-3zM694 457h3v4h-3zM685 461h3v4h-3zM679 465h3v4h-3zM682 469h3v4h-3zM799 473h3v4h-3zM682 485h3v4h-3zM685 485h3v4h-3zM784 493h3v4h-3zM700 497h3v4h-3zM703 497h3v4h-3zM775 497h3v4h-3zM778 497h3v4h-3zM694 501h3v4h-3zM781 501h3v4h-3zM844 501h3v4h-3zM688 505h3v4h-3zM784 517h3v4h-3zM685 521h3v4h-3zM844 525h3v4h-3zM688 529h3v4h-3zM787 529h3v4h-3zM835 529h3v4h-3zM694 533h3v4h-3zM757 533h3v4h-3zM763 533h3v4h-3zM832 533h3v4h-3zM751 537h3v4h-3zM766 537h3v4h-3zM742 541h3v4h-3zM826 541h3v4h-3zM769 545h3v4h-3zM796 545h3v4h-3zM820 545h3v4h-3zM796 549h3v4h-3zM769 553h3v2h-3zM796 553h3v2h-3zM817 553h3v2h-3z"/>
<path fill="#5ee800" d="M757 325h3v4h-3zM760 325h3v4h-3zM754 329h3v4h-3zM748 333h3v4h-3zM751 333h3v4h-3zM733 337h3v4h-3zM730 341h3v4h-3zM775 345h3v4h-3zM787 345h3v4h-3zM727 349h3v4h-3zM799 349h3v4h-3zM727 353h3v4h-3zM772 353h3v4h-3zM826 353h3v4h-3zM829 353h3v4h-3zM772 357h3v4h-3zM790 357h3v4h-3zM799 357h3v4h-3zM814 357h3v4h-3zM748 361h3v4h-3zM769 361h3v4h-3zM799 361h3v4h-3zM814 361h3v4h-3zM835 361h3v4h-3zM682 365h3v4h-3zM685 365h3v4h-3zM745 365h3v4h-3zM751 365h3v4h-3zM760 365h3v4h-3zM766 365h3v4h-3zM790 365h3v4h-3zM793 365h3v4h-3zM796 365h3v4h-3zM814 365h3v4h-3zM832 365h3v4h-3zM835 365h3v4h-3zM679 369h3v4h-3zM727 369h3v4h-3zM835 369h3v4h-3zM682 373h3v4h-3zM742 373h3v4h-3zM823 373h3v4h-3zM730 377h3v4h-3zM733 377h3v4h-3zM838 377h3v4h-3zM841 393h3v4h-3zM844 393h3v4h-3zM838 401h3v4h-3zM841 405h3v4h-3zM679 469h3v4h-3zM685 469h3v4h-3zM688 469h3v4h-3zM685 473h3v4h-3zM823 473h3v4h-3zM826 473h3v4h-3zM829 473h3v4h-3zM688 477h3v4h-3zM790 481h3v4h-3zM787 485h3v4h-3zM787 489h3v4h-3zM790 497h3v4h-3zM793 497h3v4h-3zM829 497h3v4h-3zM832 497h3v4h-3zM835 497h3v4h-3zM841 497h3v4h-3zM844 497h3v4h-3zM697 501h3v4h-3zM781 505h3v4h-3zM685 513h3v4h-3zM841 525h3v4h-3zM715 537h3v4h-3zM718 537h3v4h-3zM793 537h3v4h-3zM769 541h3v4h-3z"/>
<path fill="#7aec00" d="M763 325h3v4h-3zM766 325h3v4h-3zM769 325h3v4h-3zM757 329h3v4h-3zM736 337h3v4h-3zM739 337h3v4h-3zM748 341h3v4h-3zM778 341h3v4h-3zM784 341h3v4h-3zM745 345h3v4h-3zM748 345h3v4h-3zM772 345h3v4h-3zM805 345h3v4h-3zM808 345h3v4h-3zM811 345h3v4h-3zM796 349h3v4h-3zM820 349h3v4h-3zM823 349h3v4h-3zM826 349h3v4h-3zM829 349h3v4h-3zM832 349h3v4h-3zM748 353h3v4h-3zM820 353h3v4h-3zM835 353h3v4h-3zM682 357h3v4h-3zM748 357h3v4h-3zM751 357h3v4h-3zM769 357h3v4h-3zM679 361h3v4h-3zM682 361h3v4h-3zM754 361h3v4h-3zM766 361h3v4h-3zM796 361h3v4h-3zM838 365h3v4h-3zM730 369h3v4h-3zM742 369h3v4h-3zM733 373h3v4h-3zM814 373h3v4h-3zM817 377h3v4h-3zM841 381h3v4h-3zM844 381h3v4h-3zM841 397h3v4h-3zM841 401h3v4h-3zM814 473h3v4h-3zM817 473h3v4h-3zM838 473h3v4h-3zM826 477h3v4h-3zM829 477h3v4h-3zM715 497h3v4h-3zM730 497h3v4h-3zM802 497h3v4h-3zM808 497h3v4h-3zM688 509h3v4h-3zM781 509h3v4h-3zM688 525h3v4h-3zM784 525h3v4h-3zM691 529h3v4h-3zM697 533h3v4h-3zM754 533h3v4h-3zM721 537h3v4h-3zM736 537h3v4h-3zM745 537h3v4h-3zM772 541h3v4h-3zM772 545h3v4h-3zM823 545h3v4h-3zM790 549h3v4h-3zM793 549h3v4h-3zM790 553h3v2h-3z"/>
<path fill="#88ee00" d="M772 325h3v4h-3zM760 329h3v4h-3zM763 329h3v4h-3zM766 329h3v4h-3zM733 341h3v4h-3zM742 341h3v4h-3zM745 341h3v4h-3zM787 341h3v4h-3zM793 345h3v4h-3zM796 345h3v4h-3zM799 345h3v4h-3zM814 345h3v4h-3zM745 349h3v4h-3zM727 357h3v4h-3zM793 357h3v4h-3zM796 357h3v4h-3zM838 357h3v4h-3zM757 361h3v4h-3zM763 361h3v4h-3zM793 361h3v4h-3zM820 361h3v4h-3zM838 361h3v4h-3zM730 365h3v4h-3zM742 365h3v4h-3zM820 365h3v4h-3zM817 369h3v4h-3zM820 369h3v4h-3zM817 373h3v4h-3zM841 377h3v4h-3zM844 377h3v4h-3zM844 397h3v4h-3zM802 473h3v4h-3zM841 473h3v4h-3zM844 473h3v4h-3zM823 477h3v4h-3zM832 477h3v4h-3zM835 477h3v4h-3zM790 485h3v4h-3zM787 493h3v4h-3zM832 493h3v4h-3zM841 493h3v4h-3zM712 497h3v4h-3zM721 497h3v4h-3zM724 497h3v4h-3zM736 497h3v4h-3zM763 497h3v4h-3zM769 497h3v4h-3zM805 497h3v4h-3zM700 501h3v4h-3zM775 501h3v4h-3zM694 505h3v4h-3zM784 529h3v4h-3zM838 529h3v4h-3zM844 529h3v4h-3zM766 533h3v4h-3zM787 533h3v4h-3zM835 533h3v4h-3zM724 537h3v4h-3zM730 537h3v4h-3zM739 537h3v4h-3zM790 541h3v4h-3zM829 541h3v4h-3zM790 545h3v4h-3zM820 549h3v4h-3zM820 553h3v2h-3z"/>
<path fill="#aaf200" d="M775 325h3v4h-3zM790 329h3v4h-3zM763 333h3v4h-3zM766 333h3v4h-3zM775 333h3v4h-3zM781 333h3v4h-3zM775 337h3v4h-3zM790 337h3v4h-3zM796 337h3v4h-3zM754 341h3v4h-3zM805 341h3v4h-3zM811 341h3v4h-3zM814 341h3v4h-3zM733 345h3v4h-3zM739 345h3v4h-3zM823 345h3v4h-3zM832 345h3v4h-3zM730 353h3v4h-3zM730 357h3v4h-3zM742 357h3v4h-3zM754 357h3v4h-3zM766 357h3v4h-3zM742 361h3v4h-3zM739 365h3v4h-3zM841 365h3v4h-3zM736 369h3v4h-3zM805 473h3v4h-3zM802 477h3v4h-3zM820 481h3v4h-3zM823 481h3v4h-3zM832 481h3v4h-3zM835 481h3v4h-3zM841 481h3v4h-3zM844 481h3v4h-3zM793 485h3v4h-3zM823 485h3v4h-3zM826 485h3v4h-3zM832 485h3v4h-3zM838 485h3v4h-3zM820 489h3v4h-3zM832 489h3v4h-3zM820 493h3v4h-3zM823 493h3v4h-3zM697 505h3v4h-3zM703 533h3v4h-3zM784 533h3v4h-3zM838 533h3v4h-3zM775 537h3v4h-3zM784 537h3v4h-3zM835 537h3v4h-3zM775 545h3v4h-3zM823 549h3v4h-3zM784 553h3v2h-3z"/>
<path fill="#b4f300" d="M778 325h3v4h-3zM778 329h3v4h-3zM784 333h3v4h-3zM757 337h3v4h-3zM763 337h3v4h-3zM772 337h3v4h-3zM799 337h3v4h-3zM802 337h3v4h-3zM757 341h3v4h-3zM817 341h3v4h-3zM820 341h3v4h-3zM823 341h3v4h-3zM736 345h3v4h-3zM835 345h3v4h-3zM754 349h3v4h-3zM841 349h3v4h-3zM844 349h3v4h-3zM742 353h3v4h-3zM841 353h3v4h-3zM844 353h3v4h-3zM760 357h3v4h-3zM763 357h3v4h-3zM841 357h3v4h-3zM730 361h3v4h-3zM841 361h3v4h-3zM733 365h3v4h-3zM844 365h3v4h-3zM844 369h3v4h-3zM805 477h3v4h-3zM808 477h3v4h-3zM811 477h3v4h-3zM814 481h3v4h-3zM838 481h3v4h-3zM835 485h3v4h-3zM844 485h3v4h-3zM796 489h3v4h-3zM811 489h3v4h-3zM796 493h3v4h-3zM799 493h3v4h-3zM814 493h3v4h-3zM817 493h3v4h-3zM772 501h3v4h-3zM700 505h3v4h-3zM778 509h3v4h-3zM691 521h3v4h-3zM781 521h3v4h-3zM781 525h3v4h-3zM697 529h3v4h-3zM763 529h3v4h-3zM766 529h3v4h-3zM781 529h3v4h-3zM748 533h3v4h-3zM751 533h3v4h-3zM781 533h3v4h-3zM778 537h3v4h-3zM832 541h3v4h-3zM784 549h3v4h-3z"/>
<path fill="#bef400" d="M781 325h3v4h-3zM784 325h3v4h-3zM781 329h3v4h-3zM784 329h3v4h-3zM787 329h3v4h-3zM793 329h3v4h-3zM790 333h3v4h-3zM793 333h3v4h-3zM799 333h3v4h-3zM760 337h3v4h-3zM769 337h3v4h-3zM793 337h3v4h-3zM805 337h3v4h-3zM808 337h3v4h-3zM811 337h3v4h-3zM829 341h3v4h-3zM754 345h3v4h-3zM838 345h3v4h-3zM841 345h3v4h-3zM733 349h3v4h-3zM739 349h3v4h-3zM766 349h3v4h-3zM754 353h3v4h-3zM766 353h3v4h-3zM757 357h3v4h-3zM844 357h3v4h-3zM739 361h3v4h-3zM799 481h3v4h-3zM802 481h3v4h-3zM811 481h3v4h-3zM817 481h3v4h-3zM796 485h3v4h-3zM799 485h3v4h-3zM817 485h3v4h-3zM820 485h3v4h-3zM799 489h3v4h-3zM817 489h3v4h-3zM811 493h3v4h-3zM706 501h3v4h-3zM709 501h3v4h-3zM775 505h3v4h-3zM760 529h3v4h-3zM769 529h3v4h-3zM772 529h3v4h-3zM775 529h3v4h-3zM778 529h3v4h-3zM706 533h3v4h-3zM772 533h3v4h-3zM781 537h3v4h-3zM778 545h3v4h-3zM781 545h3v4h-3zM784 545h3v4h-3zM778 549h3v4h-3zM781 549h3v4h-3zM778 553h3v2h-3zM823 553h3v2h-3z"/>
<path fill="#c8f500" d="M787 325h3v4h-3zM790 325h3v4h-3zM796 333h3v4h-3zM802 333h3v4h-3zM766 337h3v4h-3zM817 337h3v4h-3zM769 341h3v4h-3zM826 341h3v4h-3zM832 341h3v4h-3zM757 345h3v4h-3zM766 345h3v4h-3zM736 349h3v4h-3zM736 353h3v4h-3zM739 353h3v4h-3zM763 353h3v4h-3zM733 357h3v4h-3zM739 357h3v4h-3zM733 361h3v4h-3zM844 361h3v4h-3zM736 365h3v4h-3zM805 481h3v4h-3zM808 481h3v4h-3zM814 485h3v4h-3zM802 489h3v4h-3zM808 489h3v4h-3zM814 489h3v4h-3zM802 493h3v4h-3zM805 493h3v4h-3zM808 493h3v4h-3zM712 501h3v4h-3zM715 501h3v4h-3zM718 501h3v4h-3zM694 509h3v4h-3zM691 513h3v4h-3zM778 513h3v4h-3zM691 517h3v4h-3zM778 517h3v4h-3zM775 521h3v4h-3zM778 521h3v4h-3zM694 525h3v4h-3zM775 525h3v4h-3zM778 525h3v4h-3zM700 529h3v4h-3zM712 533h3v4h-3zM742 533h3v4h-3zM745 533h3v4h-3zM775 533h3v4h-3zM778 533h3v4h-3zM841 533h3v4h-3zM844 533h3v4h-3zM778 541h3v4h-3zM781 541h3v4h-3zM829 545h3v4h-3zM781 553h3v2h-3z"/>
<path fill="#cff400" d="M793 325h3v4h-3zM796 325h3v4h-3zM799 325h3v4h-3zM796 329h3v4h-3zM799 329h3v4h-3zM805 329h3v4h-3zM805 333h3v4h-3zM808 333h3v4h-3zM814 337h3v4h-3zM760 341h3v4h-3zM763 341h3v4h-3zM766 341h3v4h-3zM757 349h3v4h-3zM733 353h3v4h-3zM757 353h3v4h-3zM760 353h3v4h-3zM805 485h3v4h-3zM808 485h3v4h-3zM811 485h3v4h-3zM733 501h3v4h-3zM736 501h3v4h-3zM769 525h3v4h-3zM772 525h3v4h-3zM718 533h3v4h-3zM721 533h3v4h-3zM739 533h3v4h-3zM835 541h3v4h-3z"/>
<path fill="#d6f300" d="M802 325h3v4h-3zM805 325h3v4h-3zM802 329h3v4h-3zM820 337h3v4h-3zM823 337h3v4h-3zM826 337h3v4h-3zM763 345h3v4h-3zM844 345h3v4h-3zM760 349h3v4h-3zM763 349h3v4h-3zM736 361h3v4h-3zM802 485h3v4h-3zM805 489h3v4h-3zM721 501h3v4h-3zM724 501h3v4h-3zM727 501h3v4h-3zM730 501h3v4h-3zM754 501h3v4h-3zM760 501h3v4h-3zM769 501h3v4h-3zM697 509h3v4h-3zM772 509h3v4h-3zM775 509h3v4h-3zM775 517h3v4h-3zM772 521h3v4h-3zM757 529h3v4h-3zM709 533h3v4h-3zM715 533h3v4h-3zM727 533h3v4h-3zM730 533h3v4h-3zM838 537h3v4h-3zM832 545h3v4h-3zM826 549h3v4h-3z"/>
<path fill="#ddf200" d="M808 325h3v4h-3zM808 329h3v4h-3zM811 333h3v4h-3zM814 333h3v4h-3zM835 341h3v4h-3zM760 345h3v4h-3zM736 357h3v4h-3zM739 501h3v4h-3zM742 501h3v4h-3zM745 501h3v4h-3zM748 501h3v4h-3zM757 501h3v4h-3zM703 505h3v4h-3zM775 513h3v4h-3zM772 517h3v4h-3zM766 525h3v4h-3zM724 533h3v4h-3zM733 533h3v4h-3zM841 537h3v4h-3zM826 553h3v2h-3z"/>
<path fill="#ebf000" d="M811 325h3v4h-3zM814 325h3v4h-3zM823 333h3v4h-3zM826 333h3v4h-3zM694 513h3v4h-3z"/>
<path fill="#efed00" d="M817 325h3v4h-3zM820 329h3v4h-3zM829 333h3v4h-3zM832 337h3v4h-3zM835 337h3v4h-3zM772 513h3v4h-3zM697 517h3v4h-3zM769 517h3v4h-3zM697 521h3v4h-3zM766 521h3v4h-3zM700 525h3v4h-3zM763 525h3v4h-3zM706 529h3v4h-3zM754 529h3v4h-3zM841 541h3v4h-3zM844 541h3v4h-3zM829 553h3v2h-3z"/>
<path fill="#f7e700" d="M820 325h3v4h-3zM823 329h3v4h-3zM826 329h3v4h-3zM715 505h3v4h-3zM718 505h3v4h-3zM766 505h3v4h-3zM697 513h3v4h-3zM769 513h3v4h-3zM766 517h3v4h-3zM709 529h3v4h-3zM841 545h3v4h-3zM832 549h3v4h-3zM832 553h3v2h-3z"/>
<path fill="#fbe400" d="M823 325h3v4h-3zM826 325h3v4h-3zM829 329h3v4h-3zM832 333h3v4h-3zM838 337h3v4h-3zM736 505h3v4h-3zM745 505h3v4h-3zM754 505h3v4h-3zM757 505h3v4h-3zM703 509h3v4h-3zM766 509h3v4h-3zM769 509h3v4h-3zM760 525h3v4h-3zM712 529h3v4h-3zM835 549h3v4h-3z"/>
<path fill="#ffe100" d="M829 325h3v4h-3zM835 333h3v4h-3zM841 337h3v4h-3zM844 337h3v4h-3zM721 505h3v4h-3zM724 505h3v4h-3zM733 505h3v4h-3zM739 505h3v4h-3zM742 505h3v4h-3zM748 505h3v4h-3zM760 505h3v4h-3zM763 505h3v4h-3zM700 517h3v4h-3zM703 525h3v4h-3zM715 529h3v4h-3zM748 529h3v4h-3z"/>
<path fill="#ffd100" d="M832 325h3v4h-3zM835 325h3v4h-3zM703 513h3v4h-3zM763 513h3v4h-3zM709 525h3v4h-3zM727 529h3v4h-3zM841 553h3v2h-3zM844 553h3v2h-3z"/>
<path fill="#fec800" d="M838 325h3v4h-3zM838 329h3v4h-3zM715 509h3v4h-3zM718 509h3v4h-3zM748 509h3v4h-3zM754 509h3v4h-3zM757 509h3v4h-3zM706 517h3v4h-3zM760 517h3v4h-3z"/>
<path fill="#fdc300" d="M841 325h3v4h-3zM844 329h3v4h-3zM736 509h3v4h-3zM751 509h3v4h-3zM760 513h3v4h-3zM751 525h3v4h-3z"/>
<path fill="#fbb900" d="M844 325h3v4h-3zM757 513h3v4h-3zM709 517h3v4h-3zM757 517h3v4h-3zM757 521h3v4h-3zM748 525h3v4h-3z"/>
<path fill="#40e300" d="M736 329h3v4h-3zM730 333h3v4h-3zM733 333h3v4h-3zM739 333h3v4h-3zM730 337h3v4h-3zM727 341h3v4h-3zM778 345h3v4h-3zM679 349h3v4h-3zM685 349h3v4h-3zM787 349h3v4h-3zM808 349h3v4h-3zM685 353h3v4h-3zM787 357h3v4h-3zM802 357h3v4h-3zM805 357h3v4h-3zM811 357h3v4h-3zM772 361h3v4h-3zM805 361h3v4h-3zM811 361h3v4h-3zM826 361h3v4h-3zM829 361h3v4h-3zM688 365h3v4h-3zM799 365h3v4h-3zM745 369h3v4h-3zM748 369h3v4h-3zM751 369h3v4h-3zM754 369h3v4h-3zM757 369h3v4h-3zM766 369h3v4h-3zM769 369h3v4h-3zM790 369h3v4h-3zM829 369h3v4h-3zM832 369h3v4h-3zM760 373h3v4h-3zM796 373h3v4h-3zM811 373h3v4h-3zM832 373h3v4h-3zM835 373h3v4h-3zM679 377h3v4h-3zM688 377h3v4h-3zM724 377h3v4h-3zM745 377h3v4h-3zM748 377h3v4h-3zM814 377h3v4h-3zM685 381h3v4h-3zM727 381h3v4h-3zM730 381h3v4h-3zM733 381h3v4h-3zM742 381h3v4h-3zM820 381h3v4h-3zM823 381h3v4h-3zM838 381h3v4h-3zM727 385h3v4h-3zM739 385h3v4h-3zM745 385h3v4h-3zM838 385h3v4h-3zM679 389h3v4h-3zM838 389h3v4h-3zM682 393h3v4h-3zM832 393h3v4h-3zM835 393h3v4h-3zM751 397h3v4h-3zM754 397h3v4h-3zM739 401h3v4h-3zM832 401h3v4h-3zM835 405h3v4h-3zM748 409h3v4h-3zM835 409h3v4h-3zM841 409h3v4h-3zM844 409h3v4h-3zM841 413h3v4h-3zM844 413h3v4h-3zM685 445h3v4h-3zM679 449h3v4h-3zM682 449h3v4h-3zM694 449h3v4h-3zM697 449h3v4h-3zM685 453h3v4h-3zM691 453h3v4h-3zM694 453h3v4h-3zM697 453h3v4h-3zM679 457h3v4h-3zM682 457h3v4h-3zM688 457h3v4h-3zM691 457h3v4h-3zM697 457h3v4h-3zM700 457h3v4h-3zM679 461h3v4h-3zM682 461h3v4h-3zM688 461h3v4h-3zM691 461h3v4h-3zM697 461h3v4h-3zM682 465h3v4h-3zM688 465h3v4h-3zM691 465h3v4h-3zM691 469h3v4h-3zM844 469h3v4h-3zM688 473h3v4h-3zM796 473h3v4h-3zM793 477h3v4h-3zM688 481h3v4h-3zM787 481h3v4h-3zM688 485h3v4h-3zM679 489h3v4h-3zM751 493h3v4h-3zM694 497h3v4h-3zM781 497h3v4h-3zM787 497h3v4h-3zM826 497h3v4h-3zM688 501h3v4h-3zM784 501h3v4h-3zM784 509h3v4h-3zM682 517h3v4h-3zM685 525h3v4h-3zM787 525h3v4h-3zM838 525h3v4h-3zM691 533h3v4h-3zM760 533h3v4h-3zM793 533h3v4h-3zM709 537h3v4h-3zM829 537h3v4h-3zM796 541h3v4h-3zM823 541h3v4h-3zM799 545h3v4h-3zM769 549h3v4h-3zM799 549h3v4h-3zM817 549h3v4h-3zM799 553h3v2h-3z"/>
<path fill="#96f000" d="M769 329h3v4h-3zM772 329h3v4h-3zM775 329h3v4h-3zM754 333h3v4h-3zM757 333h3v4h-3zM760 333h3v4h-3zM769 333h3v4h-3zM772 333h3v4h-3zM751 337h3v4h-3zM754 337h3v4h-3zM778 337h3v4h-3zM781 337h3v4h-3zM736 341h3v4h-3zM739 341h3v4h-3zM775 341h3v4h-3zM796 341h3v4h-3zM742 345h3v4h-3zM820 345h3v4h-3zM730 349h3v4h-3zM748 349h3v4h-3zM751 349h3v4h-3zM835 349h3v4h-3zM745 353h3v4h-3zM751 353h3v4h-3zM769 353h3v4h-3zM793 353h3v4h-3zM745 357h3v4h-3zM760 361h3v4h-3zM817 365h3v4h-3zM736 373h3v4h-3zM739 373h3v4h-3zM820 373h3v4h-3zM841 373h3v4h-3zM811 473h3v4h-3zM799 477h3v4h-3zM817 477h3v4h-3zM820 477h3v4h-3zM838 477h3v4h-3zM841 477h3v4h-3zM793 481h3v4h-3zM796 481h3v4h-3zM826 481h3v4h-3zM790 493h3v4h-3zM793 493h3v4h-3zM826 493h3v4h-3zM829 493h3v4h-3zM838 493h3v4h-3zM718 497h3v4h-3zM733 497h3v4h-3zM742 497h3v4h-3zM748 497h3v4h-3zM760 497h3v4h-3zM766 497h3v4h-3zM778 505h3v4h-3zM781 513h3v4h-3zM688 517h3v4h-3zM688 521h3v4h-3zM694 529h3v4h-3zM841 529h3v4h-3zM700 533h3v4h-3zM727 537h3v4h-3zM769 537h3v4h-3zM787 537h3v4h-3zM832 537h3v4h-3zM787 541h3v4h-3zM826 545h3v4h-3zM787 549h3v4h-3zM787 553h3v2h-3z"/>
<path fill="#e4f100" d="M811 329h3v4h-3zM814 329h3v4h-3zM817 329h3v4h-3zM817 333h3v4h-3zM820 333h3v4h-3zM829 337h3v4h-3zM838 341h3v4h-3zM841 341h3v4h-3zM751 501h3v4h-3zM763 501h3v4h-3zM766 501h3v4h-3zM706 505h3v4h-3zM772 505h3v4h-3zM700 509h3v4h-3zM694 517h3v4h-3zM694 521h3v4h-3zM769 521h3v4h-3zM697 525h3v4h-3zM703 529h3v4h-3zM736 533h3v4h-3zM844 537h3v4h-3zM838 541h3v4h-3zM835 545h3v4h-3zM829 549h3v4h-3z"/>
<path fill="#ffd900" d="M832 329h3v4h-3zM838 333h3v4h-3zM844 333h3v4h-3zM727 505h3v4h-3zM763 517h3v4h-3zM703 521h3v4h-3zM706 525h3v4h-3zM757 525h3v4h-3zM736 529h3v4h-3zM838 549h3v4h-3zM841 549h3v4h-3z"/>
<path fill="#ffd500" d="M835 329h3v4h-3zM841 333h3v4h-3zM709 509h3v4h-3zM760 509h3v4h-3zM766 513h3v4h-3zM703 517h3v4h-3zM760 521h3v4h-3zM721 529h3v4h-3zM724 529h3v4h-3zM733 529h3v4h-3zM739 529h3v4h-3zM844 549h3v4h-3zM838 553h3v2h-3z"/>
<path fill="#fcbe00" d="M841 329h3v4h-3zM721 509h3v4h-3zM724 509h3v4h-3zM733 509h3v4h-3zM739 509h3v4h-3zM742 509h3v4h-3zM745 509h3v4h-3zM706 513h3v4h-3zM709 521h3v4h-3zM712 525h3v4h-3z"/>
<path fill="#a0f100" d="M778 333h3v4h-3zM787 333h3v4h-3zM784 337h3v4h-3zM787 337h3v4h-3zM751 341h3v4h-3zM772 341h3v4h-3zM790 341h3v4h-3zM793 341h3v4h-3zM799 341h3v4h-3zM802 341h3v4h-3zM808 341h3v4h-3zM751 345h3v4h-3zM769 345h3v4h-3zM817 345h3v4h-3zM826 345h3v4h-3zM829 345h3v4h-3zM742 349h3v4h-3zM769 349h3v4h-3zM793 349h3v4h-3zM838 349h3v4h-3zM796 353h3v4h-3zM838 353h3v4h-3zM733 369h3v4h-3zM739 369h3v4h-3zM841 369h3v4h-3zM844 373h3v4h-3zM808 473h3v4h-3zM814 477h3v4h-3zM844 477h3v4h-3zM829 481h3v4h-3zM829 485h3v4h-3zM841 485h3v4h-3zM790 489h3v4h-3zM793 489h3v4h-3zM823 489h3v4h-3zM826 489h3v4h-3zM829 489h3v4h-3zM835 489h3v4h-3zM838 489h3v4h-3zM841 489h3v4h-3zM844 489h3v4h-3zM835 493h3v4h-3zM844 493h3v4h-3zM739 497h3v4h-3zM745 497h3v4h-3zM751 497h3v4h-3zM754 497h3v4h-3zM757 497h3v4h-3zM703 501h3v4h-3zM691 509h3v4h-3zM688 513h3v4h-3zM781 517h3v4h-3zM691 525h3v4h-3zM769 533h3v4h-3zM733 537h3v4h-3zM772 537h3v4h-3zM775 541h3v4h-3zM784 541h3v4h-3zM787 545h3v4h-3zM775 549h3v4h-3zM775 553h3v2h-3z"/>
<path fill="#6cea00" d="M742 337h3v4h-3zM781 341h3v4h-3zM730 345h3v4h-3zM790 345h3v4h-3zM802 345h3v4h-3zM790 349h3v4h-3zM811 349h3v4h-3zM814 349h3v4h-3zM817 349h3v4h-3zM790 353h3v4h-3zM799 353h3v4h-3zM814 353h3v4h-3zM817 353h3v4h-3zM823 353h3v4h-3zM832 353h3v4h-3zM679 357h3v4h-3zM817 357h3v4h-3zM820 357h3v4h-3zM835 357h3v4h-3zM727 361h3v4h-3zM745 361h3v4h-3zM751 361h3v4h-3zM790 361h3v4h-3zM817 361h3v4h-3zM823 361h3v4h-3zM679 365h3v4h-3zM757 365h3v4h-3zM763 365h3v4h-3zM823 365h3v4h-3zM682 369h3v4h-3zM814 369h3v4h-3zM823 369h3v4h-3zM838 369h3v4h-3zM730 373h3v4h-3zM838 373h3v4h-3zM682 377h3v4h-3zM736 377h3v4h-3zM739 377h3v4h-3zM820 377h3v4h-3zM841 385h3v4h-3zM844 385h3v4h-3zM838 397h3v4h-3zM844 401h3v4h-3zM685 465h3v4h-3zM679 473h3v4h-3zM682 473h3v4h-3zM820 473h3v4h-3zM832 473h3v4h-3zM835 473h3v4h-3zM679 477h3v4h-3zM682 477h3v4h-3zM685 477h3v4h-3zM796 477h3v4h-3zM679 481h3v4h-3zM682 481h3v4h-3zM685 481h3v4h-3zM679 485h3v4h-3zM706 497h3v4h-3zM709 497h3v4h-3zM727 497h3v4h-3zM772 497h3v4h-3zM796 497h3v4h-3zM799 497h3v4h-3zM811 497h3v4h-3zM814 497h3v4h-3zM817 497h3v4h-3zM820 497h3v4h-3zM823 497h3v4h-3zM838 497h3v4h-3zM778 501h3v4h-3zM691 505h3v4h-3zM685 517h3v4h-3zM784 521h3v4h-3zM790 533h3v4h-3zM742 537h3v4h-3zM748 537h3v4h-3zM790 537h3v4h-3zM793 541h3v4h-3zM793 545h3v4h-3zM772 549h3v4h-3zM772 553h3v2h-3zM793 553h3v2h-3z"/>
<path fill="#f3ea00" d="M844 341h3v4h-3zM709 505h3v4h-3zM712 505h3v4h-3zM769 505h3v4h-3zM751 529h3v4h-3zM838 545h3v4h-3z"/>
<path fill="#00c721" d="M808 389h3v4h-3zM802 405h3v4h-3zM802 409h3v4h-3zM805 409h3v4h-3zM808 409h3v4h-3zM802 413h3v4h-3zM805 413h3v4h-3zM802 429h3v4h-3zM790 433h3v4h-3zM805 433h3v4h-3zM811 437h3v4h-3zM814 441h3v4h-3zM817 441h3v4h-3zM820 441h3v4h-3zM832 441h3v4h-3zM802 445h3v4h-3zM805 445h3v4h-3zM793 449h3v4h-3zM796 449h3v4h-3zM802 453h3v4h-3zM835 453h3v4h-3zM778 457h3v4h-3zM787 457h3v4h-3zM844 457h3v4h-3zM754 461h3v4h-3zM757 461h3v4h-3zM760 461h3v4h-3zM763 461h3v4h-3zM772 461h3v4h-3zM778 461h3v4h-3zM793 461h3v4h-3zM838 461h3v4h-3zM736 465h3v4h-3zM742 465h3v4h-3zM745 465h3v4h-3zM751 465h3v4h-3zM757 465h3v4h-3zM763 465h3v4h-3zM766 465h3v4h-3zM775 465h3v4h-3zM781 465h3v4h-3zM796 465h3v4h-3zM835 465h3v4h-3zM742 469h3v4h-3zM745 469h3v4h-3zM748 469h3v4h-3zM751 469h3v4h-3zM757 469h3v4h-3zM772 469h3v4h-3zM790 469h3v4h-3zM814 469h3v4h-3zM817 469h3v4h-3zM826 469h3v4h-3zM742 473h3v4h-3zM748 473h3v4h-3zM751 473h3v4h-3zM787 473h3v4h-3zM790 473h3v4h-3zM742 477h3v4h-3zM745 477h3v4h-3zM754 477h3v4h-3zM760 477h3v4h-3zM784 477h3v4h-3zM748 481h3v4h-3zM751 481h3v4h-3zM754 481h3v4h-3zM757 481h3v4h-3zM763 481h3v4h-3zM760 485h3v4h-3zM766 485h3v4h-3zM769 485h3v4h-3zM778 489h3v4h-3zM796 505h3v4h-3zM799 505h3v4h-3zM805 509h3v4h-3zM820 509h3v4h-3zM823 509h3v4h-3zM829 509h3v4h-3zM814 513h3v4h-3zM829 513h3v4h-3zM832 517h3v4h-3zM793 525h3v4h-3zM799 529h3v4h-3zM826 533h3v4h-3zM700 537h3v4h-3zM805 537h3v4h-3zM718 541h3v4h-3zM814 541h3v4h-3zM754 545h3v4h-3zM763 553h3v2h-3z"/>
<path fill="#00c12c" d="M811 389h3v4h-3zM805 417h3v4h-3zM808 445h3v4h-3zM832 445h3v4h-3zM802 449h3v4h-3zM805 449h3v4h-3zM835 449h3v4h-3zM799 453h3v4h-3zM805 453h3v4h-3zM838 453h3v4h-3zM766 457h3v4h-3zM796 457h3v4h-3zM835 457h3v4h-3zM838 457h3v4h-3zM784 461h3v4h-3zM796 461h3v4h-3zM754 465h3v4h-3zM769 465h3v4h-3zM772 465h3v4h-3zM778 465h3v4h-3zM787 465h3v4h-3zM799 465h3v4h-3zM802 465h3v4h-3zM832 465h3v4h-3zM754 469h3v4h-3zM760 469h3v4h-3zM763 469h3v4h-3zM766 469h3v4h-3zM769 469h3v4h-3zM775 469h3v4h-3zM778 469h3v4h-3zM784 469h3v4h-3zM787 469h3v4h-3zM745 473h3v4h-3zM757 473h3v4h-3zM766 473h3v4h-3zM778 477h3v4h-3zM760 481h3v4h-3zM781 481h3v4h-3zM772 485h3v4h-3zM775 485h3v4h-3zM778 485h3v4h-3zM802 505h3v4h-3zM802 509h3v4h-3zM826 509h3v4h-3zM811 513h3v4h-3zM823 513h3v4h-3zM826 513h3v4h-3zM832 521h3v4h-3zM802 533h3v4h-3zM760 537h3v4h-3zM808 537h3v4h-3zM820 537h3v4h-3zM721 541h3v4h-3zM763 541h3v4h-3zM811 541h3v4h-3zM730 545h3v4h-3zM736 549h3v4h-3zM739 549h3v4h-3zM763 549h3v4h-3zM739 553h3v2h-3zM757 553h3v2h-3z"/>
<path fill="#00bc37" d="M811 445h3v4h-3zM817 445h3v4h-3zM823 445h3v4h-3zM826 445h3v4h-3zM829 445h3v4h-3zM808 449h3v4h-3zM799 457h3v4h-3zM835 461h3v4h-3zM781 469h3v4h-3zM760 473h3v4h-3zM763 473h3v4h-3zM772 473h3v4h-3zM778 473h3v4h-3zM784 473h3v4h-3zM763 477h3v4h-3zM766 477h3v4h-3zM772 477h3v4h-3zM775 477h3v4h-3zM766 481h3v4h-3zM769 481h3v4h-3zM772 481h3v4h-3zM778 481h3v4h-3zM793 505h3v4h-3zM799 509h3v4h-3zM802 513h3v4h-3zM805 513h3v4h-3zM808 513h3v4h-3zM817 513h3v4h-3zM820 513h3v4h-3zM802 517h3v4h-3zM826 517h3v4h-3zM829 517h3v4h-3zM829 521h3v4h-3zM796 525h3v4h-3zM799 525h3v4h-3zM829 525h3v4h-3zM697 537h3v4h-3zM727 545h3v4h-3zM733 549h3v4h-3zM736 553h3v2h-3zM760 553h3v2h-3z"/>
<path fill="#00ba40" d="M814 445h3v4h-3zM820 445h3v4h-3zM832 449h3v4h-3zM802 457h3v4h-3zM829 465h3v4h-3zM769 473h3v4h-3zM775 473h3v4h-3zM769 477h3v4h-3zM781 477h3v4h-3zM775 481h3v4h-3zM790 509h3v4h-3zM796 509h3v4h-3zM790 513h3v4h-3zM790 517h3v4h-3zM808 517h3v4h-3zM820 517h3v4h-3zM823 517h3v4h-3zM796 521h3v4h-3zM826 521h3v4h-3zM802 525h3v4h-3zM826 525h3v4h-3zM802 529h3v4h-3zM826 529h3v4h-3zM805 533h3v4h-3zM694 537h3v4h-3zM811 537h3v4h-3zM715 541h3v4h-3zM757 541h3v4h-3zM724 545h3v4h-3zM757 549h3v4h-3z"/>
<path fill="#00b949" d="M811 449h3v4h-3zM826 449h3v4h-3zM829 449h3v4h-3zM808 453h3v4h-3zM832 453h3v4h-3zM805 457h3v4h-3zM832 457h3v4h-3zM799 461h3v4h-3zM802 461h3v4h-3zM832 461h3v4h-3zM805 465h3v4h-3zM781 473h3v4h-3zM793 509h3v4h-3zM796 513h3v4h-3zM799 513h3v4h-3zM793 517h3v4h-3zM796 517h3v4h-3zM799 517h3v4h-3zM805 517h3v4h-3zM811 517h3v4h-3zM817 517h3v4h-3zM793 521h3v4h-3zM799 521h3v4h-3zM802 521h3v4h-3zM805 521h3v4h-3zM823 521h3v4h-3zM805 525h3v4h-3zM823 533h3v4h-3zM691 537h3v4h-3zM814 537h3v4h-3zM817 537h3v4h-3zM712 541h3v4h-3zM757 545h3v4h-3zM763 545h3v4h-3zM730 549h3v4h-3zM760 549h3v4h-3zM733 553h3v2h-3z"/>
<path fill="#00b752" d="M814 449h3v4h-3zM820 449h3v4h-3zM829 457h3v4h-3zM814 517h3v4h-3zM823 525h3v4h-3zM805 529h3v4h-3zM808 529h3v4h-3zM823 529h3v4h-3zM808 533h3v4h-3zM760 541h3v4h-3zM727 549h3v4h-3z"/>
<path fill="#00b65b" d="M817 449h3v4h-3zM823 449h3v4h-3zM829 461h3v4h-3zM808 465h3v4h-3zM826 465h3v4h-3zM811 529h3v4h-3zM820 529h3v4h-3zM811 533h3v4h-3zM820 533h3v4h-3zM688 537h3v4h-3zM760 545h3v4h-3zM730 553h3v2h-3z"/>
<path fill="#00b464" d="M811 453h3v4h-3zM808 457h3v4h-3zM805 461h3v4h-3zM793 513h3v4h-3zM808 521h3v4h-3zM811 521h3v4h-3zM820 521h3v4h-3zM808 525h3v4h-3zM811 525h3v4h-3zM685 537h3v4h-3zM721 545h3v4h-3z"/>
<path fill="#00b974" d="M814 453h3v4h-3zM826 453h3v4h-3zM823 457h3v4h-3zM826 457h3v4h-3zM808 461h3v4h-3zM826 461h3v4h-3zM823 465h3v4h-3zM814 529h3v4h-3zM817 529h3v4h-3zM724 549h3v4h-3z"/>
<path fill="#00bb7c" d="M817 453h3v4h-3zM811 457h3v4h-3zM811 465h3v4h-3zM820 465h3v4h-3zM817 525h3v4h-3zM703 541h3v4h-3zM706 541h3v4h-3zM715 545h3v4h-3zM724 553h3v2h-3z"/>
<path fill="#00b66c" d="M820 453h3v4h-3zM823 453h3v4h-3zM829 453h3v4h-3zM814 521h3v4h-3zM817 521h3v4h-3zM814 525h3v4h-3zM820 525h3v4h-3zM814 533h3v4h-3zM817 533h3v4h-3zM679 537h3v4h-3zM682 537h3v4h-3zM709 541h3v4h-3zM718 545h3v4h-3zM727 553h3v2h-3z"/>
<path fill="#00c39e" d="M814 457h3v4h-3zM700 541h3v4h-3z"/>
<path fill="#00c295" d="M817 457h3v4h-3zM811 461h3v4h-3zM817 465h3v4h-3zM712 545h3v4h-3zM718 549h3v4h-3zM721 553h3v2h-3z"/>
<path fill="#00be84" d="M820 457h3v4h-3zM823 461h3v4h-3zM721 549h3v4h-3z"/>
<path fill="#00c6b0" d="M814 461h3v4h-3zM817 461h3v4h-3zM685 541h3v4h-3zM697 541h3v4h-3z"/>
<path fill="#00c5a7" d="M820 461h3v4h-3zM688 541h3v4h-3zM715 549h3v4h-3zM718 553h3v2h-3z"/>
<path fill="#00c08c" d="M814 465h3v4h-3z"/>
<path fill="#ffdd00" d="M730 505h3v4h-3zM751 505h3v4h-3zM706 509h3v4h-3zM763 509h3v4h-3zM700 513h3v4h-3zM700 521h3v4h-3zM763 521h3v4h-3zM718 529h3v4h-3zM742 529h3v4h-3zM745 529h3v4h-3zM844 545h3v4h-3zM835 553h3v2h-3z"/>
<path fill="#ffcd00" d="M712 509h3v4h-3zM706 521h3v4h-3zM754 525h3v4h-3zM730 529h3v4h-3z"/>
<path fill="#fab400" d="M727 509h3v4h-3zM730 509h3v4h-3zM709 513h3v4h-3zM715 525h3v4h-3zM745 525h3v4h-3z"/>
<path fill="#f8aa00" d="M712 513h3v4h-3zM751 513h3v4h-3zM754 517h3v4h-3zM721 525h3v4h-3zM742 525h3v4h-3z"/>
<path fill="#f7a500" d="M715 513h3v4h-3zM748 513h3v4h-3zM754 513h3v4h-3zM748 517h3v4h-3zM748 521h3v4h-3zM724 525h3v4h-3zM727 525h3v4h-3zM736 525h3v4h-3z"/>
<path fill="#f59b00" d="M718 513h3v4h-3zM739 513h3v4h-3zM742 517h3v4h-3z"/>
<path fill="#f19100" d="M721 513h3v4h-3zM730 513h3v4h-3zM718 517h3v4h-3zM721 517h3v4h-3zM736 517h3v4h-3zM739 517h3v4h-3z"/>
<path fill="#ef8c00" d="M724 513h3v4h-3zM727 513h3v4h-3zM733 513h3v4h-3zM727 517h3v4h-3zM730 517h3v4h-3zM721 521h3v4h-3zM727 521h3v4h-3zM736 521h3v4h-3zM739 521h3v4h-3z"/>
<path fill="#f39600" d="M736 513h3v4h-3zM742 513h3v4h-3zM718 521h3v4h-3zM742 521h3v4h-3zM745 521h3v4h-3z"/>
<path fill="#f6a000" d="M745 513h3v4h-3zM715 517h3v4h-3zM745 517h3v4h-3zM751 517h3v4h-3zM715 521h3v4h-3zM751 521h3v4h-3zM730 525h3v4h-3zM733 525h3v4h-3z"/>
<path fill="#f9af00" d="M712 517h3v4h-3zM712 521h3v4h-3zM754 521h3v4h-3zM718 525h3v4h-3zM739 525h3v4h-3z"/>
<path fill="#ed8700" d="M724 517h3v4h-3zM733 517h3v4h-3zM724 521h3v4h-3zM733 521h3v4h-3z"/>
<path fill="#eb8200" d="M730 521h3v4h-3z"/>
<path fill="#00c8b9" d="M679 541h3v4h-3zM682 541h3v4h-3zM691 541h3v4h-3zM694 541h3v4h-3zM709 545h3v4h-3z"/>
<path fill="#00cde1" d="M679 545h3v4h-3zM694 545h3v4h-3zM703 549h3v4h-3z"/>
<path fill="#00c7e7" d="M682 545h3v4h-3zM685 545h3v4h-3zM688 545h3v4h-3zM691 545h3v4h-3zM706 549h3v4h-3zM709 553h3v2h-3z"/>
<path fill="#00ccd9" d="M697 545h3v4h-3zM700 545h3v4h-3zM709 549h3v4h-3z"/>
<path fill="#00cac9" d="M703 545h3v4h-3zM712 549h3v4h-3zM712 553h3v2h-3z"/>
<path fill="#00c9c1" d="M706 545h3v4h-3zM715 553h3v2h-3z"/>
<path fill="#00c1ed" d="M679 549h3v4h-3zM685 549h3v4h-3zM691 549h3v4h-3zM700 549h3v4h-3zM679 553h3v2h-3zM682 553h3v2h-3zM685 553h3v2h-3z"/>
<path fill="#00b5f9" d="M682 549h3v4h-3zM688 549h3v4h-3zM694 549h3v4h-3zM697 549h3v4h-3zM691 553h3v2h-3z"/>
<path fill="#00bbf3" d="M688 553h3v2h-3zM703 553h3v2h-3zM706 553h3v2h-3z"/>
<path fill="#00afff" d="M694 553h3v2h-3zM697 553h3v2h-3zM700 553h3v2h-3z"/>
<polygon points="687,325 687,326 686.5,330 686.5,332.3 688,332.3 690.5,333 694,333.3 696,334 698,335.5 700,336 702,337 704,338.5 706,339.5 707.5,340.5 710,341 713,342 716,342 719,341.5 722,340.5 724.5,338 727,335 729.5,332.5 731.5,330 733,327.5 734,326 735,325" fill="#fcc999"/>
<polyline points="687,326 686.5,330 686.5,332.3 688,332.3 690.5,333 694,333.3 696,334 698,335.5 700,336 702,337 704,338.5 706,339.5 707.5,340.5 710,341 713,342 716,342 719,341.5 722,340.5 724.5,338 727,335 729.5,332.5 731.5,330 733,327.5 734,326" fill="none" stroke="#000" stroke-width="1.2" shape-rendering="crispEdges"/>
<rect x="683" y="326" width="4" height="2" fill="#fcc999"/>
<path d="M684 328h4v3l-1.5 1.5h-2l-0.5 -1.5z" fill="#000"/>
<polyline points="679.5,335 683,337 686,339.5 689,341 690.5,341.5" fill="none" stroke="#000" stroke-width="1.2" shape-rendering="crispEdges"/>
<polyline points="735.5,327 731,332.5 728,337 726.8,341" fill="none" stroke="#000" stroke-width="1.2" shape-rendering="crispEdges"/>
<polygon points="697,342.5 700,342 701.5,343.5 703,347 705,349 704.5,351 701,352.5 698,353.5 695.5,354.5 694.5,353 696,350 697,346" fill="#fcc999" stroke="#000" stroke-width="1.6" shape-rendering="crispEdges"/>
<rect x="707" y="343" width="2" height="2" fill="#000"/>
<rect x="686" y="334" width="5" height="4" fill="#fff"/>
<rect x="698" y="337" width="3" height="2" fill="#fff"/>
<rect x="705" y="342.5" width="4" height="2.5" fill="#fff"/>
<rect x="699" y="351" width="2" height="2" fill="#fff"/>
<path d="M714 454l3 -2l1 3l-2 2z" fill="#000"/>
<rect x="833" y="362" width="2" height="1" fill="#000"/>
<rect x="831" y="399" width="1" height="2" fill="#000"/>
<rect x="830" y="443" width="1" height="2" fill="#003"/>
<rect x="684" y="367" width="1" height="1" fill="#000"/>
<rect x="680" y="416" width="2" height="8" fill="#000"/>
<circle cx="778.5" cy="441.5" r="5" fill="none" stroke="#000" stroke-width="1"/>
<rect x="679.5" y="325.5" width="198" height="232" fill="none" stroke="#000" stroke-width="1"/>
<line x1="725.5" y1="323" x2="725.5" y2="325" stroke="#000" stroke-width="1"/>
<line x1="725.5" y1="558" x2="725.5" y2="560" stroke="#000" stroke-width="1"/>
<text x="725.5" y="574" font-size="12" text-anchor="middle">170</text>
<line x1="785.5" y1="323" x2="785.5" y2="325" stroke="#000" stroke-width="1"/>
<line x1="785.5" y1="558" x2="785.5" y2="560" stroke="#000" stroke-width="1"/>
<text x="785.5" y="574" font-size="12" text-anchor="middle">175</text>
<line x1="845.5" y1="323" x2="845.5" y2="325" stroke="#000" stroke-width="1"/>
<line x1="845.5" y1="558" x2="845.5" y2="560" stroke="#000" stroke-width="1"/>
<text x="845.5" y="574" font-size="12" text-anchor="middle">180</text>
<line x1="677" y1="329.5" x2="679" y2="329.5" stroke="#000" stroke-width="1"/>
<line x1="878" y1="329.5" x2="880" y2="329.5" stroke="#000" stroke-width="1"/>
<text x="654.8" y="333.8" font-size="12" text-anchor="start" textLength="18.6" lengthAdjust="spacingAndGlyphs">-46</text>
<line x1="677" y1="368.5" x2="679" y2="368.5" stroke="#000" stroke-width="1"/>
<line x1="878" y1="368.5" x2="880" y2="368.5" stroke="#000" stroke-width="1"/>
<text x="654.8" y="372.3" font-size="12" text-anchor="start" textLength="18.6" lengthAdjust="spacingAndGlyphs">-48</text>
<line x1="677" y1="406.5" x2="679" y2="406.5" stroke="#000" stroke-width="1"/>
<line x1="878" y1="406.5" x2="880" y2="406.5" stroke="#000" stroke-width="1"/>
<text x="654.8" y="410.8" font-size="12" text-anchor="start" textLength="18.6" lengthAdjust="spacingAndGlyphs">-50</text>
<line x1="677" y1="445.5" x2="679" y2="445.5" stroke="#000" stroke-width="1"/>
<line x1="878" y1="445.5" x2="880" y2="445.5" stroke="#000" stroke-width="1"/>
<text x="654.8" y="449.3" font-size="12" text-anchor="start" textLength="18.6" lengthAdjust="spacingAndGlyphs">-52</text>
<line x1="677" y1="483.5" x2="679" y2="483.5" stroke="#000" stroke-width="1"/>
<line x1="878" y1="483.5" x2="880" y2="483.5" stroke="#000" stroke-width="1"/>
<text x="654.8" y="487.8" font-size="12" text-anchor="start" textLength="18.6" lengthAdjust="spacingAndGlyphs">-54</text>
<line x1="677" y1="522.5" x2="679" y2="522.5" stroke="#000" stroke-width="1"/>
<line x1="878" y1="522.5" x2="880" y2="522.5" stroke="#000" stroke-width="1"/>
<text x="654.8" y="526.3" font-size="12" text-anchor="start" textLength="18.6" lengthAdjust="spacingAndGlyphs">-56</text>
<text x="707.6" y="26" font-size="12.2" text-anchor="start" textLength="137.4" lengthAdjust="spacingAndGlyphs">sat. SST: 9.03 Argo: 9.44</text>
<text x="712.2" y="302.1" font-size="12.2" text-anchor="start" textLength="94.5" lengthAdjust="spacingAndGlyphs">Altim. SLA: 0.013</text>
<text x="692.9" y="315.7" font-size="12.2" text-anchor="start" textLength="167" lengthAdjust="spacingAndGlyphs">Argo h1000: NaN h2000: NaN</text>
<text x="0" y="0" font-size="12.5" transform="translate(890.3,547) rotate(-90)" textLength="171" lengthAdjust="spacingAndGlyphs">©IMOS 20-Feb-2017 20:39:36</text>
</svg>
</body></html>
